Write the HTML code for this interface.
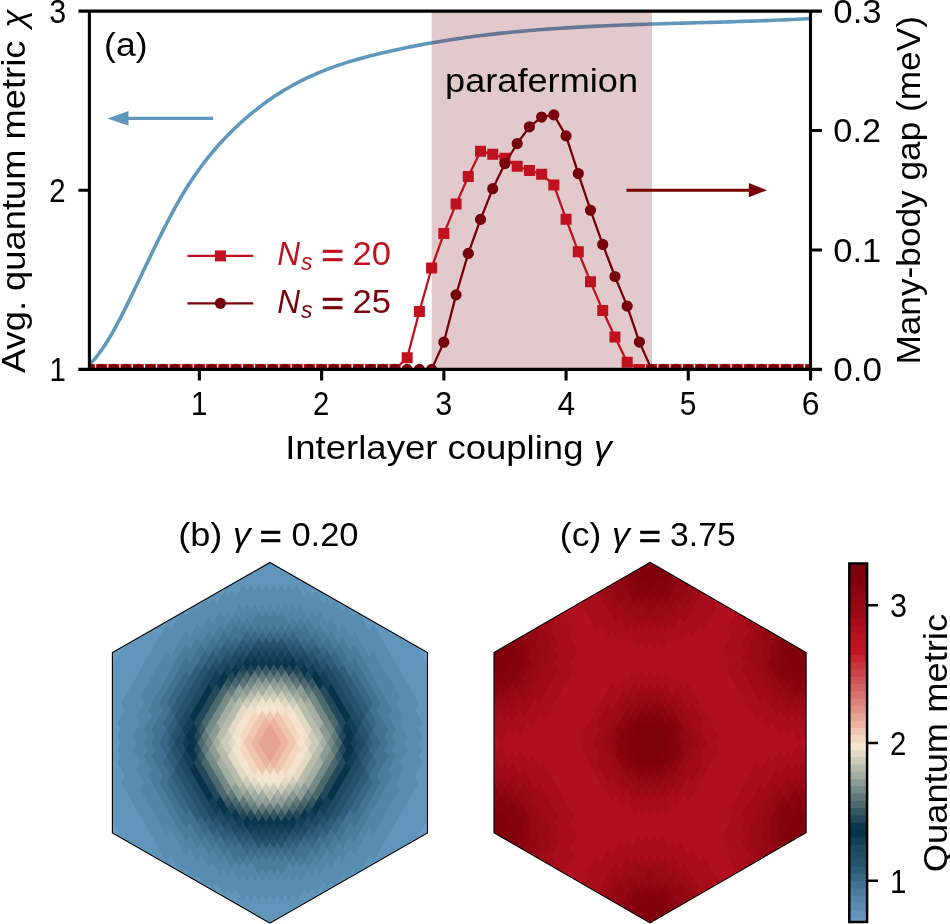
<!DOCTYPE html><html><head><meta charset="utf-8"><style>html,body{margin:0;padding:0;background:#fff;overflow:hidden}svg{display:block}text{font-family:"Liberation Sans",sans-serif}</style></head><body><svg width="950" height="924" viewBox="0 0 950 924"><defs><clipPath id="ax"><rect x="89.4" y="11.1" width="721.1" height="358.3"/></clipPath><clipPath id="hx0"><polygon points="269.95,562.4 427.5,652.6 427.5,833 269.95,923.2 112.4,833 112.4,652.6"/></clipPath><clipPath id="hx1"><polygon points="650.05,562.3 806.1,652.45 806.1,832.75 650.05,922.9 494,832.75 494,652.45"/></clipPath></defs><g clip-path="url(#ax)"><path d="M89.4 364.49L93.94 359.84L98.47 354.3L103.01 347.98L107.54 340.96L112.08 333.33L116.61 325.17L121.15 316.57L125.68 307.62L130.22 298.4L134.75 289L139.29 279.51L143.82 269.99L148.36 260.5L152.89 251.09L157.43 241.79L161.96 232.65L166.5 223.73L171.03 215.06L175.57 206.69L180.1 198.68L184.64 191.06L189.17 183.83L193.71 176.97L198.25 170.46L202.78 164.29L207.32 158.42L211.85 152.84L216.39 147.53L220.92 142.47L225.46 137.63L229.99 133L234.53 128.56L239.06 124.28L243.6 120.18L248.13 116.24L252.67 112.46L257.2 108.83L261.74 105.36L266.27 102.03L270.81 98.84L275.34 95.79L279.88 92.88L284.41 90.09L288.95 87.43L293.48 84.89L298.02 82.46L302.56 80.15L307.09 77.94L311.63 75.83L316.16 73.82L320.7 71.91L325.23 70.08L329.77 68.34L334.3 66.68L338.84 65.1L343.37 63.59L347.91 62.14L352.44 60.76L356.98 59.43L361.51 58.16L366.05 56.94L370.58 55.77L375.12 54.63L379.65 53.54L384.19 52.47L388.72 51.43L393.26 50.42L397.79 49.44L402.33 48.48L406.87 47.54L411.4 46.64L415.94 45.75L420.47 44.89L425.01 44.06L429.54 43.25L434.08 42.46L438.61 41.69L443.15 40.95L447.68 40.23L452.22 39.53L456.75 38.85L461.29 38.19L465.82 37.56L470.36 36.94L474.89 36.34L479.43 35.76L483.96 35.2L488.5 34.66L493.03 34.14L497.57 33.63L502.11 33.14L506.64 32.67L511.18 32.22L515.71 31.78L520.25 31.36L524.78 30.95L529.32 30.55L533.85 30.17L538.39 29.81L542.92 29.46L547.46 29.12L551.99 28.79L556.53 28.48L561.06 28.18L565.6 27.89L570.13 27.61L574.67 27.34L579.2 27.09L583.74 26.84L588.27 26.6L592.81 26.37L597.34 26.15L601.88 25.94L606.42 25.74L610.95 25.55L615.49 25.36L620.02 25.18L624.56 25L629.09 24.83L633.63 24.67L638.16 24.51L642.7 24.36L647.23 24.21L651.77 24.07L656.3 23.93L660.84 23.79L665.37 23.65L669.91 23.52L674.44 23.39L678.98 23.26L683.51 23.14L688.05 23.01L692.58 22.88L697.12 22.76L701.65 22.63L706.19 22.5L710.73 22.38L715.26 22.25L719.8 22.12L724.33 21.98L728.87 21.85L733.4 21.71L737.94 21.56L742.47 21.42L747.01 21.27L751.54 21.11L756.08 20.95L760.61 20.78L765.15 20.61L769.68 20.43L774.22 20.25L778.75 20.05L783.29 19.85L787.82 19.64L792.36 19.43L796.89 19.2L801.43 18.97L805.96 18.73L810.5 18.47" fill="none" stroke="#6098bc" stroke-width="3.6" stroke-linejoin="round"/></g><path d="M128 118.4H213" stroke="#6098bc" stroke-width="3.2"/><path d="M107.5 118.4L128.5 111.1L128.5 125.7Z" fill="#6098bc"/><rect x="431.7" y="11.1" width="220.3" height="358.3" fill="#780010" fill-opacity="0.21"/><g clip-path="url(#ax)"><path d="M89.4 369.4L101.62 369.4L113.84 369.4L126.07 369.4L138.29 369.4L150.51 369.4L162.73 369.4L174.95 369.4L187.18 369.4L199.4 369.4L211.62 369.4L223.84 369.4L236.06 369.4L248.29 369.4L260.51 369.4L272.73 369.4L284.95 369.4L297.17 369.4L309.4 369.4L321.62 369.4L333.84 369.4L346.06 369.4L358.28 369.4L370.51 369.4L382.73 369.4L394.95 369.4L407.17 357.81L419.39 311.47L431.62 268L443.84 233.6L456.06 204.1L468.28 176.52L480.51 151.31L492.73 154.18L504.95 158.36L517.17 166.24L529.39 170.54L541.62 174.25L553.84 184.88L566.06 219.15L578.28 251.64L590.5 281.86L602.73 310.4L614.95 336.91L627.17 362.23L639.39 369.4L651.61 369.4L663.84 369.4L676.06 369.4L688.28 369.4L700.5 369.4L712.72 369.4L724.95 369.4L737.17 369.4L749.39 369.4L761.61 369.4L773.83 369.4L786.06 369.4L798.28 369.4L810.5 369.4" fill="none" stroke="#c0111f" stroke-width="2.3" stroke-linejoin="round"/><path d="M83.9 363.9h11v11h-11ZM96.12 363.9h11v11h-11ZM108.34 363.9h11v11h-11ZM120.57 363.9h11v11h-11ZM132.79 363.9h11v11h-11ZM145.01 363.9h11v11h-11ZM157.23 363.9h11v11h-11ZM169.45 363.9h11v11h-11ZM181.68 363.9h11v11h-11ZM193.9 363.9h11v11h-11ZM206.12 363.9h11v11h-11ZM218.34 363.9h11v11h-11ZM230.56 363.9h11v11h-11ZM242.79 363.9h11v11h-11ZM255.01 363.9h11v11h-11ZM267.23 363.9h11v11h-11ZM279.45 363.9h11v11h-11ZM291.67 363.9h11v11h-11ZM303.9 363.9h11v11h-11ZM316.12 363.9h11v11h-11ZM328.34 363.9h11v11h-11ZM340.56 363.9h11v11h-11ZM352.78 363.9h11v11h-11ZM365.01 363.9h11v11h-11ZM377.23 363.9h11v11h-11ZM389.45 363.9h11v11h-11ZM401.67 352.31h11v11h-11ZM413.89 305.97h11v11h-11ZM426.12 262.5h11v11h-11ZM438.34 228.1h11v11h-11ZM450.56 198.6h11v11h-11ZM462.78 171.02h11v11h-11ZM475.01 145.81h11v11h-11ZM487.23 148.68h11v11h-11ZM499.45 152.86h11v11h-11ZM511.67 160.74h11v11h-11ZM523.89 165.04h11v11h-11ZM536.12 168.75h11v11h-11ZM548.34 179.38h11v11h-11ZM560.56 213.65h11v11h-11ZM572.78 246.14h11v11h-11ZM585 276.36h11v11h-11ZM597.23 304.9h11v11h-11ZM609.45 331.41h11v11h-11ZM621.67 356.73h11v11h-11ZM633.89 363.9h11v11h-11ZM646.11 363.9h11v11h-11ZM658.34 363.9h11v11h-11ZM670.56 363.9h11v11h-11ZM682.78 363.9h11v11h-11ZM695 363.9h11v11h-11ZM707.22 363.9h11v11h-11ZM719.45 363.9h11v11h-11ZM731.67 363.9h11v11h-11ZM743.89 363.9h11v11h-11ZM756.11 363.9h11v11h-11ZM768.33 363.9h11v11h-11ZM780.56 363.9h11v11h-11ZM792.78 363.9h11v11h-11ZM805 363.9h11v11h-11Z" fill="#c0111f"/><path d="M89.4 369.4L101.62 369.4L113.84 369.4L126.07 369.4L138.29 369.4L150.51 369.4L162.73 369.4L174.95 369.4L187.18 369.4L199.4 369.4L211.62 369.4L223.84 369.4L236.06 369.4L248.29 369.4L260.51 369.4L272.73 369.4L284.95 369.4L297.17 369.4L309.4 369.4L321.62 369.4L333.84 369.4L346.06 369.4L358.28 369.4L370.51 369.4L382.73 369.4L394.95 369.4L407.17 369.4L419.39 369.4L431.62 369.4L443.84 342.17L456.06 294.87L468.28 253.43L480.51 219.39L492.73 188.7L504.95 163.62L517.17 143.55L529.39 126.83L541.62 117.04L553.84 114.89L566.06 135.91L578.28 173.53L590.5 210.2L602.73 244.47L614.95 276.48L627.17 306.1L639.39 342.05L651.61 369.4L663.84 369.4L676.06 369.4L688.28 369.4L700.5 369.4L712.72 369.4L724.95 369.4L737.17 369.4L749.39 369.4L761.61 369.4L773.83 369.4L786.06 369.4L798.28 369.4L810.5 369.4" fill="none" stroke="#78000a" stroke-width="2.3" stroke-linejoin="round"/><path d="M83.8 369.4a5.6 5.6 0 1 0 11.2 0a5.6 5.6 0 1 0 -11.2 0ZM96.02 369.4a5.6 5.6 0 1 0 11.2 0a5.6 5.6 0 1 0 -11.2 0ZM108.24 369.4a5.6 5.6 0 1 0 11.2 0a5.6 5.6 0 1 0 -11.2 0ZM120.47 369.4a5.6 5.6 0 1 0 11.2 0a5.6 5.6 0 1 0 -11.2 0ZM132.69 369.4a5.6 5.6 0 1 0 11.2 0a5.6 5.6 0 1 0 -11.2 0ZM144.91 369.4a5.6 5.6 0 1 0 11.2 0a5.6 5.6 0 1 0 -11.2 0ZM157.13 369.4a5.6 5.6 0 1 0 11.2 0a5.6 5.6 0 1 0 -11.2 0ZM169.35 369.4a5.6 5.6 0 1 0 11.2 0a5.6 5.6 0 1 0 -11.2 0ZM181.58 369.4a5.6 5.6 0 1 0 11.2 0a5.6 5.6 0 1 0 -11.2 0ZM193.8 369.4a5.6 5.6 0 1 0 11.2 0a5.6 5.6 0 1 0 -11.2 0ZM206.02 369.4a5.6 5.6 0 1 0 11.2 0a5.6 5.6 0 1 0 -11.2 0ZM218.24 369.4a5.6 5.6 0 1 0 11.2 0a5.6 5.6 0 1 0 -11.2 0ZM230.46 369.4a5.6 5.6 0 1 0 11.2 0a5.6 5.6 0 1 0 -11.2 0ZM242.69 369.4a5.6 5.6 0 1 0 11.2 0a5.6 5.6 0 1 0 -11.2 0ZM254.91 369.4a5.6 5.6 0 1 0 11.2 0a5.6 5.6 0 1 0 -11.2 0ZM267.13 369.4a5.6 5.6 0 1 0 11.2 0a5.6 5.6 0 1 0 -11.2 0ZM279.35 369.4a5.6 5.6 0 1 0 11.2 0a5.6 5.6 0 1 0 -11.2 0ZM291.57 369.4a5.6 5.6 0 1 0 11.2 0a5.6 5.6 0 1 0 -11.2 0ZM303.8 369.4a5.6 5.6 0 1 0 11.2 0a5.6 5.6 0 1 0 -11.2 0ZM316.02 369.4a5.6 5.6 0 1 0 11.2 0a5.6 5.6 0 1 0 -11.2 0ZM328.24 369.4a5.6 5.6 0 1 0 11.2 0a5.6 5.6 0 1 0 -11.2 0ZM340.46 369.4a5.6 5.6 0 1 0 11.2 0a5.6 5.6 0 1 0 -11.2 0ZM352.68 369.4a5.6 5.6 0 1 0 11.2 0a5.6 5.6 0 1 0 -11.2 0ZM364.91 369.4a5.6 5.6 0 1 0 11.2 0a5.6 5.6 0 1 0 -11.2 0ZM377.13 369.4a5.6 5.6 0 1 0 11.2 0a5.6 5.6 0 1 0 -11.2 0ZM389.35 369.4a5.6 5.6 0 1 0 11.2 0a5.6 5.6 0 1 0 -11.2 0ZM401.57 369.4a5.6 5.6 0 1 0 11.2 0a5.6 5.6 0 1 0 -11.2 0ZM413.79 369.4a5.6 5.6 0 1 0 11.2 0a5.6 5.6 0 1 0 -11.2 0ZM426.02 369.4a5.6 5.6 0 1 0 11.2 0a5.6 5.6 0 1 0 -11.2 0ZM438.24 342.17a5.6 5.6 0 1 0 11.2 0a5.6 5.6 0 1 0 -11.2 0ZM450.46 294.87a5.6 5.6 0 1 0 11.2 0a5.6 5.6 0 1 0 -11.2 0ZM462.68 253.43a5.6 5.6 0 1 0 11.2 0a5.6 5.6 0 1 0 -11.2 0ZM474.91 219.39a5.6 5.6 0 1 0 11.2 0a5.6 5.6 0 1 0 -11.2 0ZM487.13 188.7a5.6 5.6 0 1 0 11.2 0a5.6 5.6 0 1 0 -11.2 0ZM499.35 163.62a5.6 5.6 0 1 0 11.2 0a5.6 5.6 0 1 0 -11.2 0ZM511.57 143.55a5.6 5.6 0 1 0 11.2 0a5.6 5.6 0 1 0 -11.2 0ZM523.79 126.83a5.6 5.6 0 1 0 11.2 0a5.6 5.6 0 1 0 -11.2 0ZM536.02 117.04a5.6 5.6 0 1 0 11.2 0a5.6 5.6 0 1 0 -11.2 0ZM548.24 114.89a5.6 5.6 0 1 0 11.2 0a5.6 5.6 0 1 0 -11.2 0ZM560.46 135.91a5.6 5.6 0 1 0 11.2 0a5.6 5.6 0 1 0 -11.2 0ZM572.68 173.53a5.6 5.6 0 1 0 11.2 0a5.6 5.6 0 1 0 -11.2 0ZM584.9 210.2a5.6 5.6 0 1 0 11.2 0a5.6 5.6 0 1 0 -11.2 0ZM597.13 244.47a5.6 5.6 0 1 0 11.2 0a5.6 5.6 0 1 0 -11.2 0ZM609.35 276.48a5.6 5.6 0 1 0 11.2 0a5.6 5.6 0 1 0 -11.2 0ZM621.57 306.1a5.6 5.6 0 1 0 11.2 0a5.6 5.6 0 1 0 -11.2 0ZM633.79 342.05a5.6 5.6 0 1 0 11.2 0a5.6 5.6 0 1 0 -11.2 0ZM646.01 369.4a5.6 5.6 0 1 0 11.2 0a5.6 5.6 0 1 0 -11.2 0ZM658.24 369.4a5.6 5.6 0 1 0 11.2 0a5.6 5.6 0 1 0 -11.2 0ZM670.46 369.4a5.6 5.6 0 1 0 11.2 0a5.6 5.6 0 1 0 -11.2 0ZM682.68 369.4a5.6 5.6 0 1 0 11.2 0a5.6 5.6 0 1 0 -11.2 0ZM694.9 369.4a5.6 5.6 0 1 0 11.2 0a5.6 5.6 0 1 0 -11.2 0ZM707.12 369.4a5.6 5.6 0 1 0 11.2 0a5.6 5.6 0 1 0 -11.2 0ZM719.35 369.4a5.6 5.6 0 1 0 11.2 0a5.6 5.6 0 1 0 -11.2 0ZM731.57 369.4a5.6 5.6 0 1 0 11.2 0a5.6 5.6 0 1 0 -11.2 0ZM743.79 369.4a5.6 5.6 0 1 0 11.2 0a5.6 5.6 0 1 0 -11.2 0ZM756.01 369.4a5.6 5.6 0 1 0 11.2 0a5.6 5.6 0 1 0 -11.2 0ZM768.23 369.4a5.6 5.6 0 1 0 11.2 0a5.6 5.6 0 1 0 -11.2 0ZM780.46 369.4a5.6 5.6 0 1 0 11.2 0a5.6 5.6 0 1 0 -11.2 0ZM792.68 369.4a5.6 5.6 0 1 0 11.2 0a5.6 5.6 0 1 0 -11.2 0ZM804.9 369.4a5.6 5.6 0 1 0 11.2 0a5.6 5.6 0 1 0 -11.2 0Z" fill="#78000a"/></g><path d="M626.5 190.2H750" stroke="#780000" stroke-width="3.1"/><path d="M767 190.2L748.8 183.1L748.8 197.3Z" fill="#780000"/><path d="M187.4 255.9H253.2" stroke="#c0111f" stroke-width="2.3"/><rect x="214.9" y="250.4" width="11" height="11" fill="#c0111f"/><path d="M187.4 303.3H253.2" stroke="#78000a" stroke-width="2.3"/><circle cx="220.4" cy="303.3" r="5.6" fill="#78000a"/><path d="M89.4 11.1H810.5V369.4H89.4ZM199.4 369.4v11M321.62 369.4v11M443.84 369.4v11M566.06 369.4v11M688.28 369.4v11M810.5 369.4v11M89.4 369.4h-11M89.4 190.25h-11M89.4 11.1h-11M810.5 369.4h11.5M810.5 249.97h11.5M810.5 130.53h11.5M810.5 11.1h11.5" fill="none" stroke="#000" stroke-width="3.1" stroke-linecap="butt"/><g clip-path="url(#hx0)"><path fill="#699cc3" d="M269.95 551.51l7.6 12.65-7.6 12.65-7.6-12.65zm-148.98 86.01l7.6 12.65-7.6 12.65-7.6-12.65zm297.96 0l7.6 12.65-7.6 12.65-7.6-12.65zm-301.78 6.62l7.6 12.65-7.6 12.65-7.6-12.65zm305.6 0l7.6 12.65-7.6 12.65-7.6-12.65zm-309.42 6.62l7.6 12.65-7.6 12.65-7.6-12.65zm313.24 0l7.6 12.65-7.6 12.65-7.6-12.65zm-313.24 158.79l7.6 12.65-7.6 12.65-7.6-12.65zm313.24 0l7.6 12.65-7.6 12.65-7.6-12.65zm-309.42 6.62l7.6 12.65-7.6 12.65-7.6-12.65zm305.6 0l7.6 12.65-7.6 12.65-7.6-12.65zm-301.78 6.62l7.6 12.65-7.6 12.65-7.6-12.65zm297.96 0l7.6 12.65-7.6 12.65-7.6-12.65zm-148.98 86.01l7.6 12.65-7.6 12.65-7.6-12.65z"/><path fill="#6195ba" d="M258.49 558.12l7.6 12.65-7.6 12.65-7.6-12.65zm7.64 0l7.6 12.65-7.6 12.65-7.6-12.65zm7.64 0l7.6 12.65-7.6 12.65-7.6-12.65zm7.64 0l7.6 12.65-7.6 12.65-7.6-12.65zm-34.38 6.62l7.6 12.65-7.6 12.65-7.6-12.65zm7.64 0l7.6 12.65-7.6 12.65-7.6-12.65zm7.64 0l7.6 12.65-7.6 12.65-7.6-12.65zm7.64 0l7.6 12.65-7.6 12.65-7.6-12.65zm7.64 0l7.6 12.65-7.6 12.65-7.6-12.65zm7.64 0l7.6 12.65-7.6 12.65-7.6-12.65zm7.64 0l7.6 12.65-7.6 12.65-7.6-12.65zm-57.3 6.62l7.6 12.65-7.6 12.65-7.6-12.65zm7.64 0l7.6 12.65-7.6 12.65-7.6-12.65zm7.64 0l7.6 12.65-7.6 12.65-7.6-12.65zm7.64 0l7.6 12.65-7.6 12.65-7.6-12.65zm7.64 0l7.6 12.65-7.6 12.65-7.6-12.65zm7.64 0l7.6 12.65-7.6 12.65-7.6-12.65zm7.64 0l7.6 12.65-7.6 12.65-7.6-12.65zm7.64 0l7.6 12.65-7.6 12.65-7.6-12.65zm7.64 0l7.6 12.65-7.6 12.65-7.6-12.65zm7.64 0l7.6 12.65-7.6 12.65-7.6-12.65zm-80.22 6.62l7.6 12.65-7.6 12.65-7.6-12.65zm7.64 0l7.6 12.65-7.6 12.65-7.6-12.65zm7.64 0l7.6 12.65-7.6 12.65-7.6-12.65zm7.64 0l7.6 12.65-7.6 12.65-7.6-12.65zm7.64 0l7.6 12.65-7.6 12.65-7.6-12.65zm7.64 0l7.6 12.65-7.6 12.65-7.6-12.65zm7.64 0l7.6 12.65-7.6 12.65-7.6-12.65zm7.64 0l7.6 12.65-7.6 12.65-7.6-12.65zm7.64 0l7.6 12.65-7.6 12.65-7.6-12.65zm7.64 0l7.6 12.65-7.6 12.65-7.6-12.65zm7.64 0l7.6 12.65-7.6 12.65-7.6-12.65zm7.64 0l7.6 12.65-7.6 12.65-7.6-12.65zm7.64 0l7.6 12.65-7.6 12.65-7.6-12.65zm-103.14 6.62l7.6 12.65-7.6 12.65-7.6-12.65zm7.64 0l7.6 12.65-7.6 12.65-7.6-12.65zm7.64 0l7.6 12.65-7.6 12.65-7.6-12.65zm7.64 0l7.6 12.65-7.6 12.65-7.6-12.65zm68.76 0l7.6 12.65-7.6 12.65-7.6-12.65zm7.64 0l7.6 12.65-7.6 12.65-7.6-12.65zm7.64 0l7.6 12.65-7.6 12.65-7.6-12.65zm7.64 0l7.6 12.65-7.6 12.65-7.6-12.65zm-126.06 6.62l7.6 12.65-7.6 12.65-7.6-12.65zm7.64 0l7.6 12.65-7.6 12.65-7.6-12.65zm7.64 0l7.6 12.65-7.6 12.65-7.6-12.65zm106.96 0l7.6 12.65-7.6 12.65-7.6-12.65zm7.64 0l7.6 12.65-7.6 12.65-7.6-12.65zm7.64 0l7.6 12.65-7.6 12.65-7.6-12.65zm-148.98 6.62l7.6 12.65-7.6 12.65-7.6-12.65zm7.64 0l7.6 12.65-7.6 12.65-7.6-12.65zm145.16 0l7.6 12.65-7.6 12.65-7.6-12.65zm7.64 0l7.6 12.65-7.6 12.65-7.6-12.65zm-171.9 6.62l7.6 12.65-7.6 12.65-7.6-12.65zm7.64 0l7.6 12.65-7.6 12.65-7.6-12.65zm168.08 0l7.6 12.65-7.6 12.65-7.6-12.65zm7.64 0l7.6 12.65-7.6 12.65-7.6-12.65zm-194.82 6.62l7.6 12.65-7.6 12.65-7.6-12.65zm7.64 0l7.6 12.65-7.6 12.65-7.6-12.65zm191 0l7.6 12.65-7.6 12.65-7.6-12.65zm7.64 0l7.6 12.65-7.6 12.65-7.6-12.65zm-217.74 6.62l7.6 12.65-7.6 12.65-7.6-12.65zm7.64 0l7.6 12.65-7.6 12.65-7.6-12.65zm7.64 0l7.6 12.65-7.6 12.65-7.6-12.65zm198.64 0l7.6 12.65-7.6 12.65-7.6-12.65zm7.64 0l7.6 12.65-7.6 12.65-7.6-12.65zm7.64 0l7.6 12.65-7.6 12.65-7.6-12.65zm-240.66 6.62l7.6 12.65-7.6 12.65-7.6-12.65zm7.64 0l7.6 12.65-7.6 12.65-7.6-12.65zm7.64 0l7.6 12.65-7.6 12.65-7.6-12.65zm221.56 0l7.6 12.65-7.6 12.65-7.6-12.65zm7.64 0l7.6 12.65-7.6 12.65-7.6-12.65zm7.64 0l7.6 12.65-7.6 12.65-7.6-12.65zm-263.58 6.62l7.6 12.65-7.6 12.65-7.6-12.65zm7.64 0l7.6 12.65-7.6 12.65-7.6-12.65zm7.64 0l7.6 12.65-7.6 12.65-7.6-12.65zm7.64 0l7.6 12.65-7.6 12.65-7.6-12.65zm229.2 0l7.6 12.65-7.6 12.65-7.6-12.65zm7.64 0l7.6 12.65-7.6 12.65-7.6-12.65zm7.64 0l7.6 12.65-7.6 12.65-7.6-12.65zm7.64 0l7.6 12.65-7.6 12.65-7.6-12.65zm-278.86 6.62l7.6 12.65-7.6 12.65-7.6-12.65zm7.64 0l7.6 12.65-7.6 12.65-7.6-12.65zm7.64 0l7.6 12.65-7.6 12.65-7.6-12.65zm7.64 0l7.6 12.65-7.6 12.65-7.6-12.65zm236.84 0l7.6 12.65-7.6 12.65-7.6-12.65zm7.64 0l7.6 12.65-7.6 12.65-7.6-12.65zm7.64 0l7.6 12.65-7.6 12.65-7.6-12.65zm7.64 0l7.6 12.65-7.6 12.65-7.6-12.65zm-286.5 6.62l7.6 12.65-7.6 12.65-7.6-12.65zm7.64 0l7.6 12.65-7.6 12.65-7.6-12.65zm7.64 0l7.6 12.65-7.6 12.65-7.6-12.65zm7.64 0l7.6 12.65-7.6 12.65-7.6-12.65zm244.48 0l7.6 12.65-7.6 12.65-7.6-12.65zm7.64 0l7.6 12.65-7.6 12.65-7.6-12.65zm7.64 0l7.6 12.65-7.6 12.65-7.6-12.65zm7.64 0l7.6 12.65-7.6 12.65-7.6-12.65zm-294.14 6.62l7.6 12.65-7.6 12.65-7.6-12.65zm7.64 0l7.6 12.65-7.6 12.65-7.6-12.65zm7.64 0l7.6 12.65-7.6 12.65-7.6-12.65zm7.64 0l7.6 12.65-7.6 12.65-7.6-12.65zm252.12 0l7.6 12.65-7.6 12.65-7.6-12.65zm7.64 0l7.6 12.65-7.6 12.65-7.6-12.65zm7.64 0l7.6 12.65-7.6 12.65-7.6-12.65zm7.64 0l7.6 12.65-7.6 12.65-7.6-12.65zm-301.78 6.62l7.6 12.65-7.6 12.65-7.6-12.65zm7.64 0l7.6 12.65-7.6 12.65-7.6-12.65zm7.64 0l7.6 12.65-7.6 12.65-7.6-12.65zm7.64 0l7.6 12.65-7.6 12.65-7.6-12.65zm259.76 0l7.6 12.65-7.6 12.65-7.6-12.65zm7.64 0l7.6 12.65-7.6 12.65-7.6-12.65zm7.64 0l7.6 12.65-7.6 12.65-7.6-12.65zm7.64 0l7.6 12.65-7.6 12.65-7.6-12.65zm-309.42 6.62l7.6 12.65-7.6 12.65-7.6-12.65zm7.64 0l7.6 12.65-7.6 12.65-7.6-12.65zm7.64 0l7.6 12.65-7.6 12.65-7.6-12.65zm7.64 0l7.6 12.65-7.6 12.65-7.6-12.65zm267.4 0l7.6 12.65-7.6 12.65-7.6-12.65zm7.64 0l7.6 12.65-7.6 12.65-7.6-12.65zm7.64 0l7.6 12.65-7.6 12.65-7.6-12.65zm7.64 0l7.6 12.65-7.6 12.65-7.6-12.65zm-309.42 6.62l7.6 12.65-7.6 12.65-7.6-12.65zm7.64 0l7.6 12.65-7.6 12.65-7.6-12.65zm7.64 0l7.6 12.65-7.6 12.65-7.6-12.65zm275.04 0l7.6 12.65-7.6 12.65-7.6-12.65zm7.64 0l7.6 12.65-7.6 12.65-7.6-12.65zm7.64 0l7.6 12.65-7.6 12.65-7.6-12.65zm-309.42 6.62l7.6 12.65-7.6 12.65-7.6-12.65zm7.64 0l7.6 12.65-7.6 12.65-7.6-12.65zm7.64 0l7.6 12.65-7.6 12.65-7.6-12.65zm282.68 0l7.6 12.65-7.6 12.65-7.6-12.65zm7.64 0l7.6 12.65-7.6 12.65-7.6-12.65zm7.64 0l7.6 12.65-7.6 12.65-7.6-12.65zm-309.42 6.62l7.6 12.65-7.6 12.65-7.6-12.65zm7.64 0l7.6 12.65-7.6 12.65-7.6-12.65zm290.32 0l7.6 12.65-7.6 12.65-7.6-12.65zm7.64 0l7.6 12.65-7.6 12.65-7.6-12.65zm-309.42 6.62l7.6 12.65-7.6 12.65-7.6-12.65zm7.64 0l7.6 12.65-7.6 12.65-7.6-12.65zm297.96 0l7.6 12.65-7.6 12.65-7.6-12.65zm7.64 0l7.6 12.65-7.6 12.65-7.6-12.65zm-309.42 6.62l7.6 12.65-7.6 12.65-7.6-12.65zm7.64 0l7.6 12.65-7.6 12.65-7.6-12.65zm290.32 0l7.6 12.65-7.6 12.65-7.6-12.65zm7.64 0l7.6 12.65-7.6 12.65-7.6-12.65zm-309.42 6.62l7.6 12.65-7.6 12.65-7.6-12.65zm7.64 0l7.6 12.65-7.6 12.65-7.6-12.65zm297.96 0l7.6 12.65-7.6 12.65-7.6-12.65zm7.64 0l7.6 12.65-7.6 12.65-7.6-12.65zm-309.42 6.62l7.6 12.65-7.6 12.65-7.6-12.65zm305.6 0l7.6 12.65-7.6 12.65-7.6-12.65zm-309.42 6.62l7.6 12.65-7.6 12.65-7.6-12.65zm7.64 0l7.6 12.65-7.6 12.65-7.6-12.65zm297.96 0l7.6 12.65-7.6 12.65-7.6-12.65zm7.64 0l7.6 12.65-7.6 12.65-7.6-12.65zm-309.42 6.62l7.6 12.65-7.6 12.65-7.6-12.65zm305.6 0l7.6 12.65-7.6 12.65-7.6-12.65zm-309.42 6.62l7.6 12.65-7.6 12.65-7.6-12.65zm7.64 0l7.6 12.65-7.6 12.65-7.6-12.65zm297.96 0l7.6 12.65-7.6 12.65-7.6-12.65zm7.64 0l7.6 12.65-7.6 12.65-7.6-12.65zm-309.42 6.62l7.6 12.65-7.6 12.65-7.6-12.65zm305.6 0l7.6 12.65-7.6 12.65-7.6-12.65zm-309.42 6.62l7.6 12.65-7.6 12.65-7.6-12.65zm7.64 0l7.6 12.65-7.6 12.65-7.6-12.65zm297.96 0l7.6 12.65-7.6 12.65-7.6-12.65zm7.64 0l7.6 12.65-7.6 12.65-7.6-12.65zm-309.42 6.62l7.6 12.65-7.6 12.65-7.6-12.65zm305.6 0l7.6 12.65-7.6 12.65-7.6-12.65zm-309.42 6.62l7.6 12.65-7.6 12.65-7.6-12.65zm7.64 0l7.6 12.65-7.6 12.65-7.6-12.65zm297.96 0l7.6 12.65-7.6 12.65-7.6-12.65zm7.64 0l7.6 12.65-7.6 12.65-7.6-12.65zm-309.42 6.62l7.6 12.65-7.6 12.65-7.6-12.65zm7.64 0l7.6 12.65-7.6 12.65-7.6-12.65zm290.32 0l7.6 12.65-7.6 12.65-7.6-12.65zm7.64 0l7.6 12.65-7.6 12.65-7.6-12.65zm-309.42 6.62l7.6 12.65-7.6 12.65-7.6-12.65zm7.64 0l7.6 12.65-7.6 12.65-7.6-12.65zm297.96 0l7.6 12.65-7.6 12.65-7.6-12.65zm7.64 0l7.6 12.65-7.6 12.65-7.6-12.65zm-309.42 6.62l7.6 12.65-7.6 12.65-7.6-12.65zm7.64 0l7.6 12.65-7.6 12.65-7.6-12.65zm290.32 0l7.6 12.65-7.6 12.65-7.6-12.65zm7.64 0l7.6 12.65-7.6 12.65-7.6-12.65zm-309.42 6.62l7.6 12.65-7.6 12.65-7.6-12.65zm7.64 0l7.6 12.65-7.6 12.65-7.6-12.65zm7.64 0l7.6 12.65-7.6 12.65-7.6-12.65zm282.68 0l7.6 12.65-7.6 12.65-7.6-12.65zm7.64 0l7.6 12.65-7.6 12.65-7.6-12.65zm7.64 0l7.6 12.65-7.6 12.65-7.6-12.65zm-309.42 6.62l7.6 12.65-7.6 12.65-7.6-12.65zm7.64 0l7.6 12.65-7.6 12.65-7.6-12.65zm7.64 0l7.6 12.65-7.6 12.65-7.6-12.65zm275.04 0l7.6 12.65-7.6 12.65-7.6-12.65zm7.64 0l7.6 12.65-7.6 12.65-7.6-12.65zm7.64 0l7.6 12.65-7.6 12.65-7.6-12.65zm-309.42 6.62l7.6 12.65-7.6 12.65-7.6-12.65zm7.64 0l7.6 12.65-7.6 12.65-7.6-12.65zm7.64 0l7.6 12.65-7.6 12.65-7.6-12.65zm7.64 0l7.6 12.65-7.6 12.65-7.6-12.65zm267.4 0l7.6 12.65-7.6 12.65-7.6-12.65zm7.64 0l7.6 12.65-7.6 12.65-7.6-12.65zm7.64 0l7.6 12.65-7.6 12.65-7.6-12.65zm7.64 0l7.6 12.65-7.6 12.65-7.6-12.65zm-309.42 6.62l7.6 12.65-7.6 12.65-7.6-12.65zm7.64 0l7.6 12.65-7.6 12.65-7.6-12.65zm7.64 0l7.6 12.65-7.6 12.65-7.6-12.65zm7.64 0l7.6 12.65-7.6 12.65-7.6-12.65zm259.76 0l7.6 12.65-7.6 12.65-7.6-12.65zm7.64 0l7.6 12.65-7.6 12.65-7.6-12.65zm7.64 0l7.6 12.65-7.6 12.65-7.6-12.65zm7.64 0l7.6 12.65-7.6 12.65-7.6-12.65zm-301.78 6.62l7.6 12.65-7.6 12.65-7.6-12.65zm7.64 0l7.6 12.65-7.6 12.65-7.6-12.65zm7.64 0l7.6 12.65-7.6 12.65-7.6-12.65zm7.64 0l7.6 12.65-7.6 12.65-7.6-12.65zm252.12 0l7.6 12.65-7.6 12.65-7.6-12.65zm7.64 0l7.6 12.65-7.6 12.65-7.6-12.65zm7.64 0l7.6 12.65-7.6 12.65-7.6-12.65zm7.64 0l7.6 12.65-7.6 12.65-7.6-12.65zm-294.14 6.62l7.6 12.65-7.6 12.65-7.6-12.65zm7.64 0l7.6 12.65-7.6 12.65-7.6-12.65zm7.64 0l7.6 12.65-7.6 12.65-7.6-12.65zm7.64 0l7.6 12.65-7.6 12.65-7.6-12.65zm244.48 0l7.6 12.65-7.6 12.65-7.6-12.65zm7.64 0l7.6 12.65-7.6 12.65-7.6-12.65zm7.64 0l7.6 12.65-7.6 12.65-7.6-12.65zm7.64 0l7.6 12.65-7.6 12.65-7.6-12.65zm-286.5 6.62l7.6 12.65-7.6 12.65-7.6-12.65zm7.64 0l7.6 12.65-7.6 12.65-7.6-12.65zm7.64 0l7.6 12.65-7.6 12.65-7.6-12.65zm7.64 0l7.6 12.65-7.6 12.65-7.6-12.65zm236.84 0l7.6 12.65-7.6 12.65-7.6-12.65zm7.64 0l7.6 12.65-7.6 12.65-7.6-12.65zm7.64 0l7.6 12.65-7.6 12.65-7.6-12.65zm7.64 0l7.6 12.65-7.6 12.65-7.6-12.65zm-278.86 6.62l7.6 12.65-7.6 12.65-7.6-12.65zm7.64 0l7.6 12.65-7.6 12.65-7.6-12.65zm7.64 0l7.6 12.65-7.6 12.65-7.6-12.65zm7.64 0l7.6 12.65-7.6 12.65-7.6-12.65zm229.2 0l7.6 12.65-7.6 12.65-7.6-12.65zm7.64 0l7.6 12.65-7.6 12.65-7.6-12.65zm7.64 0l7.6 12.65-7.6 12.65-7.6-12.65zm7.64 0l7.6 12.65-7.6 12.65-7.6-12.65zm-263.58 6.62l7.6 12.65-7.6 12.65-7.6-12.65zm7.64 0l7.6 12.65-7.6 12.65-7.6-12.65zm7.64 0l7.6 12.65-7.6 12.65-7.6-12.65zm221.56 0l7.6 12.65-7.6 12.65-7.6-12.65zm7.64 0l7.6 12.65-7.6 12.65-7.6-12.65zm7.64 0l7.6 12.65-7.6 12.65-7.6-12.65zm-240.66 6.62l7.6 12.65-7.6 12.65-7.6-12.65zm7.64 0l7.6 12.65-7.6 12.65-7.6-12.65zm7.64 0l7.6 12.65-7.6 12.65-7.6-12.65zm198.64 0l7.6 12.65-7.6 12.65-7.6-12.65zm7.64 0l7.6 12.65-7.6 12.65-7.6-12.65zm7.64 0l7.6 12.65-7.6 12.65-7.6-12.65zm-217.74 6.62l7.6 12.65-7.6 12.65-7.6-12.65zm7.64 0l7.6 12.65-7.6 12.65-7.6-12.65zm191 0l7.6 12.65-7.6 12.65-7.6-12.65zm7.64 0l7.6 12.65-7.6 12.65-7.6-12.65zm-194.82 6.62l7.6 12.65-7.6 12.65-7.6-12.65zm7.64 0l7.6 12.65-7.6 12.65-7.6-12.65zm168.08 0l7.6 12.65-7.6 12.65-7.6-12.65zm7.64 0l7.6 12.65-7.6 12.65-7.6-12.65zm-171.9 6.62l7.6 12.65-7.6 12.65-7.6-12.65zm7.64 0l7.6 12.65-7.6 12.65-7.6-12.65zm145.16 0l7.6 12.65-7.6 12.65-7.6-12.65zm7.64 0l7.6 12.65-7.6 12.65-7.6-12.65zm-148.98 6.62l7.6 12.65-7.6 12.65-7.6-12.65zm7.64 0l7.6 12.65-7.6 12.65-7.6-12.65zm7.64 0l7.6 12.65-7.6 12.65-7.6-12.65zm106.96 0l7.6 12.65-7.6 12.65-7.6-12.65zm7.64 0l7.6 12.65-7.6 12.65-7.6-12.65zm7.64 0l7.6 12.65-7.6 12.65-7.6-12.65zm-126.06 6.62l7.6 12.65-7.6 12.65-7.6-12.65zm7.64 0l7.6 12.65-7.6 12.65-7.6-12.65zm7.64 0l7.6 12.65-7.6 12.65-7.6-12.65zm7.64 0l7.6 12.65-7.6 12.65-7.6-12.65zm68.76 0l7.6 12.65-7.6 12.65-7.6-12.65zm7.64 0l7.6 12.65-7.6 12.65-7.6-12.65zm7.64 0l7.6 12.65-7.6 12.65-7.6-12.65zm7.64 0l7.6 12.65-7.6 12.65-7.6-12.65zm-103.14 6.62l7.6 12.65-7.6 12.65-7.6-12.65zm7.64 0l7.6 12.65-7.6 12.65-7.6-12.65zm7.64 0l7.6 12.65-7.6 12.65-7.6-12.65zm7.64 0l7.6 12.65-7.6 12.65-7.6-12.65zm7.64 0l7.6 12.65-7.6 12.65-7.6-12.65zm7.64 0l7.6 12.65-7.6 12.65-7.6-12.65zm7.64 0l7.6 12.65-7.6 12.65-7.6-12.65zm7.64 0l7.6 12.65-7.6 12.65-7.6-12.65zm7.64 0l7.6 12.65-7.6 12.65-7.6-12.65zm7.64 0l7.6 12.65-7.6 12.65-7.6-12.65zm7.64 0l7.6 12.65-7.6 12.65-7.6-12.65zm7.64 0l7.6 12.65-7.6 12.65-7.6-12.65zm7.64 0l7.6 12.65-7.6 12.65-7.6-12.65zm-80.22 6.62l7.6 12.65-7.6 12.65-7.6-12.65zm7.64 0l7.6 12.65-7.6 12.65-7.6-12.65zm7.64 0l7.6 12.65-7.6 12.65-7.6-12.65zm7.64 0l7.6 12.65-7.6 12.65-7.6-12.65zm7.64 0l7.6 12.65-7.6 12.65-7.6-12.65zm7.64 0l7.6 12.65-7.6 12.65-7.6-12.65zm7.64 0l7.6 12.65-7.6 12.65-7.6-12.65zm7.64 0l7.6 12.65-7.6 12.65-7.6-12.65zm7.64 0l7.6 12.65-7.6 12.65-7.6-12.65zm7.64 0l7.6 12.65-7.6 12.65-7.6-12.65zm-57.3 6.62l7.6 12.65-7.6 12.65-7.6-12.65zm7.64 0l7.6 12.65-7.6 12.65-7.6-12.65zm7.64 0l7.6 12.65-7.6 12.65-7.6-12.65zm7.64 0l7.6 12.65-7.6 12.65-7.6-12.65zm7.64 0l7.6 12.65-7.6 12.65-7.6-12.65zm7.64 0l7.6 12.65-7.6 12.65-7.6-12.65zm7.64 0l7.6 12.65-7.6 12.65-7.6-12.65zm-34.38 6.62l7.6 12.65-7.6 12.65-7.6-12.65zm7.64 0l7.6 12.65-7.6 12.65-7.6-12.65zm7.64 0l7.6 12.65-7.6 12.65-7.6-12.65zm7.64 0l7.6 12.65-7.6 12.65-7.6-12.65z"/><path fill="#598db0" d="M243.21 584.59l7.6 12.65-7.6 12.65-7.6-12.65zm7.64 0l7.6 12.65-7.6 12.65-7.6-12.65zm7.64 0l7.6 12.65-7.6 12.65-7.6-12.65zm7.64 0l7.6 12.65-7.6 12.65-7.6-12.65zm7.64 0l7.6 12.65-7.6 12.65-7.6-12.65zm7.64 0l7.6 12.65-7.6 12.65-7.6-12.65zm7.64 0l7.6 12.65-7.6 12.65-7.6-12.65zm7.64 0l7.6 12.65-7.6 12.65-7.6-12.65zm-72.58 6.62l7.6 12.65-7.6 12.65-7.6-12.65zm7.64 0l7.6 12.65-7.6 12.65-7.6-12.65zm7.64 0l7.6 12.65-7.6 12.65-7.6-12.65zm7.64 0l7.6 12.65-7.6 12.65-7.6-12.65zm7.64 0l7.6 12.65-7.6 12.65-7.6-12.65zm7.64 0l7.6 12.65-7.6 12.65-7.6-12.65zm7.64 0l7.6 12.65-7.6 12.65-7.6-12.65zm7.64 0l7.6 12.65-7.6 12.65-7.6-12.65zm7.64 0l7.6 12.65-7.6 12.65-7.6-12.65zm7.64 0l7.6 12.65-7.6 12.65-7.6-12.65zm7.64 0l7.6 12.65-7.6 12.65-7.6-12.65zm7.64 0l7.6 12.65-7.6 12.65-7.6-12.65zm7.64 0l7.6 12.65-7.6 12.65-7.6-12.65zm-110.78 6.62l7.6 12.65-7.6 12.65-7.6-12.65zm7.64 0l7.6 12.65-7.6 12.65-7.6-12.65zm7.64 0l7.6 12.65-7.6 12.65-7.6-12.65zm7.64 0l7.6 12.65-7.6 12.65-7.6-12.65zm7.64 0l7.6 12.65-7.6 12.65-7.6-12.65zm7.64 0l7.6 12.65-7.6 12.65-7.6-12.65zm7.64 0l7.6 12.65-7.6 12.65-7.6-12.65zm7.64 0l7.6 12.65-7.6 12.65-7.6-12.65zm7.64 0l7.6 12.65-7.6 12.65-7.6-12.65zm7.64 0l7.6 12.65-7.6 12.65-7.6-12.65zm7.64 0l7.6 12.65-7.6 12.65-7.6-12.65zm7.64 0l7.6 12.65-7.6 12.65-7.6-12.65zm7.64 0l7.6 12.65-7.6 12.65-7.6-12.65zm7.64 0l7.6 12.65-7.6 12.65-7.6-12.65zm7.64 0l7.6 12.65-7.6 12.65-7.6-12.65zm7.64 0l7.6 12.65-7.6 12.65-7.6-12.65zm7.64 0l7.6 12.65-7.6 12.65-7.6-12.65zm7.64 0l7.6 12.65-7.6 12.65-7.6-12.65zm-141.34 6.62l7.6 12.65-7.6 12.65-7.6-12.65zm7.64 0l7.6 12.65-7.6 12.65-7.6-12.65zm7.64 0l7.6 12.65-7.6 12.65-7.6-12.65zm7.64 0l7.6 12.65-7.6 12.65-7.6-12.65zm7.64 0l7.6 12.65-7.6 12.65-7.6-12.65zm7.64 0l7.6 12.65-7.6 12.65-7.6-12.65zm76.4 0l7.6 12.65-7.6 12.65-7.6-12.65zm7.64 0l7.6 12.65-7.6 12.65-7.6-12.65zm7.64 0l7.6 12.65-7.6 12.65-7.6-12.65zm7.64 0l7.6 12.65-7.6 12.65-7.6-12.65zm7.64 0l7.6 12.65-7.6 12.65-7.6-12.65zm7.64 0l7.6 12.65-7.6 12.65-7.6-12.65zm-164.26 6.62l7.6 12.65-7.6 12.65-7.6-12.65zm7.64 0l7.6 12.65-7.6 12.65-7.6-12.65zm7.64 0l7.6 12.65-7.6 12.65-7.6-12.65zm7.64 0l7.6 12.65-7.6 12.65-7.6-12.65zm7.64 0l7.6 12.65-7.6 12.65-7.6-12.65zm114.6 0l7.6 12.65-7.6 12.65-7.6-12.65zm7.64 0l7.6 12.65-7.6 12.65-7.6-12.65zm7.64 0l7.6 12.65-7.6 12.65-7.6-12.65zm7.64 0l7.6 12.65-7.6 12.65-7.6-12.65zm7.64 0l7.6 12.65-7.6 12.65-7.6-12.65zm-179.54 6.62l7.6 12.65-7.6 12.65-7.6-12.65zm7.64 0l7.6 12.65-7.6 12.65-7.6-12.65zm7.64 0l7.6 12.65-7.6 12.65-7.6-12.65zm7.64 0l7.6 12.65-7.6 12.65-7.6-12.65zm137.52 0l7.6 12.65-7.6 12.65-7.6-12.65zm7.64 0l7.6 12.65-7.6 12.65-7.6-12.65zm7.64 0l7.6 12.65-7.6 12.65-7.6-12.65zm7.64 0l7.6 12.65-7.6 12.65-7.6-12.65zm-194.82 6.62l7.6 12.65-7.6 12.65-7.6-12.65zm7.64 0l7.6 12.65-7.6 12.65-7.6-12.65zm7.64 0l7.6 12.65-7.6 12.65-7.6-12.65zm7.64 0l7.6 12.65-7.6 12.65-7.6-12.65zm160.44 0l7.6 12.65-7.6 12.65-7.6-12.65zm7.64 0l7.6 12.65-7.6 12.65-7.6-12.65zm7.64 0l7.6 12.65-7.6 12.65-7.6-12.65zm7.64 0l7.6 12.65-7.6 12.65-7.6-12.65zm-210.1 6.62l7.6 12.65-7.6 12.65-7.6-12.65zm7.64 0l7.6 12.65-7.6 12.65-7.6-12.65zm7.64 0l7.6 12.65-7.6 12.65-7.6-12.65zm183.36 0l7.6 12.65-7.6 12.65-7.6-12.65zm7.64 0l7.6 12.65-7.6 12.65-7.6-12.65zm7.64 0l7.6 12.65-7.6 12.65-7.6-12.65zm-217.74 6.62l7.6 12.65-7.6 12.65-7.6-12.65zm7.64 0l7.6 12.65-7.6 12.65-7.6-12.65zm7.64 0l7.6 12.65-7.6 12.65-7.6-12.65zm191 0l7.6 12.65-7.6 12.65-7.6-12.65zm7.64 0l7.6 12.65-7.6 12.65-7.6-12.65zm7.64 0l7.6 12.65-7.6 12.65-7.6-12.65zm-225.38 6.62l7.6 12.65-7.6 12.65-7.6-12.65zm7.64 0l7.6 12.65-7.6 12.65-7.6-12.65zm7.64 0l7.6 12.65-7.6 12.65-7.6-12.65zm198.64 0l7.6 12.65-7.6 12.65-7.6-12.65zm7.64 0l7.6 12.65-7.6 12.65-7.6-12.65zm7.64 0l7.6 12.65-7.6 12.65-7.6-12.65zm-233.02 6.62l7.6 12.65-7.6 12.65-7.6-12.65zm7.64 0l7.6 12.65-7.6 12.65-7.6-12.65zm221.56 0l7.6 12.65-7.6 12.65-7.6-12.65zm7.64 0l7.6 12.65-7.6 12.65-7.6-12.65zm-240.66 6.62l7.6 12.65-7.6 12.65-7.6-12.65zm7.64 0l7.6 12.65-7.6 12.65-7.6-12.65zm229.2 0l7.6 12.65-7.6 12.65-7.6-12.65zm7.64 0l7.6 12.65-7.6 12.65-7.6-12.65zm-248.3 6.62l7.6 12.65-7.6 12.65-7.6-12.65zm7.64 0l7.6 12.65-7.6 12.65-7.6-12.65zm236.84 0l7.6 12.65-7.6 12.65-7.6-12.65zm7.64 0l7.6 12.65-7.6 12.65-7.6-12.65zm-255.94 6.62l7.6 12.65-7.6 12.65-7.6-12.65zm7.64 0l7.6 12.65-7.6 12.65-7.6-12.65zm244.48 0l7.6 12.65-7.6 12.65-7.6-12.65zm7.64 0l7.6 12.65-7.6 12.65-7.6-12.65zm-263.58 6.62l7.6 12.65-7.6 12.65-7.6-12.65zm7.64 0l7.6 12.65-7.6 12.65-7.6-12.65zm252.12 0l7.6 12.65-7.6 12.65-7.6-12.65zm7.64 0l7.6 12.65-7.6 12.65-7.6-12.65zm-271.22 6.62l7.6 12.65-7.6 12.65-7.6-12.65zm7.64 0l7.6 12.65-7.6 12.65-7.6-12.65zm259.76 0l7.6 12.65-7.6 12.65-7.6-12.65zm7.64 0l7.6 12.65-7.6 12.65-7.6-12.65zm-278.86 6.62l7.6 12.65-7.6 12.65-7.6-12.65zm7.64 0l7.6 12.65-7.6 12.65-7.6-12.65zm7.64 0l7.6 12.65-7.6 12.65-7.6-12.65zm252.12 0l7.6 12.65-7.6 12.65-7.6-12.65zm7.64 0l7.6 12.65-7.6 12.65-7.6-12.65zm7.64 0l7.6 12.65-7.6 12.65-7.6-12.65zm-278.86 6.62l7.6 12.65-7.6 12.65-7.6-12.65zm7.64 0l7.6 12.65-7.6 12.65-7.6-12.65zm259.76 0l7.6 12.65-7.6 12.65-7.6-12.65zm7.64 0l7.6 12.65-7.6 12.65-7.6-12.65zm-278.86 6.62l7.6 12.65-7.6 12.65-7.6-12.65zm7.64 0l7.6 12.65-7.6 12.65-7.6-12.65zm267.4 0l7.6 12.65-7.6 12.65-7.6-12.65zm7.64 0l7.6 12.65-7.6 12.65-7.6-12.65zm-286.5 6.62l7.6 12.65-7.6 12.65-7.6-12.65zm7.64 0l7.6 12.65-7.6 12.65-7.6-12.65zm7.64 0l7.6 12.65-7.6 12.65-7.6-12.65zm259.76 0l7.6 12.65-7.6 12.65-7.6-12.65zm7.64 0l7.6 12.65-7.6 12.65-7.6-12.65zm7.64 0l7.6 12.65-7.6 12.65-7.6-12.65zm-286.5 6.62l7.6 12.65-7.6 12.65-7.6-12.65zm7.64 0l7.6 12.65-7.6 12.65-7.6-12.65zm267.4 0l7.6 12.65-7.6 12.65-7.6-12.65zm7.64 0l7.6 12.65-7.6 12.65-7.6-12.65zm-286.5 6.62l7.6 12.65-7.6 12.65-7.6-12.65zm7.64 0l7.6 12.65-7.6 12.65-7.6-12.65zm275.04 0l7.6 12.65-7.6 12.65-7.6-12.65zm7.64 0l7.6 12.65-7.6 12.65-7.6-12.65zm-286.5 6.62l7.6 12.65-7.6 12.65-7.6-12.65zm7.64 0l7.6 12.65-7.6 12.65-7.6-12.65zm267.4 0l7.6 12.65-7.6 12.65-7.6-12.65zm7.64 0l7.6 12.65-7.6 12.65-7.6-12.65zm-286.5 6.62l7.6 12.65-7.6 12.65-7.6-12.65zm7.64 0l7.6 12.65-7.6 12.65-7.6-12.65zm275.04 0l7.6 12.65-7.6 12.65-7.6-12.65zm7.64 0l7.6 12.65-7.6 12.65-7.6-12.65zm-286.5 6.62l7.6 12.65-7.6 12.65-7.6-12.65zm7.64 0l7.6 12.65-7.6 12.65-7.6-12.65zm267.4 0l7.6 12.65-7.6 12.65-7.6-12.65zm7.64 0l7.6 12.65-7.6 12.65-7.6-12.65zm-286.5 6.62l7.6 12.65-7.6 12.65-7.6-12.65zm7.64 0l7.6 12.65-7.6 12.65-7.6-12.65zm7.64 0l7.6 12.65-7.6 12.65-7.6-12.65zm259.76 0l7.6 12.65-7.6 12.65-7.6-12.65zm7.64 0l7.6 12.65-7.6 12.65-7.6-12.65zm7.64 0l7.6 12.65-7.6 12.65-7.6-12.65zm-286.5 6.62l7.6 12.65-7.6 12.65-7.6-12.65zm7.64 0l7.6 12.65-7.6 12.65-7.6-12.65zm267.4 0l7.6 12.65-7.6 12.65-7.6-12.65zm7.64 0l7.6 12.65-7.6 12.65-7.6-12.65zm-278.86 6.62l7.6 12.65-7.6 12.65-7.6-12.65zm7.64 0l7.6 12.65-7.6 12.65-7.6-12.65zm259.76 0l7.6 12.65-7.6 12.65-7.6-12.65zm7.64 0l7.6 12.65-7.6 12.65-7.6-12.65zm-278.86 6.62l7.6 12.65-7.6 12.65-7.6-12.65zm7.64 0l7.6 12.65-7.6 12.65-7.6-12.65zm7.64 0l7.6 12.65-7.6 12.65-7.6-12.65zm252.12 0l7.6 12.65-7.6 12.65-7.6-12.65zm7.64 0l7.6 12.65-7.6 12.65-7.6-12.65zm7.64 0l7.6 12.65-7.6 12.65-7.6-12.65zm-278.86 6.62l7.6 12.65-7.6 12.65-7.6-12.65zm7.64 0l7.6 12.65-7.6 12.65-7.6-12.65zm259.76 0l7.6 12.65-7.6 12.65-7.6-12.65zm7.64 0l7.6 12.65-7.6 12.65-7.6-12.65zm-271.22 6.62l7.6 12.65-7.6 12.65-7.6-12.65zm7.64 0l7.6 12.65-7.6 12.65-7.6-12.65zm252.12 0l7.6 12.65-7.6 12.65-7.6-12.65zm7.64 0l7.6 12.65-7.6 12.65-7.6-12.65zm-263.58 6.62l7.6 12.65-7.6 12.65-7.6-12.65zm7.64 0l7.6 12.65-7.6 12.65-7.6-12.65zm244.48 0l7.6 12.65-7.6 12.65-7.6-12.65zm7.64 0l7.6 12.65-7.6 12.65-7.6-12.65zm-255.94 6.62l7.6 12.65-7.6 12.65-7.6-12.65zm7.64 0l7.6 12.65-7.6 12.65-7.6-12.65zm236.84 0l7.6 12.65-7.6 12.65-7.6-12.65zm7.64 0l7.6 12.65-7.6 12.65-7.6-12.65zm-248.3 6.62l7.6 12.65-7.6 12.65-7.6-12.65zm7.64 0l7.6 12.65-7.6 12.65-7.6-12.65zm229.2 0l7.6 12.65-7.6 12.65-7.6-12.65zm7.64 0l7.6 12.65-7.6 12.65-7.6-12.65zm-240.66 6.62l7.6 12.65-7.6 12.65-7.6-12.65zm7.64 0l7.6 12.65-7.6 12.65-7.6-12.65zm221.56 0l7.6 12.65-7.6 12.65-7.6-12.65zm7.64 0l7.6 12.65-7.6 12.65-7.6-12.65zm-233.02 6.62l7.6 12.65-7.6 12.65-7.6-12.65zm7.64 0l7.6 12.65-7.6 12.65-7.6-12.65zm7.64 0l7.6 12.65-7.6 12.65-7.6-12.65zm198.64 0l7.6 12.65-7.6 12.65-7.6-12.65zm7.64 0l7.6 12.65-7.6 12.65-7.6-12.65zm7.64 0l7.6 12.65-7.6 12.65-7.6-12.65zm-225.38 6.62l7.6 12.65-7.6 12.65-7.6-12.65zm7.64 0l7.6 12.65-7.6 12.65-7.6-12.65zm7.64 0l7.6 12.65-7.6 12.65-7.6-12.65zm191 0l7.6 12.65-7.6 12.65-7.6-12.65zm7.64 0l7.6 12.65-7.6 12.65-7.6-12.65zm7.64 0l7.6 12.65-7.6 12.65-7.6-12.65zm-217.74 6.62l7.6 12.65-7.6 12.65-7.6-12.65zm7.64 0l7.6 12.65-7.6 12.65-7.6-12.65zm7.64 0l7.6 12.65-7.6 12.65-7.6-12.65zm183.36 0l7.6 12.65-7.6 12.65-7.6-12.65zm7.64 0l7.6 12.65-7.6 12.65-7.6-12.65zm7.64 0l7.6 12.65-7.6 12.65-7.6-12.65zm-210.1 6.62l7.6 12.65-7.6 12.65-7.6-12.65zm7.64 0l7.6 12.65-7.6 12.65-7.6-12.65zm7.64 0l7.6 12.65-7.6 12.65-7.6-12.65zm7.64 0l7.6 12.65-7.6 12.65-7.6-12.65zm160.44 0l7.6 12.65-7.6 12.65-7.6-12.65zm7.64 0l7.6 12.65-7.6 12.65-7.6-12.65zm7.64 0l7.6 12.65-7.6 12.65-7.6-12.65zm7.64 0l7.6 12.65-7.6 12.65-7.6-12.65zm-194.82 6.62l7.6 12.65-7.6 12.65-7.6-12.65zm7.64 0l7.6 12.65-7.6 12.65-7.6-12.65zm7.64 0l7.6 12.65-7.6 12.65-7.6-12.65zm7.64 0l7.6 12.65-7.6 12.65-7.6-12.65zm137.52 0l7.6 12.65-7.6 12.65-7.6-12.65zm7.64 0l7.6 12.65-7.6 12.65-7.6-12.65zm7.64 0l7.6 12.65-7.6 12.65-7.6-12.65zm7.64 0l7.6 12.65-7.6 12.65-7.6-12.65zm-179.54 6.62l7.6 12.65-7.6 12.65-7.6-12.65zm7.64 0l7.6 12.65-7.6 12.65-7.6-12.65zm7.64 0l7.6 12.65-7.6 12.65-7.6-12.65zm7.64 0l7.6 12.65-7.6 12.65-7.6-12.65zm7.64 0l7.6 12.65-7.6 12.65-7.6-12.65zm114.6 0l7.6 12.65-7.6 12.65-7.6-12.65zm7.64 0l7.6 12.65-7.6 12.65-7.6-12.65zm7.64 0l7.6 12.65-7.6 12.65-7.6-12.65zm7.64 0l7.6 12.65-7.6 12.65-7.6-12.65zm7.64 0l7.6 12.65-7.6 12.65-7.6-12.65zm-164.26 6.62l7.6 12.65-7.6 12.65-7.6-12.65zm7.64 0l7.6 12.65-7.6 12.65-7.6-12.65zm7.64 0l7.6 12.65-7.6 12.65-7.6-12.65zm7.64 0l7.6 12.65-7.6 12.65-7.6-12.65zm7.64 0l7.6 12.65-7.6 12.65-7.6-12.65zm7.64 0l7.6 12.65-7.6 12.65-7.6-12.65zm76.4 0l7.6 12.65-7.6 12.65-7.6-12.65zm7.64 0l7.6 12.65-7.6 12.65-7.6-12.65zm7.64 0l7.6 12.65-7.6 12.65-7.6-12.65zm7.64 0l7.6 12.65-7.6 12.65-7.6-12.65zm7.64 0l7.6 12.65-7.6 12.65-7.6-12.65zm7.64 0l7.6 12.65-7.6 12.65-7.6-12.65zm-141.34 6.62l7.6 12.65-7.6 12.65-7.6-12.65zm7.64 0l7.6 12.65-7.6 12.65-7.6-12.65zm7.64 0l7.6 12.65-7.6 12.65-7.6-12.65zm7.64 0l7.6 12.65-7.6 12.65-7.6-12.65zm7.64 0l7.6 12.65-7.6 12.65-7.6-12.65zm7.64 0l7.6 12.65-7.6 12.65-7.6-12.65zm7.64 0l7.6 12.65-7.6 12.65-7.6-12.65zm7.64 0l7.6 12.65-7.6 12.65-7.6-12.65zm7.64 0l7.6 12.65-7.6 12.65-7.6-12.65zm7.64 0l7.6 12.65-7.6 12.65-7.6-12.65zm7.64 0l7.6 12.65-7.6 12.65-7.6-12.65zm7.64 0l7.6 12.65-7.6 12.65-7.6-12.65zm7.64 0l7.6 12.65-7.6 12.65-7.6-12.65zm7.64 0l7.6 12.65-7.6 12.65-7.6-12.65zm7.64 0l7.6 12.65-7.6 12.65-7.6-12.65zm7.64 0l7.6 12.65-7.6 12.65-7.6-12.65zm7.64 0l7.6 12.65-7.6 12.65-7.6-12.65zm7.64 0l7.6 12.65-7.6 12.65-7.6-12.65zm-110.78 6.62l7.6 12.65-7.6 12.65-7.6-12.65zm7.64 0l7.6 12.65-7.6 12.65-7.6-12.65zm7.64 0l7.6 12.65-7.6 12.65-7.6-12.65zm7.64 0l7.6 12.65-7.6 12.65-7.6-12.65zm7.64 0l7.6 12.65-7.6 12.65-7.6-12.65zm7.64 0l7.6 12.65-7.6 12.65-7.6-12.65zm7.64 0l7.6 12.65-7.6 12.65-7.6-12.65zm7.64 0l7.6 12.65-7.6 12.65-7.6-12.65zm7.64 0l7.6 12.65-7.6 12.65-7.6-12.65zm7.64 0l7.6 12.65-7.6 12.65-7.6-12.65zm7.64 0l7.6 12.65-7.6 12.65-7.6-12.65zm7.64 0l7.6 12.65-7.6 12.65-7.6-12.65zm7.64 0l7.6 12.65-7.6 12.65-7.6-12.65zm-72.58 6.62l7.6 12.65-7.6 12.65-7.6-12.65zm7.64 0l7.6 12.65-7.6 12.65-7.6-12.65zm7.64 0l7.6 12.65-7.6 12.65-7.6-12.65zm7.64 0l7.6 12.65-7.6 12.65-7.6-12.65zm7.64 0l7.6 12.65-7.6 12.65-7.6-12.65zm7.64 0l7.6 12.65-7.6 12.65-7.6-12.65zm7.64 0l7.6 12.65-7.6 12.65-7.6-12.65zm7.64 0l7.6 12.65-7.6 12.65-7.6-12.65z"/><path fill="#5285a7" d="M239.39 604.44l7.6 12.65-7.6 12.65-7.6-12.65zm7.64 0l7.6 12.65-7.6 12.65-7.6-12.65zm7.64 0l7.6 12.65-7.6 12.65-7.6-12.65zm7.64 0l7.6 12.65-7.6 12.65-7.6-12.65zm7.64 0l7.6 12.65-7.6 12.65-7.6-12.65zm7.64 0l7.6 12.65-7.6 12.65-7.6-12.65zm7.64 0l7.6 12.65-7.6 12.65-7.6-12.65zm7.64 0l7.6 12.65-7.6 12.65-7.6-12.65zm7.64 0l7.6 12.65-7.6 12.65-7.6-12.65zm-80.22 6.62l7.6 12.65-7.6 12.65-7.6-12.65zm7.64 0l7.6 12.65-7.6 12.65-7.6-12.65zm7.64 0l7.6 12.65-7.6 12.65-7.6-12.65zm7.64 0l7.6 12.65-7.6 12.65-7.6-12.65zm7.64 0l7.6 12.65-7.6 12.65-7.6-12.65zm38.2 0l7.6 12.65-7.6 12.65-7.6-12.65zm7.64 0l7.6 12.65-7.6 12.65-7.6-12.65zm7.64 0l7.6 12.65-7.6 12.65-7.6-12.65zm7.64 0l7.6 12.65-7.6 12.65-7.6-12.65zm7.64 0l7.6 12.65-7.6 12.65-7.6-12.65zm-110.78 6.62l7.6 12.65-7.6 12.65-7.6-12.65zm7.64 0l7.6 12.65-7.6 12.65-7.6-12.65zm7.64 0l7.6 12.65-7.6 12.65-7.6-12.65zm91.68 0l7.6 12.65-7.6 12.65-7.6-12.65zm7.64 0l7.6 12.65-7.6 12.65-7.6-12.65zm7.64 0l7.6 12.65-7.6 12.65-7.6-12.65zm-133.7 6.62l7.6 12.65-7.6 12.65-7.6-12.65zm7.64 0l7.6 12.65-7.6 12.65-7.6-12.65zm7.64 0l7.6 12.65-7.6 12.65-7.6-12.65zm114.6 0l7.6 12.65-7.6 12.65-7.6-12.65zm7.64 0l7.6 12.65-7.6 12.65-7.6-12.65zm7.64 0l7.6 12.65-7.6 12.65-7.6-12.65zm-156.62 6.62l7.6 12.65-7.6 12.65-7.6-12.65zm7.64 0l7.6 12.65-7.6 12.65-7.6-12.65zm7.64 0l7.6 12.65-7.6 12.65-7.6-12.65zm137.52 0l7.6 12.65-7.6 12.65-7.6-12.65zm7.64 0l7.6 12.65-7.6 12.65-7.6-12.65zm7.64 0l7.6 12.65-7.6 12.65-7.6-12.65zm-171.9 6.62l7.6 12.65-7.6 12.65-7.6-12.65zm7.64 0l7.6 12.65-7.6 12.65-7.6-12.65zm160.44 0l7.6 12.65-7.6 12.65-7.6-12.65zm7.64 0l7.6 12.65-7.6 12.65-7.6-12.65zm-179.54 6.62l7.6 12.65-7.6 12.65-7.6-12.65zm183.36 0l7.6 12.65-7.6 12.65-7.6-12.65zm-194.82 6.62l7.6 12.65-7.6 12.65-7.6-12.65zm7.64 0l7.6 12.65-7.6 12.65-7.6-12.65zm191 0l7.6 12.65-7.6 12.65-7.6-12.65zm7.64 0l7.6 12.65-7.6 12.65-7.6-12.65zm-210.1 6.62l7.6 12.65-7.6 12.65-7.6-12.65zm7.64 0l7.6 12.65-7.6 12.65-7.6-12.65zm198.64 0l7.6 12.65-7.6 12.65-7.6-12.65zm7.64 0l7.6 12.65-7.6 12.65-7.6-12.65zm-217.74 6.62l7.6 12.65-7.6 12.65-7.6-12.65zm7.64 0l7.6 12.65-7.6 12.65-7.6-12.65zm206.28 0l7.6 12.65-7.6 12.65-7.6-12.65zm7.64 0l7.6 12.65-7.6 12.65-7.6-12.65zm-225.38 6.62l7.6 12.65-7.6 12.65-7.6-12.65zm7.64 0l7.6 12.65-7.6 12.65-7.6-12.65zm213.92 0l7.6 12.65-7.6 12.65-7.6-12.65zm7.64 0l7.6 12.65-7.6 12.65-7.6-12.65zm-233.02 6.62l7.6 12.65-7.6 12.65-7.6-12.65zm7.64 0l7.6 12.65-7.6 12.65-7.6-12.65zm221.56 0l7.6 12.65-7.6 12.65-7.6-12.65zm7.64 0l7.6 12.65-7.6 12.65-7.6-12.65zm-240.66 6.62l7.6 12.65-7.6 12.65-7.6-12.65zm7.64 0l7.6 12.65-7.6 12.65-7.6-12.65zm229.2 0l7.6 12.65-7.6 12.65-7.6-12.65zm7.64 0l7.6 12.65-7.6 12.65-7.6-12.65zm-240.66 6.62l7.6 12.65-7.6 12.65-7.6-12.65zm236.84 0l7.6 12.65-7.6 12.65-7.6-12.65zm-240.66 6.62l7.6 12.65-7.6 12.65-7.6-12.65zm244.48 0l7.6 12.65-7.6 12.65-7.6-12.65zm-248.3 6.62l7.6 12.65-7.6 12.65-7.6-12.65zm7.64 0l7.6 12.65-7.6 12.65-7.6-12.65zm236.84 0l7.6 12.65-7.6 12.65-7.6-12.65zm7.64 0l7.6 12.65-7.6 12.65-7.6-12.65zm-248.3 6.62l7.6 12.65-7.6 12.65-7.6-12.65zm244.48 0l7.6 12.65-7.6 12.65-7.6-12.65zm-248.3 6.62l7.6 12.65-7.6 12.65-7.6-12.65zm252.12 0l7.6 12.65-7.6 12.65-7.6-12.65zm-255.94 6.62l7.6 12.65-7.6 12.65-7.6-12.65zm7.64 0l7.6 12.65-7.6 12.65-7.6-12.65zm244.48 0l7.6 12.65-7.6 12.65-7.6-12.65zm7.64 0l7.6 12.65-7.6 12.65-7.6-12.65zm-255.94 6.62l7.6 12.65-7.6 12.65-7.6-12.65zm252.12 0l7.6 12.65-7.6 12.65-7.6-12.65zm-255.94 6.62l7.6 12.65-7.6 12.65-7.6-12.65zm7.64 0l7.6 12.65-7.6 12.65-7.6-12.65zm244.48 0l7.6 12.65-7.6 12.65-7.6-12.65zm7.64 0l7.6 12.65-7.6 12.65-7.6-12.65zm-255.94 6.62l7.6 12.65-7.6 12.65-7.6-12.65zm252.12 0l7.6 12.65-7.6 12.65-7.6-12.65zm-248.3 6.62l7.6 12.65-7.6 12.65-7.6-12.65zm244.48 0l7.6 12.65-7.6 12.65-7.6-12.65zm-248.3 6.62l7.6 12.65-7.6 12.65-7.6-12.65zm7.64 0l7.6 12.65-7.6 12.65-7.6-12.65zm236.84 0l7.6 12.65-7.6 12.65-7.6-12.65zm7.64 0l7.6 12.65-7.6 12.65-7.6-12.65zm-248.3 6.62l7.6 12.65-7.6 12.65-7.6-12.65zm244.48 0l7.6 12.65-7.6 12.65-7.6-12.65zm-240.66 6.62l7.6 12.65-7.6 12.65-7.6-12.65zm236.84 0l7.6 12.65-7.6 12.65-7.6-12.65zm-240.66 6.62l7.6 12.65-7.6 12.65-7.6-12.65zm7.64 0l7.6 12.65-7.6 12.65-7.6-12.65zm229.2 0l7.6 12.65-7.6 12.65-7.6-12.65zm7.64 0l7.6 12.65-7.6 12.65-7.6-12.65zm-240.66 6.62l7.6 12.65-7.6 12.65-7.6-12.65zm7.64 0l7.6 12.65-7.6 12.65-7.6-12.65zm221.56 0l7.6 12.65-7.6 12.65-7.6-12.65zm7.64 0l7.6 12.65-7.6 12.65-7.6-12.65zm-233.02 6.62l7.6 12.65-7.6 12.65-7.6-12.65zm7.64 0l7.6 12.65-7.6 12.65-7.6-12.65zm213.92 0l7.6 12.65-7.6 12.65-7.6-12.65zm7.64 0l7.6 12.65-7.6 12.65-7.6-12.65zm-225.38 6.62l7.6 12.65-7.6 12.65-7.6-12.65zm7.64 0l7.6 12.65-7.6 12.65-7.6-12.65zm206.28 0l7.6 12.65-7.6 12.65-7.6-12.65zm7.64 0l7.6 12.65-7.6 12.65-7.6-12.65zm-217.74 6.62l7.6 12.65-7.6 12.65-7.6-12.65zm7.64 0l7.6 12.65-7.6 12.65-7.6-12.65zm198.64 0l7.6 12.65-7.6 12.65-7.6-12.65zm7.64 0l7.6 12.65-7.6 12.65-7.6-12.65zm-210.1 6.62l7.6 12.65-7.6 12.65-7.6-12.65zm7.64 0l7.6 12.65-7.6 12.65-7.6-12.65zm191 0l7.6 12.65-7.6 12.65-7.6-12.65zm7.64 0l7.6 12.65-7.6 12.65-7.6-12.65zm-194.82 6.62l7.6 12.65-7.6 12.65-7.6-12.65zm183.36 0l7.6 12.65-7.6 12.65-7.6-12.65zm-179.54 6.62l7.6 12.65-7.6 12.65-7.6-12.65zm7.64 0l7.6 12.65-7.6 12.65-7.6-12.65zm160.44 0l7.6 12.65-7.6 12.65-7.6-12.65zm7.64 0l7.6 12.65-7.6 12.65-7.6-12.65zm-171.9 6.62l7.6 12.65-7.6 12.65-7.6-12.65zm7.64 0l7.6 12.65-7.6 12.65-7.6-12.65zm7.64 0l7.6 12.65-7.6 12.65-7.6-12.65zm137.52 0l7.6 12.65-7.6 12.65-7.6-12.65zm7.64 0l7.6 12.65-7.6 12.65-7.6-12.65zm7.64 0l7.6 12.65-7.6 12.65-7.6-12.65zm-156.62 6.62l7.6 12.65-7.6 12.65-7.6-12.65zm7.64 0l7.6 12.65-7.6 12.65-7.6-12.65zm7.64 0l7.6 12.65-7.6 12.65-7.6-12.65zm114.6 0l7.6 12.65-7.6 12.65-7.6-12.65zm7.64 0l7.6 12.65-7.6 12.65-7.6-12.65zm7.64 0l7.6 12.65-7.6 12.65-7.6-12.65zm-133.7 6.62l7.6 12.65-7.6 12.65-7.6-12.65zm7.64 0l7.6 12.65-7.6 12.65-7.6-12.65zm7.64 0l7.6 12.65-7.6 12.65-7.6-12.65zm91.68 0l7.6 12.65-7.6 12.65-7.6-12.65zm7.64 0l7.6 12.65-7.6 12.65-7.6-12.65zm7.64 0l7.6 12.65-7.6 12.65-7.6-12.65zm-110.78 6.62l7.6 12.65-7.6 12.65-7.6-12.65zm7.64 0l7.6 12.65-7.6 12.65-7.6-12.65zm7.64 0l7.6 12.65-7.6 12.65-7.6-12.65zm7.64 0l7.6 12.65-7.6 12.65-7.6-12.65zm7.64 0l7.6 12.65-7.6 12.65-7.6-12.65zm38.2 0l7.6 12.65-7.6 12.65-7.6-12.65zm7.64 0l7.6 12.65-7.6 12.65-7.6-12.65zm7.64 0l7.6 12.65-7.6 12.65-7.6-12.65zm7.64 0l7.6 12.65-7.6 12.65-7.6-12.65zm7.64 0l7.6 12.65-7.6 12.65-7.6-12.65zm-80.22 6.62l7.6 12.65-7.6 12.65-7.6-12.65zm7.64 0l7.6 12.65-7.6 12.65-7.6-12.65zm7.64 0l7.6 12.65-7.6 12.65-7.6-12.65zm7.64 0l7.6 12.65-7.6 12.65-7.6-12.65zm7.64 0l7.6 12.65-7.6 12.65-7.6-12.65zm7.64 0l7.6 12.65-7.6 12.65-7.6-12.65zm7.64 0l7.6 12.65-7.6 12.65-7.6-12.65zm7.64 0l7.6 12.65-7.6 12.65-7.6-12.65zm7.64 0l7.6 12.65-7.6 12.65-7.6-12.65z"/><path fill="#4a7c9c" d="M258.49 611.05l7.6 12.65-7.6 12.65-7.6-12.65zm7.64 0l7.6 12.65-7.6 12.65-7.6-12.65zm7.64 0l7.6 12.65-7.6 12.65-7.6-12.65zm7.64 0l7.6 12.65-7.6 12.65-7.6-12.65zm-49.66 6.62l7.6 12.65-7.6 12.65-7.6-12.65zm7.64 0l7.6 12.65-7.6 12.65-7.6-12.65zm7.64 0l7.6 12.65-7.6 12.65-7.6-12.65zm7.64 0l7.6 12.65-7.6 12.65-7.6-12.65zm7.64 0l7.6 12.65-7.6 12.65-7.6-12.65zm7.64 0l7.6 12.65-7.6 12.65-7.6-12.65zm7.64 0l7.6 12.65-7.6 12.65-7.6-12.65zm7.64 0l7.6 12.65-7.6 12.65-7.6-12.65zm7.64 0l7.6 12.65-7.6 12.65-7.6-12.65zm7.64 0l7.6 12.65-7.6 12.65-7.6-12.65zm7.64 0l7.6 12.65-7.6 12.65-7.6-12.65zm-87.86 6.62l7.6 12.65-7.6 12.65-7.6-12.65zm7.64 0l7.6 12.65-7.6 12.65-7.6-12.65zm84.04 0l7.6 12.65-7.6 12.65-7.6-12.65zm7.64 0l7.6 12.65-7.6 12.65-7.6-12.65zm-110.78 6.62l7.6 12.65-7.6 12.65-7.6-12.65zm7.64 0l7.6 12.65-7.6 12.65-7.6-12.65zm106.96 0l7.6 12.65-7.6 12.65-7.6-12.65zm7.64 0l7.6 12.65-7.6 12.65-7.6-12.65zm-133.7 6.62l7.6 12.65-7.6 12.65-7.6-12.65zm7.64 0l7.6 12.65-7.6 12.65-7.6-12.65zm129.88 0l7.6 12.65-7.6 12.65-7.6-12.65zm7.64 0l7.6 12.65-7.6 12.65-7.6-12.65zm-156.62 6.62l7.6 12.65-7.6 12.65-7.6-12.65zm7.64 0l7.6 12.65-7.6 12.65-7.6-12.65zm152.8 0l7.6 12.65-7.6 12.65-7.6-12.65zm7.64 0l7.6 12.65-7.6 12.65-7.6-12.65zm-171.9 6.62l7.6 12.65-7.6 12.65-7.6-12.65zm7.64 0l7.6 12.65-7.6 12.65-7.6-12.65zm160.44 0l7.6 12.65-7.6 12.65-7.6-12.65zm7.64 0l7.6 12.65-7.6 12.65-7.6-12.65zm-179.54 6.62l7.6 12.65-7.6 12.65-7.6-12.65zm183.36 0l7.6 12.65-7.6 12.65-7.6-12.65zm-187.18 6.62l7.6 12.65-7.6 12.65-7.6-12.65zm191 0l7.6 12.65-7.6 12.65-7.6-12.65zm-194.82 6.62l7.6 12.65-7.6 12.65-7.6-12.65zm198.64 0l7.6 12.65-7.6 12.65-7.6-12.65zm-202.46 6.62l7.6 12.65-7.6 12.65-7.6-12.65zm206.28 0l7.6 12.65-7.6 12.65-7.6-12.65zm-210.1 6.62l7.6 12.65-7.6 12.65-7.6-12.65zm213.92 0l7.6 12.65-7.6 12.65-7.6-12.65zm-217.74 6.62l7.6 12.65-7.6 12.65-7.6-12.65zm221.56 0l7.6 12.65-7.6 12.65-7.6-12.65zm-225.38 6.62l7.6 12.65-7.6 12.65-7.6-12.65zm7.64 0l7.6 12.65-7.6 12.65-7.6-12.65zm213.92 0l7.6 12.65-7.6 12.65-7.6-12.65zm7.64 0l7.6 12.65-7.6 12.65-7.6-12.65zm-225.38 6.62l7.6 12.65-7.6 12.65-7.6-12.65zm221.56 0l7.6 12.65-7.6 12.65-7.6-12.65zm-225.38 6.62l7.6 12.65-7.6 12.65-7.6-12.65zm229.2 0l7.6 12.65-7.6 12.65-7.6-12.65zm-233.02 6.62l7.6 12.65-7.6 12.65-7.6-12.65zm236.84 0l7.6 12.65-7.6 12.65-7.6-12.65zm-233.02 6.62l7.6 12.65-7.6 12.65-7.6-12.65zm229.2 0l7.6 12.65-7.6 12.65-7.6-12.65zm-233.02 6.62l7.6 12.65-7.6 12.65-7.6-12.65zm236.84 0l7.6 12.65-7.6 12.65-7.6-12.65zm-233.02 6.62l7.6 12.65-7.6 12.65-7.6-12.65zm229.2 0l7.6 12.65-7.6 12.65-7.6-12.65zm-233.02 6.62l7.6 12.65-7.6 12.65-7.6-12.65zm236.84 0l7.6 12.65-7.6 12.65-7.6-12.65zm-233.02 6.62l7.6 12.65-7.6 12.65-7.6-12.65zm229.2 0l7.6 12.65-7.6 12.65-7.6-12.65zm-225.38 6.62l7.6 12.65-7.6 12.65-7.6-12.65zm221.56 0l7.6 12.65-7.6 12.65-7.6-12.65zm-225.38 6.62l7.6 12.65-7.6 12.65-7.6-12.65zm7.64 0l7.6 12.65-7.6 12.65-7.6-12.65zm213.92 0l7.6 12.65-7.6 12.65-7.6-12.65zm7.64 0l7.6 12.65-7.6 12.65-7.6-12.65zm-225.38 6.62l7.6 12.65-7.6 12.65-7.6-12.65zm221.56 0l7.6 12.65-7.6 12.65-7.6-12.65zm-217.74 6.62l7.6 12.65-7.6 12.65-7.6-12.65zm213.92 0l7.6 12.65-7.6 12.65-7.6-12.65zm-210.1 6.62l7.6 12.65-7.6 12.65-7.6-12.65zm206.28 0l7.6 12.65-7.6 12.65-7.6-12.65zm-202.46 6.62l7.6 12.65-7.6 12.65-7.6-12.65zm198.64 0l7.6 12.65-7.6 12.65-7.6-12.65zm-194.82 6.62l7.6 12.65-7.6 12.65-7.6-12.65zm191 0l7.6 12.65-7.6 12.65-7.6-12.65zm-187.18 6.62l7.6 12.65-7.6 12.65-7.6-12.65zm183.36 0l7.6 12.65-7.6 12.65-7.6-12.65zm-179.54 6.62l7.6 12.65-7.6 12.65-7.6-12.65zm7.64 0l7.6 12.65-7.6 12.65-7.6-12.65zm160.44 0l7.6 12.65-7.6 12.65-7.6-12.65zm7.64 0l7.6 12.65-7.6 12.65-7.6-12.65zm-171.9 6.62l7.6 12.65-7.6 12.65-7.6-12.65zm7.64 0l7.6 12.65-7.6 12.65-7.6-12.65zm152.8 0l7.6 12.65-7.6 12.65-7.6-12.65zm7.64 0l7.6 12.65-7.6 12.65-7.6-12.65zm-156.62 6.62l7.6 12.65-7.6 12.65-7.6-12.65zm7.64 0l7.6 12.65-7.6 12.65-7.6-12.65zm129.88 0l7.6 12.65-7.6 12.65-7.6-12.65zm7.64 0l7.6 12.65-7.6 12.65-7.6-12.65zm-133.7 6.62l7.6 12.65-7.6 12.65-7.6-12.65zm7.64 0l7.6 12.65-7.6 12.65-7.6-12.65zm106.96 0l7.6 12.65-7.6 12.65-7.6-12.65zm7.64 0l7.6 12.65-7.6 12.65-7.6-12.65zm-110.78 6.62l7.6 12.65-7.6 12.65-7.6-12.65zm7.64 0l7.6 12.65-7.6 12.65-7.6-12.65zm84.04 0l7.6 12.65-7.6 12.65-7.6-12.65zm7.64 0l7.6 12.65-7.6 12.65-7.6-12.65zm-87.86 6.62l7.6 12.65-7.6 12.65-7.6-12.65zm7.64 0l7.6 12.65-7.6 12.65-7.6-12.65zm7.64 0l7.6 12.65-7.6 12.65-7.6-12.65zm7.64 0l7.6 12.65-7.6 12.65-7.6-12.65zm7.64 0l7.6 12.65-7.6 12.65-7.6-12.65zm7.64 0l7.6 12.65-7.6 12.65-7.6-12.65zm7.64 0l7.6 12.65-7.6 12.65-7.6-12.65zm7.64 0l7.6 12.65-7.6 12.65-7.6-12.65zm7.64 0l7.6 12.65-7.6 12.65-7.6-12.65zm7.64 0l7.6 12.65-7.6 12.65-7.6-12.65zm7.64 0l7.6 12.65-7.6 12.65-7.6-12.65zm-49.66 6.62l7.6 12.65-7.6 12.65-7.6-12.65zm7.64 0l7.6 12.65-7.6 12.65-7.6-12.65zm7.64 0l7.6 12.65-7.6 12.65-7.6-12.65zm7.64 0l7.6 12.65-7.6 12.65-7.6-12.65z"/><path fill="#417291" d="M235.57 624.29l7.6 12.65-7.6 12.65-7.6-12.65zm7.64 0l7.6 12.65-7.6 12.65-7.6-12.65zm7.64 0l7.6 12.65-7.6 12.65-7.6-12.65zm7.64 0l7.6 12.65-7.6 12.65-7.6-12.65zm7.64 0l7.6 12.65-7.6 12.65-7.6-12.65zm7.64 0l7.6 12.65-7.6 12.65-7.6-12.65zm7.64 0l7.6 12.65-7.6 12.65-7.6-12.65zm7.64 0l7.6 12.65-7.6 12.65-7.6-12.65zm7.64 0l7.6 12.65-7.6 12.65-7.6-12.65zm7.64 0l7.6 12.65-7.6 12.65-7.6-12.65zm-80.22 6.62l7.6 12.65-7.6 12.65-7.6-12.65zm7.64 0l7.6 12.65-7.6 12.65-7.6-12.65zm7.64 0l7.6 12.65-7.6 12.65-7.6-12.65zm61.12 0l7.6 12.65-7.6 12.65-7.6-12.65zm7.64 0l7.6 12.65-7.6 12.65-7.6-12.65zm7.64 0l7.6 12.65-7.6 12.65-7.6-12.65zm-103.14 6.62l7.6 12.65-7.6 12.65-7.6-12.65zm7.64 0l7.6 12.65-7.6 12.65-7.6-12.65zm99.32 0l7.6 12.65-7.6 12.65-7.6-12.65zm7.64 0l7.6 12.65-7.6 12.65-7.6-12.65zm-126.06 6.62l7.6 12.65-7.6 12.65-7.6-12.65zm7.64 0l7.6 12.65-7.6 12.65-7.6-12.65zm122.24 0l7.6 12.65-7.6 12.65-7.6-12.65zm7.64 0l7.6 12.65-7.6 12.65-7.6-12.65zm-141.34 6.62l7.6 12.65-7.6 12.65-7.6-12.65zm145.16 0l7.6 12.65-7.6 12.65-7.6-12.65zm-156.62 6.62l7.6 12.65-7.6 12.65-7.6-12.65zm7.64 0l7.6 12.65-7.6 12.65-7.6-12.65zm152.8 0l7.6 12.65-7.6 12.65-7.6-12.65zm7.64 0l7.6 12.65-7.6 12.65-7.6-12.65zm-171.9 6.62l7.6 12.65-7.6 12.65-7.6-12.65zm7.64 0l7.6 12.65-7.6 12.65-7.6-12.65zm160.44 0l7.6 12.65-7.6 12.65-7.6-12.65zm7.64 0l7.6 12.65-7.6 12.65-7.6-12.65zm-179.54 6.62l7.6 12.65-7.6 12.65-7.6-12.65zm183.36 0l7.6 12.65-7.6 12.65-7.6-12.65zm-187.18 6.62l7.6 12.65-7.6 12.65-7.6-12.65zm191 0l7.6 12.65-7.6 12.65-7.6-12.65zm-194.82 6.62l7.6 12.65-7.6 12.65-7.6-12.65zm198.64 0l7.6 12.65-7.6 12.65-7.6-12.65zm-202.46 6.62l7.6 12.65-7.6 12.65-7.6-12.65zm206.28 0l7.6 12.65-7.6 12.65-7.6-12.65zm-202.46 6.62l7.6 12.65-7.6 12.65-7.6-12.65zm198.64 0l7.6 12.65-7.6 12.65-7.6-12.65zm-202.46 6.62l7.6 12.65-7.6 12.65-7.6-12.65zm206.28 0l7.6 12.65-7.6 12.65-7.6-12.65zm-210.1 6.62l7.6 12.65-7.6 12.65-7.6-12.65zm213.92 0l7.6 12.65-7.6 12.65-7.6-12.65zm-217.74 6.62l7.6 12.65-7.6 12.65-7.6-12.65zm7.64 0l7.6 12.65-7.6 12.65-7.6-12.65zm206.28 0l7.6 12.65-7.6 12.65-7.6-12.65zm7.64 0l7.6 12.65-7.6 12.65-7.6-12.65zm-217.74 6.62l7.6 12.65-7.6 12.65-7.6-12.65zm213.92 0l7.6 12.65-7.6 12.65-7.6-12.65zm-217.74 6.62l7.6 12.65-7.6 12.65-7.6-12.65zm221.56 0l7.6 12.65-7.6 12.65-7.6-12.65zm-217.74 6.62l7.6 12.65-7.6 12.65-7.6-12.65zm213.92 0l7.6 12.65-7.6 12.65-7.6-12.65zm-217.74 6.62l7.6 12.65-7.6 12.65-7.6-12.65zm7.64 0l7.6 12.65-7.6 12.65-7.6-12.65zm206.28 0l7.6 12.65-7.6 12.65-7.6-12.65zm7.64 0l7.6 12.65-7.6 12.65-7.6-12.65zm-217.74 6.62l7.6 12.65-7.6 12.65-7.6-12.65zm213.92 0l7.6 12.65-7.6 12.65-7.6-12.65zm-210.1 6.62l7.6 12.65-7.6 12.65-7.6-12.65zm206.28 0l7.6 12.65-7.6 12.65-7.6-12.65zm-202.46 6.62l7.6 12.65-7.6 12.65-7.6-12.65zm198.64 0l7.6 12.65-7.6 12.65-7.6-12.65zm-202.46 6.62l7.6 12.65-7.6 12.65-7.6-12.65zm206.28 0l7.6 12.65-7.6 12.65-7.6-12.65zm-202.46 6.62l7.6 12.65-7.6 12.65-7.6-12.65zm198.64 0l7.6 12.65-7.6 12.65-7.6-12.65zm-194.82 6.62l7.6 12.65-7.6 12.65-7.6-12.65zm191 0l7.6 12.65-7.6 12.65-7.6-12.65zm-187.18 6.62l7.6 12.65-7.6 12.65-7.6-12.65zm183.36 0l7.6 12.65-7.6 12.65-7.6-12.65zm-179.54 6.62l7.6 12.65-7.6 12.65-7.6-12.65zm7.64 0l7.6 12.65-7.6 12.65-7.6-12.65zm160.44 0l7.6 12.65-7.6 12.65-7.6-12.65zm7.64 0l7.6 12.65-7.6 12.65-7.6-12.65zm-171.9 6.62l7.6 12.65-7.6 12.65-7.6-12.65zm7.64 0l7.6 12.65-7.6 12.65-7.6-12.65zm152.8 0l7.6 12.65-7.6 12.65-7.6-12.65zm7.64 0l7.6 12.65-7.6 12.65-7.6-12.65zm-156.62 6.62l7.6 12.65-7.6 12.65-7.6-12.65zm145.16 0l7.6 12.65-7.6 12.65-7.6-12.65zm-141.34 6.62l7.6 12.65-7.6 12.65-7.6-12.65zm7.64 0l7.6 12.65-7.6 12.65-7.6-12.65zm122.24 0l7.6 12.65-7.6 12.65-7.6-12.65zm7.64 0l7.6 12.65-7.6 12.65-7.6-12.65zm-126.06 6.62l7.6 12.65-7.6 12.65-7.6-12.65zm7.64 0l7.6 12.65-7.6 12.65-7.6-12.65zm99.32 0l7.6 12.65-7.6 12.65-7.6-12.65zm7.64 0l7.6 12.65-7.6 12.65-7.6-12.65zm-103.14 6.62l7.6 12.65-7.6 12.65-7.6-12.65zm7.64 0l7.6 12.65-7.6 12.65-7.6-12.65zm7.64 0l7.6 12.65-7.6 12.65-7.6-12.65zm61.12 0l7.6 12.65-7.6 12.65-7.6-12.65zm7.64 0l7.6 12.65-7.6 12.65-7.6-12.65zm7.64 0l7.6 12.65-7.6 12.65-7.6-12.65zm-80.22 6.62l7.6 12.65-7.6 12.65-7.6-12.65zm7.64 0l7.6 12.65-7.6 12.65-7.6-12.65zm7.64 0l7.6 12.65-7.6 12.65-7.6-12.65zm7.64 0l7.6 12.65-7.6 12.65-7.6-12.65zm7.64 0l7.6 12.65-7.6 12.65-7.6-12.65zm7.64 0l7.6 12.65-7.6 12.65-7.6-12.65zm7.64 0l7.6 12.65-7.6 12.65-7.6-12.65zm7.64 0l7.6 12.65-7.6 12.65-7.6-12.65zm7.64 0l7.6 12.65-7.6 12.65-7.6-12.65zm7.64 0l7.6 12.65-7.6 12.65-7.6-12.65z"/><path fill="#386785" d="M247.03 630.9l7.6 12.65-7.6 12.65-7.6-12.65zm7.64 0l7.6 12.65-7.6 12.65-7.6-12.65zm7.64 0l7.6 12.65-7.6 12.65-7.6-12.65zm7.64 0l7.6 12.65-7.6 12.65-7.6-12.65zm7.64 0l7.6 12.65-7.6 12.65-7.6-12.65zm7.64 0l7.6 12.65-7.6 12.65-7.6-12.65zm7.64 0l7.6 12.65-7.6 12.65-7.6-12.65zm-64.94 6.62l7.6 12.65-7.6 12.65-7.6-12.65zm7.64 0l7.6 12.65-7.6 12.65-7.6-12.65zm68.76 0l7.6 12.65-7.6 12.65-7.6-12.65zm7.64 0l7.6 12.65-7.6 12.65-7.6-12.65zm-95.5 6.62l7.6 12.65-7.6 12.65-7.6-12.65zm106.96 0l7.6 12.65-7.6 12.65-7.6-12.65zm-118.42 6.62l7.6 12.65-7.6 12.65-7.6-12.65zm129.88 0l7.6 12.65-7.6 12.65-7.6-12.65zm-133.7 6.62l7.6 12.65-7.6 12.65-7.6-12.65zm137.52 0l7.6 12.65-7.6 12.65-7.6-12.65zm-152.8 13.23l7.6 12.65-7.6 12.65-7.6-12.65zm168.08 0l7.6 12.65-7.6 12.65-7.6-12.65zm-171.9 6.62l7.6 12.65-7.6 12.65-7.6-12.65zm175.72 0l7.6 12.65-7.6 12.65-7.6-12.65zm-179.54 6.62l7.6 12.65-7.6 12.65-7.6-12.65zm183.36 0l7.6 12.65-7.6 12.65-7.6-12.65zm-187.18 6.62l7.6 12.65-7.6 12.65-7.6-12.65zm191 0l7.6 12.65-7.6 12.65-7.6-12.65zm-191 13.23l7.6 12.65-7.6 12.65-7.6-12.65zm191 0l7.6 12.65-7.6 12.65-7.6-12.65zm-194.82 6.62l7.6 12.65-7.6 12.65-7.6-12.65zm198.64 0l7.6 12.65-7.6 12.65-7.6-12.65zm-198.64 13.23l7.6 12.65-7.6 12.65-7.6-12.65zm198.64 0l7.6 12.65-7.6 12.65-7.6-12.65zm-202.46 6.62l7.6 12.65-7.6 12.65-7.6-12.65zm206.28 0l7.6 12.65-7.6 12.65-7.6-12.65zm-202.46 6.62l7.6 12.65-7.6 12.65-7.6-12.65zm198.64 0l7.6 12.65-7.6 12.65-7.6-12.65zm-198.64 13.23l7.6 12.65-7.6 12.65-7.6-12.65zm198.64 0l7.6 12.65-7.6 12.65-7.6-12.65zm-194.82 6.62l7.6 12.65-7.6 12.65-7.6-12.65zm191 0l7.6 12.65-7.6 12.65-7.6-12.65zm-191 13.23l7.6 12.65-7.6 12.65-7.6-12.65zm191 0l7.6 12.65-7.6 12.65-7.6-12.65zm-187.18 6.62l7.6 12.65-7.6 12.65-7.6-12.65zm183.36 0l7.6 12.65-7.6 12.65-7.6-12.65zm-179.54 6.62l7.6 12.65-7.6 12.65-7.6-12.65zm175.72 0l7.6 12.65-7.6 12.65-7.6-12.65zm-171.9 6.62l7.6 12.65-7.6 12.65-7.6-12.65zm168.08 0l7.6 12.65-7.6 12.65-7.6-12.65zm-152.8 13.23l7.6 12.65-7.6 12.65-7.6-12.65zm137.52 0l7.6 12.65-7.6 12.65-7.6-12.65zm-133.7 6.62l7.6 12.65-7.6 12.65-7.6-12.65zm129.88 0l7.6 12.65-7.6 12.65-7.6-12.65zm-118.42 6.62l7.6 12.65-7.6 12.65-7.6-12.65zm106.96 0l7.6 12.65-7.6 12.65-7.6-12.65zm-95.5 6.62l7.6 12.65-7.6 12.65-7.6-12.65zm7.64 0l7.6 12.65-7.6 12.65-7.6-12.65zm68.76 0l7.6 12.65-7.6 12.65-7.6-12.65zm7.64 0l7.6 12.65-7.6 12.65-7.6-12.65zm-64.94 6.62l7.6 12.65-7.6 12.65-7.6-12.65zm7.64 0l7.6 12.65-7.6 12.65-7.6-12.65zm7.64 0l7.6 12.65-7.6 12.65-7.6-12.65zm7.64 0l7.6 12.65-7.6 12.65-7.6-12.65zm7.64 0l7.6 12.65-7.6 12.65-7.6-12.65zm7.64 0l7.6 12.65-7.6 12.65-7.6-12.65zm7.64 0l7.6 12.65-7.6 12.65-7.6-12.65z"/><path fill="#2e5d79" d="M243.21 637.52l7.6 12.65-7.6 12.65-7.6-12.65zm7.64 0l7.6 12.65-7.6 12.65-7.6-12.65zm38.2 0l7.6 12.65-7.6 12.65-7.6-12.65zm7.64 0l7.6 12.65-7.6 12.65-7.6-12.65zm-72.58 6.62l7.6 12.65-7.6 12.65-7.6-12.65zm7.64 0l7.6 12.65-7.6 12.65-7.6-12.65zm76.4 0l7.6 12.65-7.6 12.65-7.6-12.65zm7.64 0l7.6 12.65-7.6 12.65-7.6-12.65zm-103.14 6.62l7.6 12.65-7.6 12.65-7.6-12.65zm7.64 0l7.6 12.65-7.6 12.65-7.6-12.65zm99.32 0l7.6 12.65-7.6 12.65-7.6-12.65zm7.64 0l7.6 12.65-7.6 12.65-7.6-12.65zm-118.42 6.62l7.6 12.65-7.6 12.65-7.6-12.65zm122.24 0l7.6 12.65-7.6 12.65-7.6-12.65zm-133.7 6.62l7.6 12.65-7.6 12.65-7.6-12.65zm145.16 0l7.6 12.65-7.6 12.65-7.6-12.65zm-148.98 6.62l7.6 12.65-7.6 12.65-7.6-12.65zm152.8 0l7.6 12.65-7.6 12.65-7.6-12.65zm-156.62 6.62l7.6 12.65-7.6 12.65-7.6-12.65zm160.44 0l7.6 12.65-7.6 12.65-7.6-12.65zm-164.26 6.62l7.6 12.65-7.6 12.65-7.6-12.65zm168.08 0l7.6 12.65-7.6 12.65-7.6-12.65zm-171.9 6.62l7.6 12.65-7.6 12.65-7.6-12.65zm175.72 0l7.6 12.65-7.6 12.65-7.6-12.65zm-179.54 6.62l7.6 12.65-7.6 12.65-7.6-12.65zm183.36 0l7.6 12.65-7.6 12.65-7.6-12.65zm-183.36 13.23l7.6 12.65-7.6 12.65-7.6-12.65zm183.36 0l7.6 12.65-7.6 12.65-7.6-12.65zm-187.18 6.62l7.6 12.65-7.6 12.65-7.6-12.65zm191 0l7.6 12.65-7.6 12.65-7.6-12.65zm-191 13.23l7.6 12.65-7.6 12.65-7.6-12.65zm191 0l7.6 12.65-7.6 12.65-7.6-12.65zm-191 13.23l7.6 12.65-7.6 12.65-7.6-12.65zm191 0l7.6 12.65-7.6 12.65-7.6-12.65zm-187.18 6.62l7.6 12.65-7.6 12.65-7.6-12.65zm183.36 0l7.6 12.65-7.6 12.65-7.6-12.65zm-183.36 13.23l7.6 12.65-7.6 12.65-7.6-12.65zm183.36 0l7.6 12.65-7.6 12.65-7.6-12.65zm-179.54 6.62l7.6 12.65-7.6 12.65-7.6-12.65zm175.72 0l7.6 12.65-7.6 12.65-7.6-12.65zm-171.9 6.62l7.6 12.65-7.6 12.65-7.6-12.65zm168.08 0l7.6 12.65-7.6 12.65-7.6-12.65zm-164.26 6.62l7.6 12.65-7.6 12.65-7.6-12.65zm160.44 0l7.6 12.65-7.6 12.65-7.6-12.65zm-156.62 6.62l7.6 12.65-7.6 12.65-7.6-12.65zm152.8 0l7.6 12.65-7.6 12.65-7.6-12.65zm-148.98 6.62l7.6 12.65-7.6 12.65-7.6-12.65zm145.16 0l7.6 12.65-7.6 12.65-7.6-12.65zm-133.7 6.62l7.6 12.65-7.6 12.65-7.6-12.65zm122.24 0l7.6 12.65-7.6 12.65-7.6-12.65zm-118.42 6.62l7.6 12.65-7.6 12.65-7.6-12.65zm7.64 0l7.6 12.65-7.6 12.65-7.6-12.65zm99.32 0l7.6 12.65-7.6 12.65-7.6-12.65zm7.64 0l7.6 12.65-7.6 12.65-7.6-12.65zm-103.14 6.62l7.6 12.65-7.6 12.65-7.6-12.65zm7.64 0l7.6 12.65-7.6 12.65-7.6-12.65zm76.4 0l7.6 12.65-7.6 12.65-7.6-12.65zm7.64 0l7.6 12.65-7.6 12.65-7.6-12.65zm-72.58 6.62l7.6 12.65-7.6 12.65-7.6-12.65zm7.64 0l7.6 12.65-7.6 12.65-7.6-12.65zm38.2 0l7.6 12.65-7.6 12.65-7.6-12.65zm7.64 0l7.6 12.65-7.6 12.65-7.6-12.65z"/><path fill="#25536e" d="M258.49 637.52l7.6 12.65-7.6 12.65-7.6-12.65zm7.64 0l7.6 12.65-7.6 12.65-7.6-12.65zm7.64 0l7.6 12.65-7.6 12.65-7.6-12.65zm7.64 0l7.6 12.65-7.6 12.65-7.6-12.65zm-42.02 6.62l7.6 12.65-7.6 12.65-7.6-12.65zm7.64 0l7.6 12.65-7.6 12.65-7.6-12.65zm45.84 0l7.6 12.65-7.6 12.65-7.6-12.65zm7.64 0l7.6 12.65-7.6 12.65-7.6-12.65zm-72.58 6.62l7.6 12.65-7.6 12.65-7.6-12.65zm84.04 0l7.6 12.65-7.6 12.65-7.6-12.65zm-95.5 6.62l7.6 12.65-7.6 12.65-7.6-12.65zm106.96 0l7.6 12.65-7.6 12.65-7.6-12.65zm-118.42 6.62l7.6 12.65-7.6 12.65-7.6-12.65zm129.88 0l7.6 12.65-7.6 12.65-7.6-12.65zm-133.7 6.62l7.6 12.65-7.6 12.65-7.6-12.65zm137.52 0l7.6 12.65-7.6 12.65-7.6-12.65zm-141.34 6.62l7.6 12.65-7.6 12.65-7.6-12.65zm145.16 0l7.6 12.65-7.6 12.65-7.6-12.65zm-148.98 6.62l7.6 12.65-7.6 12.65-7.6-12.65zm152.8 0l7.6 12.65-7.6 12.65-7.6-12.65zm-156.62 6.62l7.6 12.65-7.6 12.65-7.6-12.65zm160.44 0l7.6 12.65-7.6 12.65-7.6-12.65zm-164.26 6.62l7.6 12.65-7.6 12.65-7.6-12.65zm168.08 0l7.6 12.65-7.6 12.65-7.6-12.65zm-171.9 6.62l7.6 12.65-7.6 12.65-7.6-12.65zm175.72 0l7.6 12.65-7.6 12.65-7.6-12.65zm-175.72 13.23l7.6 12.65-7.6 12.65-7.6-12.65zm175.72 0l7.6 12.65-7.6 12.65-7.6-12.65zm-179.54 6.62l7.6 12.65-7.6 12.65-7.6-12.65zm183.36 0l7.6 12.65-7.6 12.65-7.6-12.65zm-183.36 13.23l7.6 12.65-7.6 12.65-7.6-12.65zm183.36 0l7.6 12.65-7.6 12.65-7.6-12.65zm-179.54 6.62l7.6 12.65-7.6 12.65-7.6-12.65zm175.72 0l7.6 12.65-7.6 12.65-7.6-12.65zm-175.72 13.23l7.6 12.65-7.6 12.65-7.6-12.65zm175.72 0l7.6 12.65-7.6 12.65-7.6-12.65zm-171.9 6.62l7.6 12.65-7.6 12.65-7.6-12.65zm168.08 0l7.6 12.65-7.6 12.65-7.6-12.65zm-164.26 6.62l7.6 12.65-7.6 12.65-7.6-12.65zm160.44 0l7.6 12.65-7.6 12.65-7.6-12.65zm-156.62 6.62l7.6 12.65-7.6 12.65-7.6-12.65zm152.8 0l7.6 12.65-7.6 12.65-7.6-12.65zm-148.98 6.62l7.6 12.65-7.6 12.65-7.6-12.65zm145.16 0l7.6 12.65-7.6 12.65-7.6-12.65zm-141.34 6.62l7.6 12.65-7.6 12.65-7.6-12.65zm137.52 0l7.6 12.65-7.6 12.65-7.6-12.65zm-133.7 6.62l7.6 12.65-7.6 12.65-7.6-12.65zm129.88 0l7.6 12.65-7.6 12.65-7.6-12.65zm-118.42 6.62l7.6 12.65-7.6 12.65-7.6-12.65zm106.96 0l7.6 12.65-7.6 12.65-7.6-12.65zm-95.5 6.62l7.6 12.65-7.6 12.65-7.6-12.65zm84.04 0l7.6 12.65-7.6 12.65-7.6-12.65zm-72.58 6.62l7.6 12.65-7.6 12.65-7.6-12.65zm7.64 0l7.6 12.65-7.6 12.65-7.6-12.65zm45.84 0l7.6 12.65-7.6 12.65-7.6-12.65zm7.64 0l7.6 12.65-7.6 12.65-7.6-12.65zm-42.02 6.62l7.6 12.65-7.6 12.65-7.6-12.65zm7.64 0l7.6 12.65-7.6 12.65-7.6-12.65zm7.64 0l7.6 12.65-7.6 12.65-7.6-12.65zm7.64 0l7.6 12.65-7.6 12.65-7.6-12.65z"/><path fill="#1d4964" d="M254.67 644.14l7.6 12.65-7.6 12.65-7.6-12.65zm7.64 0l7.6 12.65-7.6 12.65-7.6-12.65zm7.64 0l7.6 12.65-7.6 12.65-7.6-12.65zm7.64 0l7.6 12.65-7.6 12.65-7.6-12.65zm7.64 0l7.6 12.65-7.6 12.65-7.6-12.65zm-49.66 6.62l7.6 12.65-7.6 12.65-7.6-12.65zm7.64 0l7.6 12.65-7.6 12.65-7.6-12.65zm53.48 0l7.6 12.65-7.6 12.65-7.6-12.65zm7.64 0l7.6 12.65-7.6 12.65-7.6-12.65zm-80.22 6.62l7.6 12.65-7.6 12.65-7.6-12.65zm7.64 0l7.6 12.65-7.6 12.65-7.6-12.65zm76.4 0l7.6 12.65-7.6 12.65-7.6-12.65zm7.64 0l7.6 12.65-7.6 12.65-7.6-12.65zm-103.14 6.62l7.6 12.65-7.6 12.65-7.6-12.65zm7.64 0l7.6 12.65-7.6 12.65-7.6-12.65zm99.32 0l7.6 12.65-7.6 12.65-7.6-12.65zm7.64 0l7.6 12.65-7.6 12.65-7.6-12.65zm-118.42 6.62l7.6 12.65-7.6 12.65-7.6-12.65zm122.24 0l7.6 12.65-7.6 12.65-7.6-12.65zm-126.06 6.62l7.6 12.65-7.6 12.65-7.6-12.65zm129.88 0l7.6 12.65-7.6 12.65-7.6-12.65zm-133.7 6.62l7.6 12.65-7.6 12.65-7.6-12.65zm137.52 0l7.6 12.65-7.6 12.65-7.6-12.65zm-141.34 6.62l7.6 12.65-7.6 12.65-7.6-12.65zm145.16 0l7.6 12.65-7.6 12.65-7.6-12.65zm-148.98 6.62l7.6 12.65-7.6 12.65-7.6-12.65zm152.8 0l7.6 12.65-7.6 12.65-7.6-12.65zm-156.62 6.62l7.6 12.65-7.6 12.65-7.6-12.65zm160.44 0l7.6 12.65-7.6 12.65-7.6-12.65zm-164.26 6.62l7.6 12.65-7.6 12.65-7.6-12.65zm168.08 0l7.6 12.65-7.6 12.65-7.6-12.65zm-168.08 13.23l7.6 12.65-7.6 12.65-7.6-12.65zm168.08 0l7.6 12.65-7.6 12.65-7.6-12.65zm-171.9 6.62l7.6 12.65-7.6 12.65-7.6-12.65zm175.72 0l7.6 12.65-7.6 12.65-7.6-12.65zm-171.9 6.62l7.6 12.65-7.6 12.65-7.6-12.65zm168.08 0l7.6 12.65-7.6 12.65-7.6-12.65zm-168.08 13.23l7.6 12.65-7.6 12.65-7.6-12.65zm168.08 0l7.6 12.65-7.6 12.65-7.6-12.65zm-164.26 6.62l7.6 12.65-7.6 12.65-7.6-12.65zm160.44 0l7.6 12.65-7.6 12.65-7.6-12.65zm-156.62 6.62l7.6 12.65-7.6 12.65-7.6-12.65zm152.8 0l7.6 12.65-7.6 12.65-7.6-12.65zm-148.98 6.62l7.6 12.65-7.6 12.65-7.6-12.65zm145.16 0l7.6 12.65-7.6 12.65-7.6-12.65zm-141.34 6.62l7.6 12.65-7.6 12.65-7.6-12.65zm137.52 0l7.6 12.65-7.6 12.65-7.6-12.65zm-133.7 6.62l7.6 12.65-7.6 12.65-7.6-12.65zm129.88 0l7.6 12.65-7.6 12.65-7.6-12.65zm-126.06 6.62l7.6 12.65-7.6 12.65-7.6-12.65zm122.24 0l7.6 12.65-7.6 12.65-7.6-12.65zm-118.42 6.62l7.6 12.65-7.6 12.65-7.6-12.65zm7.64 0l7.6 12.65-7.6 12.65-7.6-12.65zm99.32 0l7.6 12.65-7.6 12.65-7.6-12.65zm7.64 0l7.6 12.65-7.6 12.65-7.6-12.65zm-103.14 6.62l7.6 12.65-7.6 12.65-7.6-12.65zm7.64 0l7.6 12.65-7.6 12.65-7.6-12.65zm76.4 0l7.6 12.65-7.6 12.65-7.6-12.65zm7.64 0l7.6 12.65-7.6 12.65-7.6-12.65zm-80.22 6.62l7.6 12.65-7.6 12.65-7.6-12.65zm7.64 0l7.6 12.65-7.6 12.65-7.6-12.65zm53.48 0l7.6 12.65-7.6 12.65-7.6-12.65zm7.64 0l7.6 12.65-7.6 12.65-7.6-12.65zm-49.66 6.62l7.6 12.65-7.6 12.65-7.6-12.65zm7.64 0l7.6 12.65-7.6 12.65-7.6-12.65zm7.64 0l7.6 12.65-7.6 12.65-7.6-12.65zm7.64 0l7.6 12.65-7.6 12.65-7.6-12.65zm7.64 0l7.6 12.65-7.6 12.65-7.6-12.65z"/><path fill="#123e58" d="M250.85 650.75l7.6 12.65-7.6 12.65-7.6-12.65zm7.64 0l7.6 12.65-7.6 12.65-7.6-12.65zm7.64 0l7.6 12.65-7.6 12.65-7.6-12.65zm7.64 0l7.6 12.65-7.6 12.65-7.6-12.65zm7.64 0l7.6 12.65-7.6 12.65-7.6-12.65zm7.64 0l7.6 12.65-7.6 12.65-7.6-12.65zm-49.66 6.62l7.6 12.65-7.6 12.65-7.6-12.65zm61.12 0l7.6 12.65-7.6 12.65-7.6-12.65zm-72.58 6.62l7.6 12.65-7.6 12.65-7.6-12.65zm84.04 0l7.6 12.65-7.6 12.65-7.6-12.65zm-95.5 6.62l7.6 12.65-7.6 12.65-7.6-12.65zm106.96 0l7.6 12.65-7.6 12.65-7.6-12.65zm-110.78 6.62l7.6 12.65-7.6 12.65-7.6-12.65zm114.6 0l7.6 12.65-7.6 12.65-7.6-12.65zm-133.7 33.08l7.6 12.65-7.6 12.65-7.6-12.65zm152.8 0l7.6 12.65-7.6 12.65-7.6-12.65zm-156.62 6.62l7.6 12.65-7.6 12.65-7.6-12.65zm160.44 0l7.6 12.65-7.6 12.65-7.6-12.65zm-160.44 13.23l7.6 12.65-7.6 12.65-7.6-12.65zm160.44 0l7.6 12.65-7.6 12.65-7.6-12.65zm-160.44 13.23l7.6 12.65-7.6 12.65-7.6-12.65zm160.44 0l7.6 12.65-7.6 12.65-7.6-12.65zm-156.62 6.62l7.6 12.65-7.6 12.65-7.6-12.65zm152.8 0l7.6 12.65-7.6 12.65-7.6-12.65zm-133.7 33.08l7.6 12.65-7.6 12.65-7.6-12.65zm114.6 0l7.6 12.65-7.6 12.65-7.6-12.65zm-110.78 6.62l7.6 12.65-7.6 12.65-7.6-12.65zm106.96 0l7.6 12.65-7.6 12.65-7.6-12.65zm-95.5 6.62l7.6 12.65-7.6 12.65-7.6-12.65zm84.04 0l7.6 12.65-7.6 12.65-7.6-12.65zm-72.58 6.62l7.6 12.65-7.6 12.65-7.6-12.65zm61.12 0l7.6 12.65-7.6 12.65-7.6-12.65zm-49.66 6.62l7.6 12.65-7.6 12.65-7.6-12.65zm7.64 0l7.6 12.65-7.6 12.65-7.6-12.65zm7.64 0l7.6 12.65-7.6 12.65-7.6-12.65zm7.64 0l7.6 12.65-7.6 12.65-7.6-12.65zm7.64 0l7.6 12.65-7.6 12.65-7.6-12.65zm7.64 0l7.6 12.65-7.6 12.65-7.6-12.65z"/><path fill="#06324b" d="M247.03 657.37l7.6 12.65-7.6 12.65-7.6-12.65zm45.84 0l7.6 12.65-7.6 12.65-7.6-12.65zm-68.76 13.23l7.6 12.65-7.6 12.65-7.6-12.65zm91.68 0l7.6 12.65-7.6 12.65-7.6-12.65zm-106.96 13.23l7.6 12.65-7.6 12.65-7.6-12.65zm122.24 0l7.6 12.65-7.6 12.65-7.6-12.65zm-126.06 6.62l7.6 12.65-7.6 12.65-7.6-12.65zm129.88 0l7.6 12.65-7.6 12.65-7.6-12.65zm-133.7 6.62l7.6 12.65-7.6 12.65-7.6-12.65zm137.52 0l7.6 12.65-7.6 12.65-7.6-12.65zm-141.34 6.62l7.6 12.65-7.6 12.65-7.6-12.65zm145.16 0l7.6 12.65-7.6 12.65-7.6-12.65zm-148.98 19.85l7.6 12.65-7.6 12.65-7.6-12.65zm152.8 0l7.6 12.65-7.6 12.65-7.6-12.65zm-152.8 13.23l7.6 12.65-7.6 12.65-7.6-12.65zm152.8 0l7.6 12.65-7.6 12.65-7.6-12.65zm-148.98 19.85l7.6 12.65-7.6 12.65-7.6-12.65zm145.16 0l7.6 12.65-7.6 12.65-7.6-12.65zm-141.34 6.62l7.6 12.65-7.6 12.65-7.6-12.65zm137.52 0l7.6 12.65-7.6 12.65-7.6-12.65zm-133.7 6.62l7.6 12.65-7.6 12.65-7.6-12.65zm129.88 0l7.6 12.65-7.6 12.65-7.6-12.65zm-126.06 6.62l7.6 12.65-7.6 12.65-7.6-12.65zm122.24 0l7.6 12.65-7.6 12.65-7.6-12.65zm-106.96 13.23l7.6 12.65-7.6 12.65-7.6-12.65zm91.68 0l7.6 12.65-7.6 12.65-7.6-12.65zm-68.76 13.23l7.6 12.65-7.6 12.65-7.6-12.65zm45.84 0l7.6 12.65-7.6 12.65-7.6-12.65z"/><path fill="#09354d" d="M254.67 657.37l7.6 12.65-7.6 12.65-7.6-12.65zm7.64 0l7.6 12.65-7.6 12.65-7.6-12.65zm7.64 0l7.6 12.65-7.6 12.65-7.6-12.65zm7.64 0l7.6 12.65-7.6 12.65-7.6-12.65zm7.64 0l7.6 12.65-7.6 12.65-7.6-12.65zm-49.66 6.62l7.6 12.65-7.6 12.65-7.6-12.65zm68.76 0l7.6 12.65-7.6 12.65-7.6-12.65zm-84.04 13.23l7.6 12.65-7.6 12.65-7.6-12.65zm99.32 0l7.6 12.65-7.6 12.65-7.6-12.65zm-122.24 39.7l7.6 12.65-7.6 12.65-7.6-12.65zm145.16 0l7.6 12.65-7.6 12.65-7.6-12.65zm-145.16 13.23l7.6 12.65-7.6 12.65-7.6-12.65zm145.16 0l7.6 12.65-7.6 12.65-7.6-12.65zm-145.16 13.23l7.6 12.65-7.6 12.65-7.6-12.65zm145.16 0l7.6 12.65-7.6 12.65-7.6-12.65zm-122.24 39.7l7.6 12.65-7.6 12.65-7.6-12.65zm99.32 0l7.6 12.65-7.6 12.65-7.6-12.65zm-84.04 13.23l7.6 12.65-7.6 12.65-7.6-12.65zm68.76 0l7.6 12.65-7.6 12.65-7.6-12.65zm-49.66 6.62l7.6 12.65-7.6 12.65-7.6-12.65zm7.64 0l7.6 12.65-7.6 12.65-7.6-12.65zm7.64 0l7.6 12.65-7.6 12.65-7.6-12.65zm7.64 0l7.6 12.65-7.6 12.65-7.6-12.65zm7.64 0l7.6 12.65-7.6 12.65-7.6-12.65z"/><path fill="#22485a" d="M243.21 663.99l7.6 12.65-7.6 12.65-7.6-12.65zm7.64 0l7.6 12.65-7.6 12.65-7.6-12.65zm38.2 0l7.6 12.65-7.6 12.65-7.6-12.65zm7.64 0l7.6 12.65-7.6 12.65-7.6-12.65zm-64.94 6.62l7.6 12.65-7.6 12.65-7.6-12.65zm76.4 0l7.6 12.65-7.6 12.65-7.6-12.65zm-91.68 13.23l7.6 12.65-7.6 12.65-7.6-12.65zm106.96 0l7.6 12.65-7.6 12.65-7.6-12.65zm-110.78 6.62l7.6 12.65-7.6 12.65-7.6-12.65zm114.6 0l7.6 12.65-7.6 12.65-7.6-12.65zm-118.42 6.62l7.6 12.65-7.6 12.65-7.6-12.65zm122.24 0l7.6 12.65-7.6 12.65-7.6-12.65zm-126.06 6.62l7.6 12.65-7.6 12.65-7.6-12.65zm129.88 0l7.6 12.65-7.6 12.65-7.6-12.65zm-133.7 6.62l7.6 12.65-7.6 12.65-7.6-12.65zm137.52 0l7.6 12.65-7.6 12.65-7.6-12.65zm-137.52 13.23l7.6 12.65-7.6 12.65-7.6-12.65zm137.52 0l7.6 12.65-7.6 12.65-7.6-12.65zm-137.52 13.23l7.6 12.65-7.6 12.65-7.6-12.65zm137.52 0l7.6 12.65-7.6 12.65-7.6-12.65zm-137.52 13.23l7.6 12.65-7.6 12.65-7.6-12.65zm137.52 0l7.6 12.65-7.6 12.65-7.6-12.65zm-133.7 6.62l7.6 12.65-7.6 12.65-7.6-12.65zm129.88 0l7.6 12.65-7.6 12.65-7.6-12.65zm-126.06 6.62l7.6 12.65-7.6 12.65-7.6-12.65zm122.24 0l7.6 12.65-7.6 12.65-7.6-12.65zm-118.42 6.62l7.6 12.65-7.6 12.65-7.6-12.65zm114.6 0l7.6 12.65-7.6 12.65-7.6-12.65zm-110.78 6.62l7.6 12.65-7.6 12.65-7.6-12.65zm106.96 0l7.6 12.65-7.6 12.65-7.6-12.65zm-91.68 13.23l7.6 12.65-7.6 12.65-7.6-12.65zm76.4 0l7.6 12.65-7.6 12.65-7.6-12.65zm-64.94 6.62l7.6 12.65-7.6 12.65-7.6-12.65zm7.64 0l7.6 12.65-7.6 12.65-7.6-12.65zm38.2 0l7.6 12.65-7.6 12.65-7.6-12.65zm7.64 0l7.6 12.65-7.6 12.65-7.6-12.65z"/><path fill="#365763" d="M258.49 663.99l7.6 12.65-7.6 12.65-7.6-12.65zm7.64 0l7.6 12.65-7.6 12.65-7.6-12.65zm7.64 0l7.6 12.65-7.6 12.65-7.6-12.65zm7.64 0l7.6 12.65-7.6 12.65-7.6-12.65zm-42.02 6.62l7.6 12.65-7.6 12.65-7.6-12.65zm61.12 0l7.6 12.65-7.6 12.65-7.6-12.65zm-72.58 6.62l7.6 12.65-7.6 12.65-7.6-12.65zm84.04 0l7.6 12.65-7.6 12.65-7.6-12.65zm-106.96 39.7l7.6 12.65-7.6 12.65-7.6-12.65zm129.88 0l7.6 12.65-7.6 12.65-7.6-12.65zm-129.88 26.47l7.6 12.65-7.6 12.65-7.6-12.65zm129.88 0l7.6 12.65-7.6 12.65-7.6-12.65zm-106.96 39.7l7.6 12.65-7.6 12.65-7.6-12.65zm84.04 0l7.6 12.65-7.6 12.65-7.6-12.65zm-72.58 6.62l7.6 12.65-7.6 12.65-7.6-12.65zm61.12 0l7.6 12.65-7.6 12.65-7.6-12.65zm-42.02 6.62l7.6 12.65-7.6 12.65-7.6-12.65zm7.64 0l7.6 12.65-7.6 12.65-7.6-12.65zm7.64 0l7.6 12.65-7.6 12.65-7.6-12.65zm7.64 0l7.6 12.65-7.6 12.65-7.6-12.65z"/><path fill="#4b686c" d="M247.03 670.6l7.6 12.65-7.6 12.65-7.6-12.65zm45.84 0l7.6 12.65-7.6 12.65-7.6-12.65zm-57.3 6.62l7.6 12.65-7.6 12.65-7.6-12.65zm68.76 0l7.6 12.65-7.6 12.65-7.6-12.65zm-80.22 6.62l7.6 12.65-7.6 12.65-7.6-12.65zm91.68 0l7.6 12.65-7.6 12.65-7.6-12.65zm-95.5 6.62l7.6 12.65-7.6 12.65-7.6-12.65zm99.32 0l7.6 12.65-7.6 12.65-7.6-12.65zm-103.14 6.62l7.6 12.65-7.6 12.65-7.6-12.65zm106.96 0l7.6 12.65-7.6 12.65-7.6-12.65zm-110.78 6.62l7.6 12.65-7.6 12.65-7.6-12.65zm114.6 0l7.6 12.65-7.6 12.65-7.6-12.65zm-118.42 6.62l7.6 12.65-7.6 12.65-7.6-12.65zm122.24 0l7.6 12.65-7.6 12.65-7.6-12.65zm-126.06 19.85l7.6 12.65-7.6 12.65-7.6-12.65zm129.88 0l7.6 12.65-7.6 12.65-7.6-12.65zm-126.06 19.85l7.6 12.65-7.6 12.65-7.6-12.65zm122.24 0l7.6 12.65-7.6 12.65-7.6-12.65zm-118.42 6.62l7.6 12.65-7.6 12.65-7.6-12.65zm114.6 0l7.6 12.65-7.6 12.65-7.6-12.65zm-110.78 6.62l7.6 12.65-7.6 12.65-7.6-12.65zm106.96 0l7.6 12.65-7.6 12.65-7.6-12.65zm-103.14 6.62l7.6 12.65-7.6 12.65-7.6-12.65zm99.32 0l7.6 12.65-7.6 12.65-7.6-12.65zm-95.5 6.62l7.6 12.65-7.6 12.65-7.6-12.65zm91.68 0l7.6 12.65-7.6 12.65-7.6-12.65zm-80.22 6.62l7.6 12.65-7.6 12.65-7.6-12.65zm68.76 0l7.6 12.65-7.6 12.65-7.6-12.65zm-57.3 6.62l7.6 12.65-7.6 12.65-7.6-12.65zm45.84 0l7.6 12.65-7.6 12.65-7.6-12.65z"/><path fill="#5f7879" d="M254.67 670.6l7.6 12.65-7.6 12.65-7.6-12.65zm7.64 0l7.6 12.65-7.6 12.65-7.6-12.65zm7.64 0l7.6 12.65-7.6 12.65-7.6-12.65zm7.64 0l7.6 12.65-7.6 12.65-7.6-12.65zm7.64 0l7.6 12.65-7.6 12.65-7.6-12.65zm-42.02 6.62l7.6 12.65-7.6 12.65-7.6-12.65zm53.48 0l7.6 12.65-7.6 12.65-7.6-12.65zm-64.94 6.62l7.6 12.65-7.6 12.65-7.6-12.65zm76.4 0l7.6 12.65-7.6 12.65-7.6-12.65zm-99.32 39.7l7.6 12.65-7.6 12.65-7.6-12.65zm122.24 0l7.6 12.65-7.6 12.65-7.6-12.65zm-122.24 13.23l7.6 12.65-7.6 12.65-7.6-12.65zm122.24 0l7.6 12.65-7.6 12.65-7.6-12.65zm-99.32 39.7l7.6 12.65-7.6 12.65-7.6-12.65zm76.4 0l7.6 12.65-7.6 12.65-7.6-12.65zm-64.94 6.62l7.6 12.65-7.6 12.65-7.6-12.65zm53.48 0l7.6 12.65-7.6 12.65-7.6-12.65zm-42.02 6.62l7.6 12.65-7.6 12.65-7.6-12.65zm7.64 0l7.6 12.65-7.6 12.65-7.6-12.65zm7.64 0l7.6 12.65-7.6 12.65-7.6-12.65zm7.64 0l7.6 12.65-7.6 12.65-7.6-12.65zm7.64 0l7.6 12.65-7.6 12.65-7.6-12.65z"/><path fill="#758a87" d="M250.85 677.22l7.6 12.65-7.6 12.65-7.6-12.65zm38.2 0l7.6 12.65-7.6 12.65-7.6-12.65zm-61.12 13.23l7.6 12.65-7.6 12.65-7.6-12.65zm84.04 0l7.6 12.65-7.6 12.65-7.6-12.65zm-87.86 6.62l7.6 12.65-7.6 12.65-7.6-12.65zm91.68 0l7.6 12.65-7.6 12.65-7.6-12.65zm-95.5 6.62l7.6 12.65-7.6 12.65-7.6-12.65zm99.32 0l7.6 12.65-7.6 12.65-7.6-12.65zm-103.14 6.62l7.6 12.65-7.6 12.65-7.6-12.65zm106.96 0l7.6 12.65-7.6 12.65-7.6-12.65zm-110.78 6.62l7.6 12.65-7.6 12.65-7.6-12.65zm114.6 0l7.6 12.65-7.6 12.65-7.6-12.65zm-114.6 13.23l7.6 12.65-7.6 12.65-7.6-12.65zm114.6 0l7.6 12.65-7.6 12.65-7.6-12.65zm-114.6 13.23l7.6 12.65-7.6 12.65-7.6-12.65zm114.6 0l7.6 12.65-7.6 12.65-7.6-12.65zm-110.78 6.62l7.6 12.65-7.6 12.65-7.6-12.65zm106.96 0l7.6 12.65-7.6 12.65-7.6-12.65zm-103.14 6.62l7.6 12.65-7.6 12.65-7.6-12.65zm99.32 0l7.6 12.65-7.6 12.65-7.6-12.65zm-95.5 6.62l7.6 12.65-7.6 12.65-7.6-12.65zm91.68 0l7.6 12.65-7.6 12.65-7.6-12.65zm-87.86 6.62l7.6 12.65-7.6 12.65-7.6-12.65zm84.04 0l7.6 12.65-7.6 12.65-7.6-12.65zm-61.12 13.23l7.6 12.65-7.6 12.65-7.6-12.65zm38.2 0l7.6 12.65-7.6 12.65-7.6-12.65z"/><path fill="#8c9b95" d="M258.49 677.22l7.6 12.65-7.6 12.65-7.6-12.65zm7.64 0l7.6 12.65-7.6 12.65-7.6-12.65zm7.64 0l7.6 12.65-7.6 12.65-7.6-12.65zm7.64 0l7.6 12.65-7.6 12.65-7.6-12.65zm-42.02 6.62l7.6 12.65-7.6 12.65-7.6-12.65zm7.64 0l7.6 12.65-7.6 12.65-7.6-12.65zm45.84 0l7.6 12.65-7.6 12.65-7.6-12.65zm7.64 0l7.6 12.65-7.6 12.65-7.6-12.65zm-64.94 6.62l7.6 12.65-7.6 12.65-7.6-12.65zm68.76 0l7.6 12.65-7.6 12.65-7.6-12.65zm-84.04 26.47l7.6 12.65-7.6 12.65-7.6-12.65zm99.32 0l7.6 12.65-7.6 12.65-7.6-12.65zm-103.14 6.62l7.6 12.65-7.6 12.65-7.6-12.65zm106.96 0l7.6 12.65-7.6 12.65-7.6-12.65zm-106.96 13.23l7.6 12.65-7.6 12.65-7.6-12.65zm106.96 0l7.6 12.65-7.6 12.65-7.6-12.65zm-103.14 6.62l7.6 12.65-7.6 12.65-7.6-12.65zm99.32 0l7.6 12.65-7.6 12.65-7.6-12.65zm-84.04 26.47l7.6 12.65-7.6 12.65-7.6-12.65zm68.76 0l7.6 12.65-7.6 12.65-7.6-12.65zm-64.94 6.62l7.6 12.65-7.6 12.65-7.6-12.65zm7.64 0l7.6 12.65-7.6 12.65-7.6-12.65zm45.84 0l7.6 12.65-7.6 12.65-7.6-12.65zm7.64 0l7.6 12.65-7.6 12.65-7.6-12.65zm-42.02 6.62l7.6 12.65-7.6 12.65-7.6-12.65zm7.64 0l7.6 12.65-7.6 12.65-7.6-12.65zm7.64 0l7.6 12.65-7.6 12.65-7.6-12.65zm7.64 0l7.6 12.65-7.6 12.65-7.6-12.65z"/><path fill="#a3ada2" d="M254.67 683.83l7.6 12.65-7.6 12.65-7.6-12.65zm7.64 0l7.6 12.65-7.6 12.65-7.6-12.65zm15.28 0l7.6 12.65-7.6 12.65-7.6-12.65zm7.64 0l7.6 12.65-7.6 12.65-7.6-12.65zm-42.02 6.62l7.6 12.65-7.6 12.65-7.6-12.65zm53.48 0l7.6 12.65-7.6 12.65-7.6-12.65zm-64.94 6.62l7.6 12.65-7.6 12.65-7.6-12.65zm76.4 0l7.6 12.65-7.6 12.65-7.6-12.65zm-80.22 6.62l7.6 12.65-7.6 12.65-7.6-12.65zm84.04 0l7.6 12.65-7.6 12.65-7.6-12.65zm-87.86 6.62l7.6 12.65-7.6 12.65-7.6-12.65zm91.68 0l7.6 12.65-7.6 12.65-7.6-12.65zm-95.5 19.85l7.6 12.65-7.6 12.65-7.6-12.65zm99.32 0l7.6 12.65-7.6 12.65-7.6-12.65zm-95.5 19.85l7.6 12.65-7.6 12.65-7.6-12.65zm91.68 0l7.6 12.65-7.6 12.65-7.6-12.65zm-87.86 6.62l7.6 12.65-7.6 12.65-7.6-12.65zm84.04 0l7.6 12.65-7.6 12.65-7.6-12.65zm-80.22 6.62l7.6 12.65-7.6 12.65-7.6-12.65zm76.4 0l7.6 12.65-7.6 12.65-7.6-12.65zm-64.94 6.62l7.6 12.65-7.6 12.65-7.6-12.65zm53.48 0l7.6 12.65-7.6 12.65-7.6-12.65zm-42.02 6.62l7.6 12.65-7.6 12.65-7.6-12.65zm7.64 0l7.6 12.65-7.6 12.65-7.6-12.65zm15.28 0l7.6 12.65-7.6 12.65-7.6-12.65zm7.64 0l7.6 12.65-7.6 12.65-7.6-12.65z"/><path fill="#b8bcad" d="M269.95 683.83l7.6 12.65-7.6 12.65-7.6-12.65zm-19.1 6.62l7.6 12.65-7.6 12.65-7.6-12.65zm38.2 0l7.6 12.65-7.6 12.65-7.6-12.65zm-49.66 6.62l7.6 12.65-7.6 12.65-7.6-12.65zm61.12 0l7.6 12.65-7.6 12.65-7.6-12.65zm-64.94 6.62l7.6 12.65-7.6 12.65-7.6-12.65zm68.76 0l7.6 12.65-7.6 12.65-7.6-12.65zm-72.58 6.62l7.6 12.65-7.6 12.65-7.6-12.65zm76.4 0l7.6 12.65-7.6 12.65-7.6-12.65zm-80.22 6.62l7.6 12.65-7.6 12.65-7.6-12.65zm84.04 0l7.6 12.65-7.6 12.65-7.6-12.65zm-87.86 6.62l7.6 12.65-7.6 12.65-7.6-12.65zm91.68 0l7.6 12.65-7.6 12.65-7.6-12.65zm-91.68 13.23l7.6 12.65-7.6 12.65-7.6-12.65zm91.68 0l7.6 12.65-7.6 12.65-7.6-12.65zm-87.86 6.62l7.6 12.65-7.6 12.65-7.6-12.65zm84.04 0l7.6 12.65-7.6 12.65-7.6-12.65zm-80.22 6.62l7.6 12.65-7.6 12.65-7.6-12.65zm76.4 0l7.6 12.65-7.6 12.65-7.6-12.65zm-72.58 6.62l7.6 12.65-7.6 12.65-7.6-12.65zm68.76 0l7.6 12.65-7.6 12.65-7.6-12.65zm-64.94 6.62l7.6 12.65-7.6 12.65-7.6-12.65zm61.12 0l7.6 12.65-7.6 12.65-7.6-12.65zm-49.66 6.62l7.6 12.65-7.6 12.65-7.6-12.65zm38.2 0l7.6 12.65-7.6 12.65-7.6-12.65zm-19.1 6.62l7.6 12.65-7.6 12.65-7.6-12.65z"/><path fill="#cdccb9" d="M258.49 690.45l7.6 12.65-7.6 12.65-7.6-12.65zm7.64 0l7.6 12.65-7.6 12.65-7.6-12.65zm7.64 0l7.6 12.65-7.6 12.65-7.6-12.65zm7.64 0l7.6 12.65-7.6 12.65-7.6-12.65zm-34.38 6.62l7.6 12.65-7.6 12.65-7.6-12.65zm45.84 0l7.6 12.65-7.6 12.65-7.6-12.65zm-61.12 26.47l7.6 12.65-7.6 12.65-7.6-12.65zm76.4 0l7.6 12.65-7.6 12.65-7.6-12.65zm-80.22 6.62l7.6 12.65-7.6 12.65-7.6-12.65zm84.04 0l7.6 12.65-7.6 12.65-7.6-12.65zm-80.22 6.62l7.6 12.65-7.6 12.65-7.6-12.65zm76.4 0l7.6 12.65-7.6 12.65-7.6-12.65zm-61.12 26.47l7.6 12.65-7.6 12.65-7.6-12.65zm45.84 0l7.6 12.65-7.6 12.65-7.6-12.65zm-34.38 6.62l7.6 12.65-7.6 12.65-7.6-12.65zm7.64 0l7.6 12.65-7.6 12.65-7.6-12.65zm7.64 0l7.6 12.65-7.6 12.65-7.6-12.65zm7.64 0l7.6 12.65-7.6 12.65-7.6-12.65z"/><path fill="#e2dac5" d="M254.67 697.07l7.6 12.65-7.6 12.65-7.6-12.65zm30.56 0l7.6 12.65-7.6 12.65-7.6-12.65zm-42.02 6.62l7.6 12.65-7.6 12.65-7.6-12.65zm53.48 0l7.6 12.65-7.6 12.65-7.6-12.65zm-57.3 6.62l7.6 12.65-7.6 12.65-7.6-12.65zm61.12 0l7.6 12.65-7.6 12.65-7.6-12.65zm-64.94 6.62l7.6 12.65-7.6 12.65-7.6-12.65zm68.76 0l7.6 12.65-7.6 12.65-7.6-12.65zm-68.76 13.23l7.6 12.65-7.6 12.65-7.6-12.65zm68.76 0l7.6 12.65-7.6 12.65-7.6-12.65zm-68.76 13.23l7.6 12.65-7.6 12.65-7.6-12.65zm68.76 0l7.6 12.65-7.6 12.65-7.6-12.65zm-64.94 6.62l7.6 12.65-7.6 12.65-7.6-12.65zm61.12 0l7.6 12.65-7.6 12.65-7.6-12.65zm-57.3 6.62l7.6 12.65-7.6 12.65-7.6-12.65zm53.48 0l7.6 12.65-7.6 12.65-7.6-12.65zm-42.02 6.62l7.6 12.65-7.6 12.65-7.6-12.65zm30.56 0l7.6 12.65-7.6 12.65-7.6-12.65z"/><path fill="#f0e3cd" d="M262.31 697.07l7.6 12.65-7.6 12.65-7.6-12.65zm7.64 0l7.6 12.65-7.6 12.65-7.6-12.65zm7.64 0l7.6 12.65-7.6 12.65-7.6-12.65zm-26.74 6.62l7.6 12.65-7.6 12.65-7.6-12.65zm38.2 0l7.6 12.65-7.6 12.65-7.6-12.65zm-49.66 19.85l7.6 12.65-7.6 12.65-7.6-12.65zm61.12 0l7.6 12.65-7.6 12.65-7.6-12.65zm-61.12 13.23l7.6 12.65-7.6 12.65-7.6-12.65zm61.12 0l7.6 12.65-7.6 12.65-7.6-12.65zm-49.66 19.85l7.6 12.65-7.6 12.65-7.6-12.65zm38.2 0l7.6 12.65-7.6 12.65-7.6-12.65zm-26.74 6.62l7.6 12.65-7.6 12.65-7.6-12.65zm7.64 0l7.6 12.65-7.6 12.65-7.6-12.65zm7.64 0l7.6 12.65-7.6 12.65-7.6-12.65z"/><path fill="#f7e4ce" d="M258.49 703.68l7.6 12.65-7.6 12.65-7.6-12.65zm7.64 0l7.6 12.65-7.6 12.65-7.6-12.65zm7.64 0l7.6 12.65-7.6 12.65-7.6-12.65zm7.64 0l7.6 12.65-7.6 12.65-7.6-12.65zm-34.38 6.62l7.6 12.65-7.6 12.65-7.6-12.65zm45.84 0l7.6 12.65-7.6 12.65-7.6-12.65zm-49.66 6.62l7.6 12.65-7.6 12.65-7.6-12.65zm53.48 0l7.6 12.65-7.6 12.65-7.6-12.65zm-53.48 13.23l7.6 12.65-7.6 12.65-7.6-12.65zm53.48 0l7.6 12.65-7.6 12.65-7.6-12.65zm-53.48 13.23l7.6 12.65-7.6 12.65-7.6-12.65zm53.48 0l7.6 12.65-7.6 12.65-7.6-12.65zm-49.66 6.62l7.6 12.65-7.6 12.65-7.6-12.65zm45.84 0l7.6 12.65-7.6 12.65-7.6-12.65zm-34.38 6.62l7.6 12.65-7.6 12.65-7.6-12.65zm7.64 0l7.6 12.65-7.6 12.65-7.6-12.65zm7.64 0l7.6 12.65-7.6 12.65-7.6-12.65zm7.64 0l7.6 12.65-7.6 12.65-7.6-12.65z"/><path fill="#f4d7c1" d="M254.67 710.3l7.6 12.65-7.6 12.65-7.6-12.65zm30.56 0l7.6 12.65-7.6 12.65-7.6-12.65zm-34.38 6.62l7.6 12.65-7.6 12.65-7.6-12.65zm38.2 0l7.6 12.65-7.6 12.65-7.6-12.65zm-42.02 6.62l7.6 12.65-7.6 12.65-7.6-12.65zm45.84 0l7.6 12.65-7.6 12.65-7.6-12.65zm-45.84 13.23l7.6 12.65-7.6 12.65-7.6-12.65zm45.84 0l7.6 12.65-7.6 12.65-7.6-12.65zm-42.02 6.62l7.6 12.65-7.6 12.65-7.6-12.65zm38.2 0l7.6 12.65-7.6 12.65-7.6-12.65zm-34.38 6.62l7.6 12.65-7.6 12.65-7.6-12.65zm30.56 0l7.6 12.65-7.6 12.65-7.6-12.65z"/><path fill="#f0c6b2" d="M262.31 710.3l7.6 12.65-7.6 12.65-7.6-12.65zm7.64 0l7.6 12.65-7.6 12.65-7.6-12.65zm7.64 0l7.6 12.65-7.6 12.65-7.6-12.65zm-19.1 6.62l7.6 12.65-7.6 12.65-7.6-12.65zm22.92 0l7.6 12.65-7.6 12.65-7.6-12.65zm-26.74 6.62l7.6 12.65-7.6 12.65-7.6-12.65zm30.56 0l7.6 12.65-7.6 12.65-7.6-12.65zm-34.38 6.62l7.6 12.65-7.6 12.65-7.6-12.65zm38.2 0l7.6 12.65-7.6 12.65-7.6-12.65zm-34.38 6.62l7.6 12.65-7.6 12.65-7.6-12.65zm30.56 0l7.6 12.65-7.6 12.65-7.6-12.65zm-26.74 6.62l7.6 12.65-7.6 12.65-7.6-12.65zm22.92 0l7.6 12.65-7.6 12.65-7.6-12.65zm-19.1 6.62l7.6 12.65-7.6 12.65-7.6-12.65zm7.64 0l7.6 12.65-7.6 12.65-7.6-12.65zm7.64 0l7.6 12.65-7.6 12.65-7.6-12.65z"/><path fill="#ebb4a2" d="M266.13 716.92l7.6 12.65-7.6 12.65-7.6-12.65zm7.64 0l7.6 12.65-7.6 12.65-7.6-12.65zm-11.46 6.62l7.6 12.65-7.6 12.65-7.6-12.65zm15.28 0l7.6 12.65-7.6 12.65-7.6-12.65zm-19.1 6.62l7.6 12.65-7.6 12.65-7.6-12.65zm22.92 0l7.6 12.65-7.6 12.65-7.6-12.65zm-19.1 6.62l7.6 12.65-7.6 12.65-7.6-12.65zm15.28 0l7.6 12.65-7.6 12.65-7.6-12.65zm-11.46 6.62l7.6 12.65-7.6 12.65-7.6-12.65zm7.64 0l7.6 12.65-7.6 12.65-7.6-12.65z"/><path fill="#e6a293" d="M269.95 723.53l7.6 12.65-7.6 12.65-7.6-12.65zm-3.82 6.62l7.6 12.65-7.6 12.65-7.6-12.65zm7.64 0l7.6 12.65-7.6 12.65-7.6-12.65zm-3.82 6.62l7.6 12.65-7.6 12.65-7.6-12.65z"/></g><g clip-path="url(#hx1)"><path fill="#b10f1f" d="M581.29 591l7.6 12.65-7.6 12.65-7.6-12.65zm137.52 0l7.6 12.65-7.6 12.65-7.6-12.65zm-148.98 6.62l7.6 12.65-7.6 12.65-7.6-12.65zm7.64 0l7.6 12.65-7.6 12.65-7.6-12.65zm7.64 0l7.6 12.65-7.6 12.65-7.6-12.65zm129.88 0l7.6 12.65-7.6 12.65-7.6-12.65zm7.64 0l7.6 12.65-7.6 12.65-7.6-12.65zm7.64 0l7.6 12.65-7.6 12.65-7.6-12.65zm-164.26 6.62l7.6 12.65-7.6 12.65-7.6-12.65zm7.64 0l7.6 12.65-7.6 12.65-7.6-12.65zm7.64 0l7.6 12.65-7.6 12.65-7.6-12.65zm7.64 0l7.6 12.65-7.6 12.65-7.6-12.65zm122.24 0l7.6 12.65-7.6 12.65-7.6-12.65zm7.64 0l7.6 12.65-7.6 12.65-7.6-12.65zm7.64 0l7.6 12.65-7.6 12.65-7.6-12.65zm7.64 0l7.6 12.65-7.6 12.65-7.6-12.65zm-164.26 6.62l7.6 12.65-7.6 12.65-7.6-12.65zm7.64 0l7.6 12.65-7.6 12.65-7.6-12.65zm7.64 0l7.6 12.65-7.6 12.65-7.6-12.65zm7.64 0l7.6 12.65-7.6 12.65-7.6-12.65zm7.64 0l7.6 12.65-7.6 12.65-7.6-12.65zm99.32 0l7.6 12.65-7.6 12.65-7.6-12.65zm7.64 0l7.6 12.65-7.6 12.65-7.6-12.65zm7.64 0l7.6 12.65-7.6 12.65-7.6-12.65zm7.64 0l7.6 12.65-7.6 12.65-7.6-12.65zm7.64 0l7.6 12.65-7.6 12.65-7.6-12.65zm-156.62 6.62l7.6 12.65-7.6 12.65-7.6-12.65zm7.64 0l7.6 12.65-7.6 12.65-7.6-12.65zm7.64 0l7.6 12.65-7.6 12.65-7.6-12.65zm7.64 0l7.6 12.65-7.6 12.65-7.6-12.65zm7.64 0l7.6 12.65-7.6 12.65-7.6-12.65zm7.64 0l7.6 12.65-7.6 12.65-7.6-12.65zm76.4 0l7.6 12.65-7.6 12.65-7.6-12.65zm7.64 0l7.6 12.65-7.6 12.65-7.6-12.65zm7.64 0l7.6 12.65-7.6 12.65-7.6-12.65zm7.64 0l7.6 12.65-7.6 12.65-7.6-12.65zm7.64 0l7.6 12.65-7.6 12.65-7.6-12.65zm7.64 0l7.6 12.65-7.6 12.65-7.6-12.65zm-156.62 6.62l7.6 12.65-7.6 12.65-7.6-12.65zm7.64 0l7.6 12.65-7.6 12.65-7.6-12.65zm7.64 0l7.6 12.65-7.6 12.65-7.6-12.65zm7.64 0l7.6 12.65-7.6 12.65-7.6-12.65zm7.64 0l7.6 12.65-7.6 12.65-7.6-12.65zm7.64 0l7.6 12.65-7.6 12.65-7.6-12.65zm7.64 0l7.6 12.65-7.6 12.65-7.6-12.65zm7.64 0l7.6 12.65-7.6 12.65-7.6-12.65zm7.64 0l7.6 12.65-7.6 12.65-7.6-12.65zm38.2 0l7.6 12.65-7.6 12.65-7.6-12.65zm7.64 0l7.6 12.65-7.6 12.65-7.6-12.65zm7.64 0l7.6 12.65-7.6 12.65-7.6-12.65zm7.64 0l7.6 12.65-7.6 12.65-7.6-12.65zm7.64 0l7.6 12.65-7.6 12.65-7.6-12.65zm7.64 0l7.6 12.65-7.6 12.65-7.6-12.65zm7.64 0l7.6 12.65-7.6 12.65-7.6-12.65zm7.64 0l7.6 12.65-7.6 12.65-7.6-12.65zm7.64 0l7.6 12.65-7.6 12.65-7.6-12.65zm-156.62 6.62l7.6 12.65-7.6 12.65-7.6-12.65zm7.64 0l7.6 12.65-7.6 12.65-7.6-12.65zm7.64 0l7.6 12.65-7.6 12.65-7.6-12.65zm7.64 0l7.6 12.65-7.6 12.65-7.6-12.65zm7.64 0l7.6 12.65-7.6 12.65-7.6-12.65zm7.64 0l7.6 12.65-7.6 12.65-7.6-12.65zm7.64 0l7.6 12.65-7.6 12.65-7.6-12.65zm7.64 0l7.6 12.65-7.6 12.65-7.6-12.65zm7.64 0l7.6 12.65-7.6 12.65-7.6-12.65zm7.64 0l7.6 12.65-7.6 12.65-7.6-12.65zm7.64 0l7.6 12.65-7.6 12.65-7.6-12.65zm7.64 0l7.6 12.65-7.6 12.65-7.6-12.65zm7.64 0l7.6 12.65-7.6 12.65-7.6-12.65zm7.64 0l7.6 12.65-7.6 12.65-7.6-12.65zm7.64 0l7.6 12.65-7.6 12.65-7.6-12.65zm7.64 0l7.6 12.65-7.6 12.65-7.6-12.65zm7.64 0l7.6 12.65-7.6 12.65-7.6-12.65zm7.64 0l7.6 12.65-7.6 12.65-7.6-12.65zm7.64 0l7.6 12.65-7.6 12.65-7.6-12.65zm7.64 0l7.6 12.65-7.6 12.65-7.6-12.65zm7.64 0l7.6 12.65-7.6 12.65-7.6-12.65zm-148.98 6.62l7.6 12.65-7.6 12.65-7.6-12.65zm7.64 0l7.6 12.65-7.6 12.65-7.6-12.65zm7.64 0l7.6 12.65-7.6 12.65-7.6-12.65zm7.64 0l7.6 12.65-7.6 12.65-7.6-12.65zm7.64 0l7.6 12.65-7.6 12.65-7.6-12.65zm7.64 0l7.6 12.65-7.6 12.65-7.6-12.65zm7.64 0l7.6 12.65-7.6 12.65-7.6-12.65zm7.64 0l7.6 12.65-7.6 12.65-7.6-12.65zm7.64 0l7.6 12.65-7.6 12.65-7.6-12.65zm7.64 0l7.6 12.65-7.6 12.65-7.6-12.65zm7.64 0l7.6 12.65-7.6 12.65-7.6-12.65zm7.64 0l7.6 12.65-7.6 12.65-7.6-12.65zm7.64 0l7.6 12.65-7.6 12.65-7.6-12.65zm7.64 0l7.6 12.65-7.6 12.65-7.6-12.65zm7.64 0l7.6 12.65-7.6 12.65-7.6-12.65zm7.64 0l7.6 12.65-7.6 12.65-7.6-12.65zm7.64 0l7.6 12.65-7.6 12.65-7.6-12.65zm7.64 0l7.6 12.65-7.6 12.65-7.6-12.65zm7.64 0l7.6 12.65-7.6 12.65-7.6-12.65zm7.64 0l7.6 12.65-7.6 12.65-7.6-12.65zm-148.98 6.62l7.6 12.65-7.6 12.65-7.6-12.65zm7.64 0l7.6 12.65-7.6 12.65-7.6-12.65zm7.64 0l7.6 12.65-7.6 12.65-7.6-12.65zm7.64 0l7.6 12.65-7.6 12.65-7.6-12.65zm7.64 0l7.6 12.65-7.6 12.65-7.6-12.65zm7.64 0l7.6 12.65-7.6 12.65-7.6-12.65zm7.64 0l7.6 12.65-7.6 12.65-7.6-12.65zm7.64 0l7.6 12.65-7.6 12.65-7.6-12.65zm7.64 0l7.6 12.65-7.6 12.65-7.6-12.65zm7.64 0l7.6 12.65-7.6 12.65-7.6-12.65zm7.64 0l7.6 12.65-7.6 12.65-7.6-12.65zm7.64 0l7.6 12.65-7.6 12.65-7.6-12.65zm7.64 0l7.6 12.65-7.6 12.65-7.6-12.65zm7.64 0l7.6 12.65-7.6 12.65-7.6-12.65zm7.64 0l7.6 12.65-7.6 12.65-7.6-12.65zm7.64 0l7.6 12.65-7.6 12.65-7.6-12.65zm7.64 0l7.6 12.65-7.6 12.65-7.6-12.65zm7.64 0l7.6 12.65-7.6 12.65-7.6-12.65zm7.64 0l7.6 12.65-7.6 12.65-7.6-12.65zm7.64 0l7.6 12.65-7.6 12.65-7.6-12.65zm7.64 0l7.6 12.65-7.6 12.65-7.6-12.65zm-156.62 6.62l7.6 12.65-7.6 12.65-7.6-12.65zm7.64 0l7.6 12.65-7.6 12.65-7.6-12.65zm7.64 0l7.6 12.65-7.6 12.65-7.6-12.65zm7.64 0l7.6 12.65-7.6 12.65-7.6-12.65zm7.64 0l7.6 12.65-7.6 12.65-7.6-12.65zm7.64 0l7.6 12.65-7.6 12.65-7.6-12.65zm7.64 0l7.6 12.65-7.6 12.65-7.6-12.65zm7.64 0l7.6 12.65-7.6 12.65-7.6-12.65zm7.64 0l7.6 12.65-7.6 12.65-7.6-12.65zm7.64 0l7.6 12.65-7.6 12.65-7.6-12.65zm7.64 0l7.6 12.65-7.6 12.65-7.6-12.65zm7.64 0l7.6 12.65-7.6 12.65-7.6-12.65zm7.64 0l7.6 12.65-7.6 12.65-7.6-12.65zm7.64 0l7.6 12.65-7.6 12.65-7.6-12.65zm7.64 0l7.6 12.65-7.6 12.65-7.6-12.65zm7.64 0l7.6 12.65-7.6 12.65-7.6-12.65zm7.64 0l7.6 12.65-7.6 12.65-7.6-12.65zm7.64 0l7.6 12.65-7.6 12.65-7.6-12.65zm7.64 0l7.6 12.65-7.6 12.65-7.6-12.65zm7.64 0l7.6 12.65-7.6 12.65-7.6-12.65zm7.64 0l7.6 12.65-7.6 12.65-7.6-12.65zm7.64 0l7.6 12.65-7.6 12.65-7.6-12.65zm-156.62 6.62l7.6 12.65-7.6 12.65-7.6-12.65zm7.64 0l7.6 12.65-7.6 12.65-7.6-12.65zm7.64 0l7.6 12.65-7.6 12.65-7.6-12.65zm7.64 0l7.6 12.65-7.6 12.65-7.6-12.65zm7.64 0l7.6 12.65-7.6 12.65-7.6-12.65zm7.64 0l7.6 12.65-7.6 12.65-7.6-12.65zm7.64 0l7.6 12.65-7.6 12.65-7.6-12.65zm7.64 0l7.6 12.65-7.6 12.65-7.6-12.65zm7.64 0l7.6 12.65-7.6 12.65-7.6-12.65zm7.64 0l7.6 12.65-7.6 12.65-7.6-12.65zm7.64 0l7.6 12.65-7.6 12.65-7.6-12.65zm7.64 0l7.6 12.65-7.6 12.65-7.6-12.65zm7.64 0l7.6 12.65-7.6 12.65-7.6-12.65zm7.64 0l7.6 12.65-7.6 12.65-7.6-12.65zm7.64 0l7.6 12.65-7.6 12.65-7.6-12.65zm7.64 0l7.6 12.65-7.6 12.65-7.6-12.65zm7.64 0l7.6 12.65-7.6 12.65-7.6-12.65zm7.64 0l7.6 12.65-7.6 12.65-7.6-12.65zm7.64 0l7.6 12.65-7.6 12.65-7.6-12.65zm7.64 0l7.6 12.65-7.6 12.65-7.6-12.65zm7.64 0l7.6 12.65-7.6 12.65-7.6-12.65zm-156.62 6.62l7.6 12.65-7.6 12.65-7.6-12.65zm7.64 0l7.6 12.65-7.6 12.65-7.6-12.65zm7.64 0l7.6 12.65-7.6 12.65-7.6-12.65zm7.64 0l7.6 12.65-7.6 12.65-7.6-12.65zm7.64 0l7.6 12.65-7.6 12.65-7.6-12.65zm7.64 0l7.6 12.65-7.6 12.65-7.6-12.65zm7.64 0l7.6 12.65-7.6 12.65-7.6-12.65zm7.64 0l7.6 12.65-7.6 12.65-7.6-12.65zm7.64 0l7.6 12.65-7.6 12.65-7.6-12.65zm7.64 0l7.6 12.65-7.6 12.65-7.6-12.65zm7.64 0l7.6 12.65-7.6 12.65-7.6-12.65zm7.64 0l7.6 12.65-7.6 12.65-7.6-12.65zm7.64 0l7.6 12.65-7.6 12.65-7.6-12.65zm7.64 0l7.6 12.65-7.6 12.65-7.6-12.65zm7.64 0l7.6 12.65-7.6 12.65-7.6-12.65zm7.64 0l7.6 12.65-7.6 12.65-7.6-12.65zm7.64 0l7.6 12.65-7.6 12.65-7.6-12.65zm7.64 0l7.6 12.65-7.6 12.65-7.6-12.65zm7.64 0l7.6 12.65-7.6 12.65-7.6-12.65zm7.64 0l7.6 12.65-7.6 12.65-7.6-12.65zm7.64 0l7.6 12.65-7.6 12.65-7.6-12.65zm7.64 0l7.6 12.65-7.6 12.65-7.6-12.65zm-164.26 6.62l7.6 12.65-7.6 12.65-7.6-12.65zm7.64 0l7.6 12.65-7.6 12.65-7.6-12.65zm7.64 0l7.6 12.65-7.6 12.65-7.6-12.65zm7.64 0l7.6 12.65-7.6 12.65-7.6-12.65zm7.64 0l7.6 12.65-7.6 12.65-7.6-12.65zm7.64 0l7.6 12.65-7.6 12.65-7.6-12.65zm7.64 0l7.6 12.65-7.6 12.65-7.6-12.65zm7.64 0l7.6 12.65-7.6 12.65-7.6-12.65zm7.64 0l7.6 12.65-7.6 12.65-7.6-12.65zm45.84 0l7.6 12.65-7.6 12.65-7.6-12.65zm7.64 0l7.6 12.65-7.6 12.65-7.6-12.65zm7.64 0l7.6 12.65-7.6 12.65-7.6-12.65zm7.64 0l7.6 12.65-7.6 12.65-7.6-12.65zm7.64 0l7.6 12.65-7.6 12.65-7.6-12.65zm7.64 0l7.6 12.65-7.6 12.65-7.6-12.65zm7.64 0l7.6 12.65-7.6 12.65-7.6-12.65zm7.64 0l7.6 12.65-7.6 12.65-7.6-12.65zm7.64 0l7.6 12.65-7.6 12.65-7.6-12.65zm-171.9 6.62l7.6 12.65-7.6 12.65-7.6-12.65zm7.64 0l7.6 12.65-7.6 12.65-7.6-12.65zm7.64 0l7.6 12.65-7.6 12.65-7.6-12.65zm7.64 0l7.6 12.65-7.6 12.65-7.6-12.65zm7.64 0l7.6 12.65-7.6 12.65-7.6-12.65zm7.64 0l7.6 12.65-7.6 12.65-7.6-12.65zm7.64 0l7.6 12.65-7.6 12.65-7.6-12.65zm7.64 0l7.6 12.65-7.6 12.65-7.6-12.65zm68.76 0l7.6 12.65-7.6 12.65-7.6-12.65zm7.64 0l7.6 12.65-7.6 12.65-7.6-12.65zm7.64 0l7.6 12.65-7.6 12.65-7.6-12.65zm7.64 0l7.6 12.65-7.6 12.65-7.6-12.65zm7.64 0l7.6 12.65-7.6 12.65-7.6-12.65zm7.64 0l7.6 12.65-7.6 12.65-7.6-12.65zm7.64 0l7.6 12.65-7.6 12.65-7.6-12.65zm7.64 0l7.6 12.65-7.6 12.65-7.6-12.65zm-179.54 6.62l7.6 12.65-7.6 12.65-7.6-12.65zm7.64 0l7.6 12.65-7.6 12.65-7.6-12.65zm7.64 0l7.6 12.65-7.6 12.65-7.6-12.65zm7.64 0l7.6 12.65-7.6 12.65-7.6-12.65zm7.64 0l7.6 12.65-7.6 12.65-7.6-12.65zm7.64 0l7.6 12.65-7.6 12.65-7.6-12.65zm7.64 0l7.6 12.65-7.6 12.65-7.6-12.65zm91.68 0l7.6 12.65-7.6 12.65-7.6-12.65zm7.64 0l7.6 12.65-7.6 12.65-7.6-12.65zm7.64 0l7.6 12.65-7.6 12.65-7.6-12.65zm7.64 0l7.6 12.65-7.6 12.65-7.6-12.65zm7.64 0l7.6 12.65-7.6 12.65-7.6-12.65zm7.64 0l7.6 12.65-7.6 12.65-7.6-12.65zm7.64 0l7.6 12.65-7.6 12.65-7.6-12.65zm-187.18 6.62l7.6 12.65-7.6 12.65-7.6-12.65zm7.64 0l7.6 12.65-7.6 12.65-7.6-12.65zm7.64 0l7.6 12.65-7.6 12.65-7.6-12.65zm7.64 0l7.6 12.65-7.6 12.65-7.6-12.65zm7.64 0l7.6 12.65-7.6 12.65-7.6-12.65zm7.64 0l7.6 12.65-7.6 12.65-7.6-12.65zm7.64 0l7.6 12.65-7.6 12.65-7.6-12.65zm99.32 0l7.6 12.65-7.6 12.65-7.6-12.65zm7.64 0l7.6 12.65-7.6 12.65-7.6-12.65zm7.64 0l7.6 12.65-7.6 12.65-7.6-12.65zm7.64 0l7.6 12.65-7.6 12.65-7.6-12.65zm7.64 0l7.6 12.65-7.6 12.65-7.6-12.65zm7.64 0l7.6 12.65-7.6 12.65-7.6-12.65zm7.64 0l7.6 12.65-7.6 12.65-7.6-12.65zm-194.82 6.62l7.6 12.65-7.6 12.65-7.6-12.65zm7.64 0l7.6 12.65-7.6 12.65-7.6-12.65zm7.64 0l7.6 12.65-7.6 12.65-7.6-12.65zm7.64 0l7.6 12.65-7.6 12.65-7.6-12.65zm7.64 0l7.6 12.65-7.6 12.65-7.6-12.65zm7.64 0l7.6 12.65-7.6 12.65-7.6-12.65zm7.64 0l7.6 12.65-7.6 12.65-7.6-12.65zm106.96 0l7.6 12.65-7.6 12.65-7.6-12.65zm7.64 0l7.6 12.65-7.6 12.65-7.6-12.65zm7.64 0l7.6 12.65-7.6 12.65-7.6-12.65zm7.64 0l7.6 12.65-7.6 12.65-7.6-12.65zm7.64 0l7.6 12.65-7.6 12.65-7.6-12.65zm7.64 0l7.6 12.65-7.6 12.65-7.6-12.65zm7.64 0l7.6 12.65-7.6 12.65-7.6-12.65zm-210.1 6.62l7.6 12.65-7.6 12.65-7.6-12.65zm7.64 0l7.6 12.65-7.6 12.65-7.6-12.65zm7.64 0l7.6 12.65-7.6 12.65-7.6-12.65zm7.64 0l7.6 12.65-7.6 12.65-7.6-12.65zm7.64 0l7.6 12.65-7.6 12.65-7.6-12.65zm7.64 0l7.6 12.65-7.6 12.65-7.6-12.65zm7.64 0l7.6 12.65-7.6 12.65-7.6-12.65zm7.64 0l7.6 12.65-7.6 12.65-7.6-12.65zm114.6 0l7.6 12.65-7.6 12.65-7.6-12.65zm7.64 0l7.6 12.65-7.6 12.65-7.6-12.65zm7.64 0l7.6 12.65-7.6 12.65-7.6-12.65zm7.64 0l7.6 12.65-7.6 12.65-7.6-12.65zm7.64 0l7.6 12.65-7.6 12.65-7.6-12.65zm7.64 0l7.6 12.65-7.6 12.65-7.6-12.65zm7.64 0l7.6 12.65-7.6 12.65-7.6-12.65zm7.64 0l7.6 12.65-7.6 12.65-7.6-12.65zm-233.02 6.62l7.6 12.65-7.6 12.65-7.6-12.65zm7.64 0l7.6 12.65-7.6 12.65-7.6-12.65zm7.64 0l7.6 12.65-7.6 12.65-7.6-12.65zm7.64 0l7.6 12.65-7.6 12.65-7.6-12.65zm7.64 0l7.6 12.65-7.6 12.65-7.6-12.65zm7.64 0l7.6 12.65-7.6 12.65-7.6-12.65zm7.64 0l7.6 12.65-7.6 12.65-7.6-12.65zm7.64 0l7.6 12.65-7.6 12.65-7.6-12.65zm7.64 0l7.6 12.65-7.6 12.65-7.6-12.65zm122.24 0l7.6 12.65-7.6 12.65-7.6-12.65zm7.64 0l7.6 12.65-7.6 12.65-7.6-12.65zm7.64 0l7.6 12.65-7.6 12.65-7.6-12.65zm7.64 0l7.6 12.65-7.6 12.65-7.6-12.65zm7.64 0l7.6 12.65-7.6 12.65-7.6-12.65zm7.64 0l7.6 12.65-7.6 12.65-7.6-12.65zm7.64 0l7.6 12.65-7.6 12.65-7.6-12.65zm7.64 0l7.6 12.65-7.6 12.65-7.6-12.65zm7.64 0l7.6 12.65-7.6 12.65-7.6-12.65zm-263.58 6.62l7.6 12.65-7.6 12.65-7.6-12.65zm7.64 0l7.6 12.65-7.6 12.65-7.6-12.65zm7.64 0l7.6 12.65-7.6 12.65-7.6-12.65zm7.64 0l7.6 12.65-7.6 12.65-7.6-12.65zm7.64 0l7.6 12.65-7.6 12.65-7.6-12.65zm7.64 0l7.6 12.65-7.6 12.65-7.6-12.65zm7.64 0l7.6 12.65-7.6 12.65-7.6-12.65zm7.64 0l7.6 12.65-7.6 12.65-7.6-12.65zm7.64 0l7.6 12.65-7.6 12.65-7.6-12.65zm7.64 0l7.6 12.65-7.6 12.65-7.6-12.65zm7.64 0l7.6 12.65-7.6 12.65-7.6-12.65zm129.88 0l7.6 12.65-7.6 12.65-7.6-12.65zm7.64 0l7.6 12.65-7.6 12.65-7.6-12.65zm7.64 0l7.6 12.65-7.6 12.65-7.6-12.65zm7.64 0l7.6 12.65-7.6 12.65-7.6-12.65zm7.64 0l7.6 12.65-7.6 12.65-7.6-12.65zm7.64 0l7.6 12.65-7.6 12.65-7.6-12.65zm7.64 0l7.6 12.65-7.6 12.65-7.6-12.65zm7.64 0l7.6 12.65-7.6 12.65-7.6-12.65zm7.64 0l7.6 12.65-7.6 12.65-7.6-12.65zm7.64 0l7.6 12.65-7.6 12.65-7.6-12.65zm7.64 0l7.6 12.65-7.6 12.65-7.6-12.65zm-294.14 6.62l7.6 12.65-7.6 12.65-7.6-12.65zm7.64 0l7.6 12.65-7.6 12.65-7.6-12.65zm7.64 0l7.6 12.65-7.6 12.65-7.6-12.65zm7.64 0l7.6 12.65-7.6 12.65-7.6-12.65zm7.64 0l7.6 12.65-7.6 12.65-7.6-12.65zm7.64 0l7.6 12.65-7.6 12.65-7.6-12.65zm7.64 0l7.6 12.65-7.6 12.65-7.6-12.65zm7.64 0l7.6 12.65-7.6 12.65-7.6-12.65zm7.64 0l7.6 12.65-7.6 12.65-7.6-12.65zm7.64 0l7.6 12.65-7.6 12.65-7.6-12.65zm7.64 0l7.6 12.65-7.6 12.65-7.6-12.65zm7.64 0l7.6 12.65-7.6 12.65-7.6-12.65zm137.52 0l7.6 12.65-7.6 12.65-7.6-12.65zm7.64 0l7.6 12.65-7.6 12.65-7.6-12.65zm7.64 0l7.6 12.65-7.6 12.65-7.6-12.65zm7.64 0l7.6 12.65-7.6 12.65-7.6-12.65zm7.64 0l7.6 12.65-7.6 12.65-7.6-12.65zm7.64 0l7.6 12.65-7.6 12.65-7.6-12.65zm7.64 0l7.6 12.65-7.6 12.65-7.6-12.65zm7.64 0l7.6 12.65-7.6 12.65-7.6-12.65zm7.64 0l7.6 12.65-7.6 12.65-7.6-12.65zm7.64 0l7.6 12.65-7.6 12.65-7.6-12.65zm7.64 0l7.6 12.65-7.6 12.65-7.6-12.65zm7.64 0l7.6 12.65-7.6 12.65-7.6-12.65zm-309.42 6.62l7.6 12.65-7.6 12.65-7.6-12.65zm7.64 0l7.6 12.65-7.6 12.65-7.6-12.65zm7.64 0l7.6 12.65-7.6 12.65-7.6-12.65zm7.64 0l7.6 12.65-7.6 12.65-7.6-12.65zm7.64 0l7.6 12.65-7.6 12.65-7.6-12.65zm7.64 0l7.6 12.65-7.6 12.65-7.6-12.65zm7.64 0l7.6 12.65-7.6 12.65-7.6-12.65zm7.64 0l7.6 12.65-7.6 12.65-7.6-12.65zm7.64 0l7.6 12.65-7.6 12.65-7.6-12.65zm7.64 0l7.6 12.65-7.6 12.65-7.6-12.65zm7.64 0l7.6 12.65-7.6 12.65-7.6-12.65zm7.64 0l7.6 12.65-7.6 12.65-7.6-12.65zm7.64 0l7.6 12.65-7.6 12.65-7.6-12.65zm129.88 0l7.6 12.65-7.6 12.65-7.6-12.65zm7.64 0l7.6 12.65-7.6 12.65-7.6-12.65zm7.64 0l7.6 12.65-7.6 12.65-7.6-12.65zm7.64 0l7.6 12.65-7.6 12.65-7.6-12.65zm7.64 0l7.6 12.65-7.6 12.65-7.6-12.65zm7.64 0l7.6 12.65-7.6 12.65-7.6-12.65zm7.64 0l7.6 12.65-7.6 12.65-7.6-12.65zm7.64 0l7.6 12.65-7.6 12.65-7.6-12.65zm7.64 0l7.6 12.65-7.6 12.65-7.6-12.65zm7.64 0l7.6 12.65-7.6 12.65-7.6-12.65zm7.64 0l7.6 12.65-7.6 12.65-7.6-12.65zm7.64 0l7.6 12.65-7.6 12.65-7.6-12.65zm7.64 0l7.6 12.65-7.6 12.65-7.6-12.65zm-309.42 6.62l7.6 12.65-7.6 12.65-7.6-12.65zm7.64 0l7.6 12.65-7.6 12.65-7.6-12.65zm7.64 0l7.6 12.65-7.6 12.65-7.6-12.65zm7.64 0l7.6 12.65-7.6 12.65-7.6-12.65zm7.64 0l7.6 12.65-7.6 12.65-7.6-12.65zm7.64 0l7.6 12.65-7.6 12.65-7.6-12.65zm7.64 0l7.6 12.65-7.6 12.65-7.6-12.65zm7.64 0l7.6 12.65-7.6 12.65-7.6-12.65zm7.64 0l7.6 12.65-7.6 12.65-7.6-12.65zm7.64 0l7.6 12.65-7.6 12.65-7.6-12.65zm7.64 0l7.6 12.65-7.6 12.65-7.6-12.65zm7.64 0l7.6 12.65-7.6 12.65-7.6-12.65zm137.52 0l7.6 12.65-7.6 12.65-7.6-12.65zm7.64 0l7.6 12.65-7.6 12.65-7.6-12.65zm7.64 0l7.6 12.65-7.6 12.65-7.6-12.65zm7.64 0l7.6 12.65-7.6 12.65-7.6-12.65zm7.64 0l7.6 12.65-7.6 12.65-7.6-12.65zm7.64 0l7.6 12.65-7.6 12.65-7.6-12.65zm7.64 0l7.6 12.65-7.6 12.65-7.6-12.65zm7.64 0l7.6 12.65-7.6 12.65-7.6-12.65zm7.64 0l7.6 12.65-7.6 12.65-7.6-12.65zm7.64 0l7.6 12.65-7.6 12.65-7.6-12.65zm7.64 0l7.6 12.65-7.6 12.65-7.6-12.65zm7.64 0l7.6 12.65-7.6 12.65-7.6-12.65zm-294.14 6.62l7.6 12.65-7.6 12.65-7.6-12.65zm7.64 0l7.6 12.65-7.6 12.65-7.6-12.65zm7.64 0l7.6 12.65-7.6 12.65-7.6-12.65zm7.64 0l7.6 12.65-7.6 12.65-7.6-12.65zm7.64 0l7.6 12.65-7.6 12.65-7.6-12.65zm7.64 0l7.6 12.65-7.6 12.65-7.6-12.65zm7.64 0l7.6 12.65-7.6 12.65-7.6-12.65zm7.64 0l7.6 12.65-7.6 12.65-7.6-12.65zm7.64 0l7.6 12.65-7.6 12.65-7.6-12.65zm7.64 0l7.6 12.65-7.6 12.65-7.6-12.65zm7.64 0l7.6 12.65-7.6 12.65-7.6-12.65zm129.88 0l7.6 12.65-7.6 12.65-7.6-12.65zm7.64 0l7.6 12.65-7.6 12.65-7.6-12.65zm7.64 0l7.6 12.65-7.6 12.65-7.6-12.65zm7.64 0l7.6 12.65-7.6 12.65-7.6-12.65zm7.64 0l7.6 12.65-7.6 12.65-7.6-12.65zm7.64 0l7.6 12.65-7.6 12.65-7.6-12.65zm7.64 0l7.6 12.65-7.6 12.65-7.6-12.65zm7.64 0l7.6 12.65-7.6 12.65-7.6-12.65zm7.64 0l7.6 12.65-7.6 12.65-7.6-12.65zm7.64 0l7.6 12.65-7.6 12.65-7.6-12.65zm7.64 0l7.6 12.65-7.6 12.65-7.6-12.65zm-263.58 6.62l7.6 12.65-7.6 12.65-7.6-12.65zm7.64 0l7.6 12.65-7.6 12.65-7.6-12.65zm7.64 0l7.6 12.65-7.6 12.65-7.6-12.65zm7.64 0l7.6 12.65-7.6 12.65-7.6-12.65zm7.64 0l7.6 12.65-7.6 12.65-7.6-12.65zm7.64 0l7.6 12.65-7.6 12.65-7.6-12.65zm7.64 0l7.6 12.65-7.6 12.65-7.6-12.65zm7.64 0l7.6 12.65-7.6 12.65-7.6-12.65zm7.64 0l7.6 12.65-7.6 12.65-7.6-12.65zm122.24 0l7.6 12.65-7.6 12.65-7.6-12.65zm7.64 0l7.6 12.65-7.6 12.65-7.6-12.65zm7.64 0l7.6 12.65-7.6 12.65-7.6-12.65zm7.64 0l7.6 12.65-7.6 12.65-7.6-12.65zm7.64 0l7.6 12.65-7.6 12.65-7.6-12.65zm7.64 0l7.6 12.65-7.6 12.65-7.6-12.65zm7.64 0l7.6 12.65-7.6 12.65-7.6-12.65zm7.64 0l7.6 12.65-7.6 12.65-7.6-12.65zm7.64 0l7.6 12.65-7.6 12.65-7.6-12.65zm-233.02 6.62l7.6 12.65-7.6 12.65-7.6-12.65zm7.64 0l7.6 12.65-7.6 12.65-7.6-12.65zm7.64 0l7.6 12.65-7.6 12.65-7.6-12.65zm7.64 0l7.6 12.65-7.6 12.65-7.6-12.65zm7.64 0l7.6 12.65-7.6 12.65-7.6-12.65zm7.64 0l7.6 12.65-7.6 12.65-7.6-12.65zm7.64 0l7.6 12.65-7.6 12.65-7.6-12.65zm7.64 0l7.6 12.65-7.6 12.65-7.6-12.65zm114.6 0l7.6 12.65-7.6 12.65-7.6-12.65zm7.64 0l7.6 12.65-7.6 12.65-7.6-12.65zm7.64 0l7.6 12.65-7.6 12.65-7.6-12.65zm7.64 0l7.6 12.65-7.6 12.65-7.6-12.65zm7.64 0l7.6 12.65-7.6 12.65-7.6-12.65zm7.64 0l7.6 12.65-7.6 12.65-7.6-12.65zm7.64 0l7.6 12.65-7.6 12.65-7.6-12.65zm7.64 0l7.6 12.65-7.6 12.65-7.6-12.65zm-210.1 6.62l7.6 12.65-7.6 12.65-7.6-12.65zm7.64 0l7.6 12.65-7.6 12.65-7.6-12.65zm7.64 0l7.6 12.65-7.6 12.65-7.6-12.65zm7.64 0l7.6 12.65-7.6 12.65-7.6-12.65zm7.64 0l7.6 12.65-7.6 12.65-7.6-12.65zm7.64 0l7.6 12.65-7.6 12.65-7.6-12.65zm7.64 0l7.6 12.65-7.6 12.65-7.6-12.65zm106.96 0l7.6 12.65-7.6 12.65-7.6-12.65zm7.64 0l7.6 12.65-7.6 12.65-7.6-12.65zm7.64 0l7.6 12.65-7.6 12.65-7.6-12.65zm7.64 0l7.6 12.65-7.6 12.65-7.6-12.65zm7.64 0l7.6 12.65-7.6 12.65-7.6-12.65zm7.64 0l7.6 12.65-7.6 12.65-7.6-12.65zm7.64 0l7.6 12.65-7.6 12.65-7.6-12.65zm-194.82 6.62l7.6 12.65-7.6 12.65-7.6-12.65zm7.64 0l7.6 12.65-7.6 12.65-7.6-12.65zm7.64 0l7.6 12.65-7.6 12.65-7.6-12.65zm7.64 0l7.6 12.65-7.6 12.65-7.6-12.65zm7.64 0l7.6 12.65-7.6 12.65-7.6-12.65zm7.64 0l7.6 12.65-7.6 12.65-7.6-12.65zm7.64 0l7.6 12.65-7.6 12.65-7.6-12.65zm99.32 0l7.6 12.65-7.6 12.65-7.6-12.65zm7.64 0l7.6 12.65-7.6 12.65-7.6-12.65zm7.64 0l7.6 12.65-7.6 12.65-7.6-12.65zm7.64 0l7.6 12.65-7.6 12.65-7.6-12.65zm7.64 0l7.6 12.65-7.6 12.65-7.6-12.65zm7.64 0l7.6 12.65-7.6 12.65-7.6-12.65zm7.64 0l7.6 12.65-7.6 12.65-7.6-12.65zm-187.18 6.62l7.6 12.65-7.6 12.65-7.6-12.65zm7.64 0l7.6 12.65-7.6 12.65-7.6-12.65zm7.64 0l7.6 12.65-7.6 12.65-7.6-12.65zm7.64 0l7.6 12.65-7.6 12.65-7.6-12.65zm7.64 0l7.6 12.65-7.6 12.65-7.6-12.65zm7.64 0l7.6 12.65-7.6 12.65-7.6-12.65zm7.64 0l7.6 12.65-7.6 12.65-7.6-12.65zm91.68 0l7.6 12.65-7.6 12.65-7.6-12.65zm7.64 0l7.6 12.65-7.6 12.65-7.6-12.65zm7.64 0l7.6 12.65-7.6 12.65-7.6-12.65zm7.64 0l7.6 12.65-7.6 12.65-7.6-12.65zm7.64 0l7.6 12.65-7.6 12.65-7.6-12.65zm7.64 0l7.6 12.65-7.6 12.65-7.6-12.65zm7.64 0l7.6 12.65-7.6 12.65-7.6-12.65zm-179.54 6.62l7.6 12.65-7.6 12.65-7.6-12.65zm7.64 0l7.6 12.65-7.6 12.65-7.6-12.65zm7.64 0l7.6 12.65-7.6 12.65-7.6-12.65zm7.64 0l7.6 12.65-7.6 12.65-7.6-12.65zm7.64 0l7.6 12.65-7.6 12.65-7.6-12.65zm7.64 0l7.6 12.65-7.6 12.65-7.6-12.65zm7.64 0l7.6 12.65-7.6 12.65-7.6-12.65zm7.64 0l7.6 12.65-7.6 12.65-7.6-12.65zm68.76 0l7.6 12.65-7.6 12.65-7.6-12.65zm7.64 0l7.6 12.65-7.6 12.65-7.6-12.65zm7.64 0l7.6 12.65-7.6 12.65-7.6-12.65zm7.64 0l7.6 12.65-7.6 12.65-7.6-12.65zm7.64 0l7.6 12.65-7.6 12.65-7.6-12.65zm7.64 0l7.6 12.65-7.6 12.65-7.6-12.65zm7.64 0l7.6 12.65-7.6 12.65-7.6-12.65zm7.64 0l7.6 12.65-7.6 12.65-7.6-12.65zm-171.9 6.62l7.6 12.65-7.6 12.65-7.6-12.65zm7.64 0l7.6 12.65-7.6 12.65-7.6-12.65zm7.64 0l7.6 12.65-7.6 12.65-7.6-12.65zm7.64 0l7.6 12.65-7.6 12.65-7.6-12.65zm7.64 0l7.6 12.65-7.6 12.65-7.6-12.65zm7.64 0l7.6 12.65-7.6 12.65-7.6-12.65zm7.64 0l7.6 12.65-7.6 12.65-7.6-12.65zm7.64 0l7.6 12.65-7.6 12.65-7.6-12.65zm7.64 0l7.6 12.65-7.6 12.65-7.6-12.65zm45.84 0l7.6 12.65-7.6 12.65-7.6-12.65zm7.64 0l7.6 12.65-7.6 12.65-7.6-12.65zm7.64 0l7.6 12.65-7.6 12.65-7.6-12.65zm7.64 0l7.6 12.65-7.6 12.65-7.6-12.65zm7.64 0l7.6 12.65-7.6 12.65-7.6-12.65zm7.64 0l7.6 12.65-7.6 12.65-7.6-12.65zm7.64 0l7.6 12.65-7.6 12.65-7.6-12.65zm7.64 0l7.6 12.65-7.6 12.65-7.6-12.65zm7.64 0l7.6 12.65-7.6 12.65-7.6-12.65zm-164.26 6.62l7.6 12.65-7.6 12.65-7.6-12.65zm7.64 0l7.6 12.65-7.6 12.65-7.6-12.65zm7.64 0l7.6 12.65-7.6 12.65-7.6-12.65zm7.64 0l7.6 12.65-7.6 12.65-7.6-12.65zm7.64 0l7.6 12.65-7.6 12.65-7.6-12.65zm7.64 0l7.6 12.65-7.6 12.65-7.6-12.65zm7.64 0l7.6 12.65-7.6 12.65-7.6-12.65zm7.64 0l7.6 12.65-7.6 12.65-7.6-12.65zm7.64 0l7.6 12.65-7.6 12.65-7.6-12.65zm7.64 0l7.6 12.65-7.6 12.65-7.6-12.65zm7.64 0l7.6 12.65-7.6 12.65-7.6-12.65zm7.64 0l7.6 12.65-7.6 12.65-7.6-12.65zm7.64 0l7.6 12.65-7.6 12.65-7.6-12.65zm7.64 0l7.6 12.65-7.6 12.65-7.6-12.65zm7.64 0l7.6 12.65-7.6 12.65-7.6-12.65zm7.64 0l7.6 12.65-7.6 12.65-7.6-12.65zm7.64 0l7.6 12.65-7.6 12.65-7.6-12.65zm7.64 0l7.6 12.65-7.6 12.65-7.6-12.65zm7.64 0l7.6 12.65-7.6 12.65-7.6-12.65zm7.64 0l7.6 12.65-7.6 12.65-7.6-12.65zm7.64 0l7.6 12.65-7.6 12.65-7.6-12.65zm7.64 0l7.6 12.65-7.6 12.65-7.6-12.65zm-156.62 6.62l7.6 12.65-7.6 12.65-7.6-12.65zm7.64 0l7.6 12.65-7.6 12.65-7.6-12.65zm7.64 0l7.6 12.65-7.6 12.65-7.6-12.65zm7.64 0l7.6 12.65-7.6 12.65-7.6-12.65zm7.64 0l7.6 12.65-7.6 12.65-7.6-12.65zm7.64 0l7.6 12.65-7.6 12.65-7.6-12.65zm7.64 0l7.6 12.65-7.6 12.65-7.6-12.65zm7.64 0l7.6 12.65-7.6 12.65-7.6-12.65zm7.64 0l7.6 12.65-7.6 12.65-7.6-12.65zm7.64 0l7.6 12.65-7.6 12.65-7.6-12.65zm7.64 0l7.6 12.65-7.6 12.65-7.6-12.65zm7.64 0l7.6 12.65-7.6 12.65-7.6-12.65zm7.64 0l7.6 12.65-7.6 12.65-7.6-12.65zm7.64 0l7.6 12.65-7.6 12.65-7.6-12.65zm7.64 0l7.6 12.65-7.6 12.65-7.6-12.65zm7.64 0l7.6 12.65-7.6 12.65-7.6-12.65zm7.64 0l7.6 12.65-7.6 12.65-7.6-12.65zm7.64 0l7.6 12.65-7.6 12.65-7.6-12.65zm7.64 0l7.6 12.65-7.6 12.65-7.6-12.65zm7.64 0l7.6 12.65-7.6 12.65-7.6-12.65zm7.64 0l7.6 12.65-7.6 12.65-7.6-12.65zm-156.62 6.62l7.6 12.65-7.6 12.65-7.6-12.65zm7.64 0l7.6 12.65-7.6 12.65-7.6-12.65zm7.64 0l7.6 12.65-7.6 12.65-7.6-12.65zm7.64 0l7.6 12.65-7.6 12.65-7.6-12.65zm7.64 0l7.6 12.65-7.6 12.65-7.6-12.65zm7.64 0l7.6 12.65-7.6 12.65-7.6-12.65zm7.64 0l7.6 12.65-7.6 12.65-7.6-12.65zm7.64 0l7.6 12.65-7.6 12.65-7.6-12.65zm7.64 0l7.6 12.65-7.6 12.65-7.6-12.65zm7.64 0l7.6 12.65-7.6 12.65-7.6-12.65zm7.64 0l7.6 12.65-7.6 12.65-7.6-12.65zm7.64 0l7.6 12.65-7.6 12.65-7.6-12.65zm7.64 0l7.6 12.65-7.6 12.65-7.6-12.65zm7.64 0l7.6 12.65-7.6 12.65-7.6-12.65zm7.64 0l7.6 12.65-7.6 12.65-7.6-12.65zm7.64 0l7.6 12.65-7.6 12.65-7.6-12.65zm7.64 0l7.6 12.65-7.6 12.65-7.6-12.65zm7.64 0l7.6 12.65-7.6 12.65-7.6-12.65zm7.64 0l7.6 12.65-7.6 12.65-7.6-12.65zm7.64 0l7.6 12.65-7.6 12.65-7.6-12.65zm7.64 0l7.6 12.65-7.6 12.65-7.6-12.65zm7.64 0l7.6 12.65-7.6 12.65-7.6-12.65zm-156.62 6.62l7.6 12.65-7.6 12.65-7.6-12.65zm7.64 0l7.6 12.65-7.6 12.65-7.6-12.65zm7.64 0l7.6 12.65-7.6 12.65-7.6-12.65zm7.64 0l7.6 12.65-7.6 12.65-7.6-12.65zm7.64 0l7.6 12.65-7.6 12.65-7.6-12.65zm7.64 0l7.6 12.65-7.6 12.65-7.6-12.65zm7.64 0l7.6 12.65-7.6 12.65-7.6-12.65zm7.64 0l7.6 12.65-7.6 12.65-7.6-12.65zm7.64 0l7.6 12.65-7.6 12.65-7.6-12.65zm7.64 0l7.6 12.65-7.6 12.65-7.6-12.65zm7.64 0l7.6 12.65-7.6 12.65-7.6-12.65zm7.64 0l7.6 12.65-7.6 12.65-7.6-12.65zm7.64 0l7.6 12.65-7.6 12.65-7.6-12.65zm7.64 0l7.6 12.65-7.6 12.65-7.6-12.65zm7.64 0l7.6 12.65-7.6 12.65-7.6-12.65zm7.64 0l7.6 12.65-7.6 12.65-7.6-12.65zm7.64 0l7.6 12.65-7.6 12.65-7.6-12.65zm7.64 0l7.6 12.65-7.6 12.65-7.6-12.65zm7.64 0l7.6 12.65-7.6 12.65-7.6-12.65zm7.64 0l7.6 12.65-7.6 12.65-7.6-12.65zm7.64 0l7.6 12.65-7.6 12.65-7.6-12.65zm-148.98 6.62l7.6 12.65-7.6 12.65-7.6-12.65zm7.64 0l7.6 12.65-7.6 12.65-7.6-12.65zm7.64 0l7.6 12.65-7.6 12.65-7.6-12.65zm7.64 0l7.6 12.65-7.6 12.65-7.6-12.65zm7.64 0l7.6 12.65-7.6 12.65-7.6-12.65zm7.64 0l7.6 12.65-7.6 12.65-7.6-12.65zm7.64 0l7.6 12.65-7.6 12.65-7.6-12.65zm7.64 0l7.6 12.65-7.6 12.65-7.6-12.65zm7.64 0l7.6 12.65-7.6 12.65-7.6-12.65zm7.64 0l7.6 12.65-7.6 12.65-7.6-12.65zm7.64 0l7.6 12.65-7.6 12.65-7.6-12.65zm7.64 0l7.6 12.65-7.6 12.65-7.6-12.65zm7.64 0l7.6 12.65-7.6 12.65-7.6-12.65zm7.64 0l7.6 12.65-7.6 12.65-7.6-12.65zm7.64 0l7.6 12.65-7.6 12.65-7.6-12.65zm7.64 0l7.6 12.65-7.6 12.65-7.6-12.65zm7.64 0l7.6 12.65-7.6 12.65-7.6-12.65zm7.64 0l7.6 12.65-7.6 12.65-7.6-12.65zm7.64 0l7.6 12.65-7.6 12.65-7.6-12.65zm7.64 0l7.6 12.65-7.6 12.65-7.6-12.65zm-148.98 6.62l7.6 12.65-7.6 12.65-7.6-12.65zm7.64 0l7.6 12.65-7.6 12.65-7.6-12.65zm7.64 0l7.6 12.65-7.6 12.65-7.6-12.65zm7.64 0l7.6 12.65-7.6 12.65-7.6-12.65zm7.64 0l7.6 12.65-7.6 12.65-7.6-12.65zm7.64 0l7.6 12.65-7.6 12.65-7.6-12.65zm7.64 0l7.6 12.65-7.6 12.65-7.6-12.65zm7.64 0l7.6 12.65-7.6 12.65-7.6-12.65zm7.64 0l7.6 12.65-7.6 12.65-7.6-12.65zm7.64 0l7.6 12.65-7.6 12.65-7.6-12.65zm7.64 0l7.6 12.65-7.6 12.65-7.6-12.65zm7.64 0l7.6 12.65-7.6 12.65-7.6-12.65zm7.64 0l7.6 12.65-7.6 12.65-7.6-12.65zm7.64 0l7.6 12.65-7.6 12.65-7.6-12.65zm7.64 0l7.6 12.65-7.6 12.65-7.6-12.65zm7.64 0l7.6 12.65-7.6 12.65-7.6-12.65zm7.64 0l7.6 12.65-7.6 12.65-7.6-12.65zm7.64 0l7.6 12.65-7.6 12.65-7.6-12.65zm7.64 0l7.6 12.65-7.6 12.65-7.6-12.65zm7.64 0l7.6 12.65-7.6 12.65-7.6-12.65zm7.64 0l7.6 12.65-7.6 12.65-7.6-12.65zm-156.62 6.62l7.6 12.65-7.6 12.65-7.6-12.65zm7.64 0l7.6 12.65-7.6 12.65-7.6-12.65zm7.64 0l7.6 12.65-7.6 12.65-7.6-12.65zm7.64 0l7.6 12.65-7.6 12.65-7.6-12.65zm7.64 0l7.6 12.65-7.6 12.65-7.6-12.65zm7.64 0l7.6 12.65-7.6 12.65-7.6-12.65zm7.64 0l7.6 12.65-7.6 12.65-7.6-12.65zm7.64 0l7.6 12.65-7.6 12.65-7.6-12.65zm7.64 0l7.6 12.65-7.6 12.65-7.6-12.65zm38.2 0l7.6 12.65-7.6 12.65-7.6-12.65zm7.64 0l7.6 12.65-7.6 12.65-7.6-12.65zm7.64 0l7.6 12.65-7.6 12.65-7.6-12.65zm7.64 0l7.6 12.65-7.6 12.65-7.6-12.65zm7.64 0l7.6 12.65-7.6 12.65-7.6-12.65zm7.64 0l7.6 12.65-7.6 12.65-7.6-12.65zm7.64 0l7.6 12.65-7.6 12.65-7.6-12.65zm7.64 0l7.6 12.65-7.6 12.65-7.6-12.65zm7.64 0l7.6 12.65-7.6 12.65-7.6-12.65zm-156.62 6.62l7.6 12.65-7.6 12.65-7.6-12.65zm7.64 0l7.6 12.65-7.6 12.65-7.6-12.65zm7.64 0l7.6 12.65-7.6 12.65-7.6-12.65zm7.64 0l7.6 12.65-7.6 12.65-7.6-12.65zm7.64 0l7.6 12.65-7.6 12.65-7.6-12.65zm7.64 0l7.6 12.65-7.6 12.65-7.6-12.65zm76.4 0l7.6 12.65-7.6 12.65-7.6-12.65zm7.64 0l7.6 12.65-7.6 12.65-7.6-12.65zm7.64 0l7.6 12.65-7.6 12.65-7.6-12.65zm7.64 0l7.6 12.65-7.6 12.65-7.6-12.65zm7.64 0l7.6 12.65-7.6 12.65-7.6-12.65zm7.64 0l7.6 12.65-7.6 12.65-7.6-12.65zm-156.62 6.62l7.6 12.65-7.6 12.65-7.6-12.65zm7.64 0l7.6 12.65-7.6 12.65-7.6-12.65zm7.64 0l7.6 12.65-7.6 12.65-7.6-12.65zm7.64 0l7.6 12.65-7.6 12.65-7.6-12.65zm7.64 0l7.6 12.65-7.6 12.65-7.6-12.65zm99.32 0l7.6 12.65-7.6 12.65-7.6-12.65zm7.64 0l7.6 12.65-7.6 12.65-7.6-12.65zm7.64 0l7.6 12.65-7.6 12.65-7.6-12.65zm7.64 0l7.6 12.65-7.6 12.65-7.6-12.65zm7.64 0l7.6 12.65-7.6 12.65-7.6-12.65zm-164.26 6.62l7.6 12.65-7.6 12.65-7.6-12.65zm7.64 0l7.6 12.65-7.6 12.65-7.6-12.65zm7.64 0l7.6 12.65-7.6 12.65-7.6-12.65zm7.64 0l7.6 12.65-7.6 12.65-7.6-12.65zm122.24 0l7.6 12.65-7.6 12.65-7.6-12.65zm7.64 0l7.6 12.65-7.6 12.65-7.6-12.65zm7.64 0l7.6 12.65-7.6 12.65-7.6-12.65zm7.64 0l7.6 12.65-7.6 12.65-7.6-12.65zm-164.26 6.62l7.6 12.65-7.6 12.65-7.6-12.65zm7.64 0l7.6 12.65-7.6 12.65-7.6-12.65zm7.64 0l7.6 12.65-7.6 12.65-7.6-12.65zm129.88 0l7.6 12.65-7.6 12.65-7.6-12.65zm7.64 0l7.6 12.65-7.6 12.65-7.6-12.65zm7.64 0l7.6 12.65-7.6 12.65-7.6-12.65zm-148.98 6.62l7.6 12.65-7.6 12.65-7.6-12.65zm137.52 0l7.6 12.65-7.6 12.65-7.6-12.65z"/><path fill="#a90c1b" d="M592.75 584.39l7.6 12.65-7.6 12.65-7.6-12.65zm7.64 0l7.6 12.65-7.6 12.65-7.6-12.65zm99.32 0l7.6 12.65-7.6 12.65-7.6-12.65zm7.64 0l7.6 12.65-7.6 12.65-7.6-12.65zm-118.42 6.62l7.6 12.65-7.6 12.65-7.6-12.65zm7.64 0l7.6 12.65-7.6 12.65-7.6-12.65zm7.64 0l7.6 12.65-7.6 12.65-7.6-12.65zm91.68 0l7.6 12.65-7.6 12.65-7.6-12.65zm7.64 0l7.6 12.65-7.6 12.65-7.6-12.65zm7.64 0l7.6 12.65-7.6 12.65-7.6-12.65zm-118.42 6.62l7.6 12.65-7.6 12.65-7.6-12.65zm7.64 0l7.6 12.65-7.6 12.65-7.6-12.65zm7.64 0l7.6 12.65-7.6 12.65-7.6-12.65zm84.04 0l7.6 12.65-7.6 12.65-7.6-12.65zm7.64 0l7.6 12.65-7.6 12.65-7.6-12.65zm7.64 0l7.6 12.65-7.6 12.65-7.6-12.65zm-148.98 6.62l7.6 12.65-7.6 12.65-7.6-12.65zm38.2 0l7.6 12.65-7.6 12.65-7.6-12.65zm7.64 0l7.6 12.65-7.6 12.65-7.6-12.65zm7.64 0l7.6 12.65-7.6 12.65-7.6-12.65zm7.64 0l7.6 12.65-7.6 12.65-7.6-12.65zm61.12 0l7.6 12.65-7.6 12.65-7.6-12.65zm7.64 0l7.6 12.65-7.6 12.65-7.6-12.65zm7.64 0l7.6 12.65-7.6 12.65-7.6-12.65zm7.64 0l7.6 12.65-7.6 12.65-7.6-12.65zm38.2 0l7.6 12.65-7.6 12.65-7.6-12.65zm-187.18 6.62l7.6 12.65-7.6 12.65-7.6-12.65zm7.64 0l7.6 12.65-7.6 12.65-7.6-12.65zm45.84 0l7.6 12.65-7.6 12.65-7.6-12.65zm7.64 0l7.6 12.65-7.6 12.65-7.6-12.65zm7.64 0l7.6 12.65-7.6 12.65-7.6-12.65zm7.64 0l7.6 12.65-7.6 12.65-7.6-12.65zm7.64 0l7.6 12.65-7.6 12.65-7.6-12.65zm7.64 0l7.6 12.65-7.6 12.65-7.6-12.65zm7.64 0l7.6 12.65-7.6 12.65-7.6-12.65zm7.64 0l7.6 12.65-7.6 12.65-7.6-12.65zm7.64 0l7.6 12.65-7.6 12.65-7.6-12.65zm7.64 0l7.6 12.65-7.6 12.65-7.6-12.65zm7.64 0l7.6 12.65-7.6 12.65-7.6-12.65zm7.64 0l7.6 12.65-7.6 12.65-7.6-12.65zm45.84 0l7.6 12.65-7.6 12.65-7.6-12.65zm7.64 0l7.6 12.65-7.6 12.65-7.6-12.65zm-194.82 6.62l7.6 12.65-7.6 12.65-7.6-12.65zm7.64 0l7.6 12.65-7.6 12.65-7.6-12.65zm7.64 0l7.6 12.65-7.6 12.65-7.6-12.65zm53.48 0l7.6 12.65-7.6 12.65-7.6-12.65zm7.64 0l7.6 12.65-7.6 12.65-7.6-12.65zm7.64 0l7.6 12.65-7.6 12.65-7.6-12.65zm7.64 0l7.6 12.65-7.6 12.65-7.6-12.65zm7.64 0l7.6 12.65-7.6 12.65-7.6-12.65zm7.64 0l7.6 12.65-7.6 12.65-7.6-12.65zm7.64 0l7.6 12.65-7.6 12.65-7.6-12.65zm7.64 0l7.6 12.65-7.6 12.65-7.6-12.65zm7.64 0l7.6 12.65-7.6 12.65-7.6-12.65zm53.48 0l7.6 12.65-7.6 12.65-7.6-12.65zm7.64 0l7.6 12.65-7.6 12.65-7.6-12.65zm7.64 0l7.6 12.65-7.6 12.65-7.6-12.65zm-194.82 6.62l7.6 12.65-7.6 12.65-7.6-12.65zm7.64 0l7.6 12.65-7.6 12.65-7.6-12.65zm76.4 0l7.6 12.65-7.6 12.65-7.6-12.65zm7.64 0l7.6 12.65-7.6 12.65-7.6-12.65zm7.64 0l7.6 12.65-7.6 12.65-7.6-12.65zm7.64 0l7.6 12.65-7.6 12.65-7.6-12.65zm76.4 0l7.6 12.65-7.6 12.65-7.6-12.65zm7.64 0l7.6 12.65-7.6 12.65-7.6-12.65zm-187.18 6.62l7.6 12.65-7.6 12.65-7.6-12.65zm7.64 0l7.6 12.65-7.6 12.65-7.6-12.65zm168.08 0l7.6 12.65-7.6 12.65-7.6-12.65zm7.64 0l7.6 12.65-7.6 12.65-7.6-12.65zm-187.18 6.62l7.6 12.65-7.6 12.65-7.6-12.65zm7.64 0l7.6 12.65-7.6 12.65-7.6-12.65zm7.64 0l7.6 12.65-7.6 12.65-7.6-12.65zm160.44 0l7.6 12.65-7.6 12.65-7.6-12.65zm7.64 0l7.6 12.65-7.6 12.65-7.6-12.65zm7.64 0l7.6 12.65-7.6 12.65-7.6-12.65zm-187.18 6.62l7.6 12.65-7.6 12.65-7.6-12.65zm7.64 0l7.6 12.65-7.6 12.65-7.6-12.65zm168.08 0l7.6 12.65-7.6 12.65-7.6-12.65zm7.64 0l7.6 12.65-7.6 12.65-7.6-12.65zm-187.18 6.62l7.6 12.65-7.6 12.65-7.6-12.65zm7.64 0l7.6 12.65-7.6 12.65-7.6-12.65zm175.72 0l7.6 12.65-7.6 12.65-7.6-12.65zm7.64 0l7.6 12.65-7.6 12.65-7.6-12.65zm-187.18 6.62l7.6 12.65-7.6 12.65-7.6-12.65zm7.64 0l7.6 12.65-7.6 12.65-7.6-12.65zm168.08 0l7.6 12.65-7.6 12.65-7.6-12.65zm7.64 0l7.6 12.65-7.6 12.65-7.6-12.65zm-187.18 6.62l7.6 12.65-7.6 12.65-7.6-12.65zm7.64 0l7.6 12.65-7.6 12.65-7.6-12.65zm175.72 0l7.6 12.65-7.6 12.65-7.6-12.65zm7.64 0l7.6 12.65-7.6 12.65-7.6-12.65zm-194.82 6.62l7.6 12.65-7.6 12.65-7.6-12.65zm7.64 0l7.6 12.65-7.6 12.65-7.6-12.65zm76.4 0l7.6 12.65-7.6 12.65-7.6-12.65zm7.64 0l7.6 12.65-7.6 12.65-7.6-12.65zm7.64 0l7.6 12.65-7.6 12.65-7.6-12.65zm7.64 0l7.6 12.65-7.6 12.65-7.6-12.65zm7.64 0l7.6 12.65-7.6 12.65-7.6-12.65zm76.4 0l7.6 12.65-7.6 12.65-7.6-12.65zm7.64 0l7.6 12.65-7.6 12.65-7.6-12.65zm-202.46 6.62l7.6 12.65-7.6 12.65-7.6-12.65zm7.64 0l7.6 12.65-7.6 12.65-7.6-12.65zm68.76 0l7.6 12.65-7.6 12.65-7.6-12.65zm7.64 0l7.6 12.65-7.6 12.65-7.6-12.65zm7.64 0l7.6 12.65-7.6 12.65-7.6-12.65zm7.64 0l7.6 12.65-7.6 12.65-7.6-12.65zm7.64 0l7.6 12.65-7.6 12.65-7.6-12.65zm7.64 0l7.6 12.65-7.6 12.65-7.6-12.65zm7.64 0l7.6 12.65-7.6 12.65-7.6-12.65zm7.64 0l7.6 12.65-7.6 12.65-7.6-12.65zm68.76 0l7.6 12.65-7.6 12.65-7.6-12.65zm7.64 0l7.6 12.65-7.6 12.65-7.6-12.65zm-217.74 6.62l7.6 12.65-7.6 12.65-7.6-12.65zm7.64 0l7.6 12.65-7.6 12.65-7.6-12.65zm7.64 0l7.6 12.65-7.6 12.65-7.6-12.65zm61.12 0l7.6 12.65-7.6 12.65-7.6-12.65zm7.64 0l7.6 12.65-7.6 12.65-7.6-12.65zm7.64 0l7.6 12.65-7.6 12.65-7.6-12.65zm45.84 0l7.6 12.65-7.6 12.65-7.6-12.65zm7.64 0l7.6 12.65-7.6 12.65-7.6-12.65zm7.64 0l7.6 12.65-7.6 12.65-7.6-12.65zm61.12 0l7.6 12.65-7.6 12.65-7.6-12.65zm7.64 0l7.6 12.65-7.6 12.65-7.6-12.65zm7.64 0l7.6 12.65-7.6 12.65-7.6-12.65zm-233.02 6.62l7.6 12.65-7.6 12.65-7.6-12.65zm7.64 0l7.6 12.65-7.6 12.65-7.6-12.65zm7.64 0l7.6 12.65-7.6 12.65-7.6-12.65zm61.12 0l7.6 12.65-7.6 12.65-7.6-12.65zm7.64 0l7.6 12.65-7.6 12.65-7.6-12.65zm68.76 0l7.6 12.65-7.6 12.65-7.6-12.65zm7.64 0l7.6 12.65-7.6 12.65-7.6-12.65zm61.12 0l7.6 12.65-7.6 12.65-7.6-12.65zm7.64 0l7.6 12.65-7.6 12.65-7.6-12.65zm7.64 0l7.6 12.65-7.6 12.65-7.6-12.65zm-248.3 6.62l7.6 12.65-7.6 12.65-7.6-12.65zm7.64 0l7.6 12.65-7.6 12.65-7.6-12.65zm7.64 0l7.6 12.65-7.6 12.65-7.6-12.65zm7.64 0l7.6 12.65-7.6 12.65-7.6-12.65zm61.12 0l7.6 12.65-7.6 12.65-7.6-12.65zm7.64 0l7.6 12.65-7.6 12.65-7.6-12.65zm76.4 0l7.6 12.65-7.6 12.65-7.6-12.65zm7.64 0l7.6 12.65-7.6 12.65-7.6-12.65zm61.12 0l7.6 12.65-7.6 12.65-7.6-12.65zm7.64 0l7.6 12.65-7.6 12.65-7.6-12.65zm7.64 0l7.6 12.65-7.6 12.65-7.6-12.65zm7.64 0l7.6 12.65-7.6 12.65-7.6-12.65zm-286.5 6.62l7.6 12.65-7.6 12.65-7.6-12.65zm7.64 0l7.6 12.65-7.6 12.65-7.6-12.65zm7.64 0l7.6 12.65-7.6 12.65-7.6-12.65zm7.64 0l7.6 12.65-7.6 12.65-7.6-12.65zm7.64 0l7.6 12.65-7.6 12.65-7.6-12.65zm7.64 0l7.6 12.65-7.6 12.65-7.6-12.65zm68.76 0l7.6 12.65-7.6 12.65-7.6-12.65zm99.32 0l7.6 12.65-7.6 12.65-7.6-12.65zm68.76 0l7.6 12.65-7.6 12.65-7.6-12.65zm7.64 0l7.6 12.65-7.6 12.65-7.6-12.65zm7.64 0l7.6 12.65-7.6 12.65-7.6-12.65zm7.64 0l7.6 12.65-7.6 12.65-7.6-12.65zm7.64 0l7.6 12.65-7.6 12.65-7.6-12.65zm7.64 0l7.6 12.65-7.6 12.65-7.6-12.65zm-309.42 6.62l7.6 12.65-7.6 12.65-7.6-12.65zm7.64 0l7.6 12.65-7.6 12.65-7.6-12.65zm7.64 0l7.6 12.65-7.6 12.65-7.6-12.65zm7.64 0l7.6 12.65-7.6 12.65-7.6-12.65zm76.4 0l7.6 12.65-7.6 12.65-7.6-12.65zm106.96 0l7.6 12.65-7.6 12.65-7.6-12.65zm76.4 0l7.6 12.65-7.6 12.65-7.6-12.65zm7.64 0l7.6 12.65-7.6 12.65-7.6-12.65zm7.64 0l7.6 12.65-7.6 12.65-7.6-12.65zm7.64 0l7.6 12.65-7.6 12.65-7.6-12.65zm-309.42 6.62l7.6 12.65-7.6 12.65-7.6-12.65zm7.64 0l7.6 12.65-7.6 12.65-7.6-12.65zm91.68 0l7.6 12.65-7.6 12.65-7.6-12.65zm7.64 0l7.6 12.65-7.6 12.65-7.6-12.65zm99.32 0l7.6 12.65-7.6 12.65-7.6-12.65zm7.64 0l7.6 12.65-7.6 12.65-7.6-12.65zm91.68 0l7.6 12.65-7.6 12.65-7.6-12.65zm7.64 0l7.6 12.65-7.6 12.65-7.6-12.65zm-217.74 6.62l7.6 12.65-7.6 12.65-7.6-12.65zm7.64 0l7.6 12.65-7.6 12.65-7.6-12.65zm106.96 0l7.6 12.65-7.6 12.65-7.6-12.65zm7.64 0l7.6 12.65-7.6 12.65-7.6-12.65zm-118.42 6.62l7.6 12.65-7.6 12.65-7.6-12.65zm114.6 0l7.6 12.65-7.6 12.65-7.6-12.65zm-118.42 6.62l7.6 12.65-7.6 12.65-7.6-12.65zm7.64 0l7.6 12.65-7.6 12.65-7.6-12.65zm106.96 0l7.6 12.65-7.6 12.65-7.6-12.65zm7.64 0l7.6 12.65-7.6 12.65-7.6-12.65zm-217.74 6.62l7.6 12.65-7.6 12.65-7.6-12.65zm7.64 0l7.6 12.65-7.6 12.65-7.6-12.65zm91.68 0l7.6 12.65-7.6 12.65-7.6-12.65zm7.64 0l7.6 12.65-7.6 12.65-7.6-12.65zm99.32 0l7.6 12.65-7.6 12.65-7.6-12.65zm7.64 0l7.6 12.65-7.6 12.65-7.6-12.65zm91.68 0l7.6 12.65-7.6 12.65-7.6-12.65zm7.64 0l7.6 12.65-7.6 12.65-7.6-12.65zm-309.42 6.62l7.6 12.65-7.6 12.65-7.6-12.65zm7.64 0l7.6 12.65-7.6 12.65-7.6-12.65zm7.64 0l7.6 12.65-7.6 12.65-7.6-12.65zm7.64 0l7.6 12.65-7.6 12.65-7.6-12.65zm76.4 0l7.6 12.65-7.6 12.65-7.6-12.65zm106.96 0l7.6 12.65-7.6 12.65-7.6-12.65zm76.4 0l7.6 12.65-7.6 12.65-7.6-12.65zm7.64 0l7.6 12.65-7.6 12.65-7.6-12.65zm7.64 0l7.6 12.65-7.6 12.65-7.6-12.65zm7.64 0l7.6 12.65-7.6 12.65-7.6-12.65zm-309.42 6.62l7.6 12.65-7.6 12.65-7.6-12.65zm7.64 0l7.6 12.65-7.6 12.65-7.6-12.65zm7.64 0l7.6 12.65-7.6 12.65-7.6-12.65zm7.64 0l7.6 12.65-7.6 12.65-7.6-12.65zm7.64 0l7.6 12.65-7.6 12.65-7.6-12.65zm7.64 0l7.6 12.65-7.6 12.65-7.6-12.65zm68.76 0l7.6 12.65-7.6 12.65-7.6-12.65zm99.32 0l7.6 12.65-7.6 12.65-7.6-12.65zm68.76 0l7.6 12.65-7.6 12.65-7.6-12.65zm7.64 0l7.6 12.65-7.6 12.65-7.6-12.65zm7.64 0l7.6 12.65-7.6 12.65-7.6-12.65zm7.64 0l7.6 12.65-7.6 12.65-7.6-12.65zm7.64 0l7.6 12.65-7.6 12.65-7.6-12.65zm7.64 0l7.6 12.65-7.6 12.65-7.6-12.65zm-286.5 6.62l7.6 12.65-7.6 12.65-7.6-12.65zm7.64 0l7.6 12.65-7.6 12.65-7.6-12.65zm7.64 0l7.6 12.65-7.6 12.65-7.6-12.65zm7.64 0l7.6 12.65-7.6 12.65-7.6-12.65zm61.12 0l7.6 12.65-7.6 12.65-7.6-12.65zm7.64 0l7.6 12.65-7.6 12.65-7.6-12.65zm76.4 0l7.6 12.65-7.6 12.65-7.6-12.65zm7.64 0l7.6 12.65-7.6 12.65-7.6-12.65zm61.12 0l7.6 12.65-7.6 12.65-7.6-12.65zm7.64 0l7.6 12.65-7.6 12.65-7.6-12.65zm7.64 0l7.6 12.65-7.6 12.65-7.6-12.65zm7.64 0l7.6 12.65-7.6 12.65-7.6-12.65zm-248.3 6.62l7.6 12.65-7.6 12.65-7.6-12.65zm7.64 0l7.6 12.65-7.6 12.65-7.6-12.65zm7.64 0l7.6 12.65-7.6 12.65-7.6-12.65zm61.12 0l7.6 12.65-7.6 12.65-7.6-12.65zm7.64 0l7.6 12.65-7.6 12.65-7.6-12.65zm68.76 0l7.6 12.65-7.6 12.65-7.6-12.65zm7.64 0l7.6 12.65-7.6 12.65-7.6-12.65zm61.12 0l7.6 12.65-7.6 12.65-7.6-12.65zm7.64 0l7.6 12.65-7.6 12.65-7.6-12.65zm7.64 0l7.6 12.65-7.6 12.65-7.6-12.65zm-233.02 6.62l7.6 12.65-7.6 12.65-7.6-12.65zm7.64 0l7.6 12.65-7.6 12.65-7.6-12.65zm7.64 0l7.6 12.65-7.6 12.65-7.6-12.65zm61.12 0l7.6 12.65-7.6 12.65-7.6-12.65zm7.64 0l7.6 12.65-7.6 12.65-7.6-12.65zm7.64 0l7.6 12.65-7.6 12.65-7.6-12.65zm45.84 0l7.6 12.65-7.6 12.65-7.6-12.65zm7.64 0l7.6 12.65-7.6 12.65-7.6-12.65zm7.64 0l7.6 12.65-7.6 12.65-7.6-12.65zm61.12 0l7.6 12.65-7.6 12.65-7.6-12.65zm7.64 0l7.6 12.65-7.6 12.65-7.6-12.65zm7.64 0l7.6 12.65-7.6 12.65-7.6-12.65zm-217.74 6.62l7.6 12.65-7.6 12.65-7.6-12.65zm7.64 0l7.6 12.65-7.6 12.65-7.6-12.65zm68.76 0l7.6 12.65-7.6 12.65-7.6-12.65zm7.64 0l7.6 12.65-7.6 12.65-7.6-12.65zm7.64 0l7.6 12.65-7.6 12.65-7.6-12.65zm7.64 0l7.6 12.65-7.6 12.65-7.6-12.65zm7.64 0l7.6 12.65-7.6 12.65-7.6-12.65zm7.64 0l7.6 12.65-7.6 12.65-7.6-12.65zm7.64 0l7.6 12.65-7.6 12.65-7.6-12.65zm7.64 0l7.6 12.65-7.6 12.65-7.6-12.65zm68.76 0l7.6 12.65-7.6 12.65-7.6-12.65zm7.64 0l7.6 12.65-7.6 12.65-7.6-12.65zm-202.46 6.62l7.6 12.65-7.6 12.65-7.6-12.65zm7.64 0l7.6 12.65-7.6 12.65-7.6-12.65zm76.4 0l7.6 12.65-7.6 12.65-7.6-12.65zm7.64 0l7.6 12.65-7.6 12.65-7.6-12.65zm7.64 0l7.6 12.65-7.6 12.65-7.6-12.65zm7.64 0l7.6 12.65-7.6 12.65-7.6-12.65zm7.64 0l7.6 12.65-7.6 12.65-7.6-12.65zm76.4 0l7.6 12.65-7.6 12.65-7.6-12.65zm7.64 0l7.6 12.65-7.6 12.65-7.6-12.65zm-194.82 6.62l7.6 12.65-7.6 12.65-7.6-12.65zm7.64 0l7.6 12.65-7.6 12.65-7.6-12.65zm175.72 0l7.6 12.65-7.6 12.65-7.6-12.65zm7.64 0l7.6 12.65-7.6 12.65-7.6-12.65zm-187.18 6.62l7.6 12.65-7.6 12.65-7.6-12.65zm7.64 0l7.6 12.65-7.6 12.65-7.6-12.65zm168.08 0l7.6 12.65-7.6 12.65-7.6-12.65zm7.64 0l7.6 12.65-7.6 12.65-7.6-12.65zm-187.18 6.62l7.6 12.65-7.6 12.65-7.6-12.65zm7.64 0l7.6 12.65-7.6 12.65-7.6-12.65zm175.72 0l7.6 12.65-7.6 12.65-7.6-12.65zm7.64 0l7.6 12.65-7.6 12.65-7.6-12.65zm-187.18 6.62l7.6 12.65-7.6 12.65-7.6-12.65zm7.64 0l7.6 12.65-7.6 12.65-7.6-12.65zm168.08 0l7.6 12.65-7.6 12.65-7.6-12.65zm7.64 0l7.6 12.65-7.6 12.65-7.6-12.65zm-187.18 6.62l7.6 12.65-7.6 12.65-7.6-12.65zm7.64 0l7.6 12.65-7.6 12.65-7.6-12.65zm7.64 0l7.6 12.65-7.6 12.65-7.6-12.65zm160.44 0l7.6 12.65-7.6 12.65-7.6-12.65zm7.64 0l7.6 12.65-7.6 12.65-7.6-12.65zm7.64 0l7.6 12.65-7.6 12.65-7.6-12.65zm-187.18 6.62l7.6 12.65-7.6 12.65-7.6-12.65zm7.64 0l7.6 12.65-7.6 12.65-7.6-12.65zm168.08 0l7.6 12.65-7.6 12.65-7.6-12.65zm7.64 0l7.6 12.65-7.6 12.65-7.6-12.65zm-187.18 6.62l7.6 12.65-7.6 12.65-7.6-12.65zm7.64 0l7.6 12.65-7.6 12.65-7.6-12.65zm76.4 0l7.6 12.65-7.6 12.65-7.6-12.65zm7.64 0l7.6 12.65-7.6 12.65-7.6-12.65zm7.64 0l7.6 12.65-7.6 12.65-7.6-12.65zm7.64 0l7.6 12.65-7.6 12.65-7.6-12.65zm76.4 0l7.6 12.65-7.6 12.65-7.6-12.65zm7.64 0l7.6 12.65-7.6 12.65-7.6-12.65zm-194.82 6.62l7.6 12.65-7.6 12.65-7.6-12.65zm7.64 0l7.6 12.65-7.6 12.65-7.6-12.65zm7.64 0l7.6 12.65-7.6 12.65-7.6-12.65zm53.48 0l7.6 12.65-7.6 12.65-7.6-12.65zm7.64 0l7.6 12.65-7.6 12.65-7.6-12.65zm7.64 0l7.6 12.65-7.6 12.65-7.6-12.65zm7.64 0l7.6 12.65-7.6 12.65-7.6-12.65zm7.64 0l7.6 12.65-7.6 12.65-7.6-12.65zm7.64 0l7.6 12.65-7.6 12.65-7.6-12.65zm7.64 0l7.6 12.65-7.6 12.65-7.6-12.65zm7.64 0l7.6 12.65-7.6 12.65-7.6-12.65zm7.64 0l7.6 12.65-7.6 12.65-7.6-12.65zm53.48 0l7.6 12.65-7.6 12.65-7.6-12.65zm7.64 0l7.6 12.65-7.6 12.65-7.6-12.65zm7.64 0l7.6 12.65-7.6 12.65-7.6-12.65zm-194.82 6.62l7.6 12.65-7.6 12.65-7.6-12.65zm7.64 0l7.6 12.65-7.6 12.65-7.6-12.65zm45.84 0l7.6 12.65-7.6 12.65-7.6-12.65zm7.64 0l7.6 12.65-7.6 12.65-7.6-12.65zm7.64 0l7.6 12.65-7.6 12.65-7.6-12.65zm7.64 0l7.6 12.65-7.6 12.65-7.6-12.65zm7.64 0l7.6 12.65-7.6 12.65-7.6-12.65zm7.64 0l7.6 12.65-7.6 12.65-7.6-12.65zm7.64 0l7.6 12.65-7.6 12.65-7.6-12.65zm7.64 0l7.6 12.65-7.6 12.65-7.6-12.65zm7.64 0l7.6 12.65-7.6 12.65-7.6-12.65zm7.64 0l7.6 12.65-7.6 12.65-7.6-12.65zm7.64 0l7.6 12.65-7.6 12.65-7.6-12.65zm7.64 0l7.6 12.65-7.6 12.65-7.6-12.65zm45.84 0l7.6 12.65-7.6 12.65-7.6-12.65zm7.64 0l7.6 12.65-7.6 12.65-7.6-12.65zm-187.18 6.62l7.6 12.65-7.6 12.65-7.6-12.65zm38.2 0l7.6 12.65-7.6 12.65-7.6-12.65zm7.64 0l7.6 12.65-7.6 12.65-7.6-12.65zm7.64 0l7.6 12.65-7.6 12.65-7.6-12.65zm7.64 0l7.6 12.65-7.6 12.65-7.6-12.65zm61.12 0l7.6 12.65-7.6 12.65-7.6-12.65zm7.64 0l7.6 12.65-7.6 12.65-7.6-12.65zm7.64 0l7.6 12.65-7.6 12.65-7.6-12.65zm7.64 0l7.6 12.65-7.6 12.65-7.6-12.65zm38.2 0l7.6 12.65-7.6 12.65-7.6-12.65zm-148.98 6.62l7.6 12.65-7.6 12.65-7.6-12.65zm7.64 0l7.6 12.65-7.6 12.65-7.6-12.65zm7.64 0l7.6 12.65-7.6 12.65-7.6-12.65zm84.04 0l7.6 12.65-7.6 12.65-7.6-12.65zm7.64 0l7.6 12.65-7.6 12.65-7.6-12.65zm7.64 0l7.6 12.65-7.6 12.65-7.6-12.65zm-118.42 6.62l7.6 12.65-7.6 12.65-7.6-12.65zm7.64 0l7.6 12.65-7.6 12.65-7.6-12.65zm7.64 0l7.6 12.65-7.6 12.65-7.6-12.65zm91.68 0l7.6 12.65-7.6 12.65-7.6-12.65zm7.64 0l7.6 12.65-7.6 12.65-7.6-12.65zm7.64 0l7.6 12.65-7.6 12.65-7.6-12.65zm-118.42 6.62l7.6 12.65-7.6 12.65-7.6-12.65zm7.64 0l7.6 12.65-7.6 12.65-7.6-12.65zm99.32 0l7.6 12.65-7.6 12.65-7.6-12.65zm7.64 0l7.6 12.65-7.6 12.65-7.6-12.65z"/><path fill="#a00a18" d="M604.21 577.77l7.6 12.65-7.6 12.65-7.6-12.65zm91.68 0l7.6 12.65-7.6 12.65-7.6-12.65zm-87.86 6.62l7.6 12.65-7.6 12.65-7.6-12.65zm84.04 0l7.6 12.65-7.6 12.65-7.6-12.65zm-80.22 6.62l7.6 12.65-7.6 12.65-7.6-12.65zm7.64 0l7.6 12.65-7.6 12.65-7.6-12.65zm61.12 0l7.6 12.65-7.6 12.65-7.6-12.65zm7.64 0l7.6 12.65-7.6 12.65-7.6-12.65zm-72.58 6.62l7.6 12.65-7.6 12.65-7.6-12.65zm7.64 0l7.6 12.65-7.6 12.65-7.6-12.65zm7.64 0l7.6 12.65-7.6 12.65-7.6-12.65zm38.2 0l7.6 12.65-7.6 12.65-7.6-12.65zm7.64 0l7.6 12.65-7.6 12.65-7.6-12.65zm7.64 0l7.6 12.65-7.6 12.65-7.6-12.65zm-57.3 6.62l7.6 12.65-7.6 12.65-7.6-12.65zm7.64 0l7.6 12.65-7.6 12.65-7.6-12.65zm7.64 0l7.6 12.65-7.6 12.65-7.6-12.65zm7.64 0l7.6 12.65-7.6 12.65-7.6-12.65zm7.64 0l7.6 12.65-7.6 12.65-7.6-12.65zm7.64 0l7.6 12.65-7.6 12.65-7.6-12.65zm7.64 0l7.6 12.65-7.6 12.65-7.6-12.65zm-126.06 6.62l7.6 12.65-7.6 12.65-7.6-12.65zm206.28 0l7.6 12.65-7.6 12.65-7.6-12.65zm-210.1 6.62l7.6 12.65-7.6 12.65-7.6-12.65zm213.92 0l7.6 12.65-7.6 12.65-7.6-12.65zm-210.1 6.62l7.6 12.65-7.6 12.65-7.6-12.65zm206.28 0l7.6 12.65-7.6 12.65-7.6-12.65zm-202.46 6.62l7.6 12.65-7.6 12.65-7.6-12.65zm198.64 0l7.6 12.65-7.6 12.65-7.6-12.65zm-202.46 6.62l7.6 12.65-7.6 12.65-7.6-12.65zm206.28 0l7.6 12.65-7.6 12.65-7.6-12.65zm-202.46 6.62l7.6 12.65-7.6 12.65-7.6-12.65zm198.64 0l7.6 12.65-7.6 12.65-7.6-12.65zm-202.46 6.62l7.6 12.65-7.6 12.65-7.6-12.65zm206.28 0l7.6 12.65-7.6 12.65-7.6-12.65zm-210.1 6.62l7.6 12.65-7.6 12.65-7.6-12.65zm7.64 0l7.6 12.65-7.6 12.65-7.6-12.65zm198.64 0l7.6 12.65-7.6 12.65-7.6-12.65zm7.64 0l7.6 12.65-7.6 12.65-7.6-12.65zm-217.74 6.62l7.6 12.65-7.6 12.65-7.6-12.65zm7.64 0l7.6 12.65-7.6 12.65-7.6-12.65zm206.28 0l7.6 12.65-7.6 12.65-7.6-12.65zm7.64 0l7.6 12.65-7.6 12.65-7.6-12.65zm-225.38 6.62l7.6 12.65-7.6 12.65-7.6-12.65zm7.64 0l7.6 12.65-7.6 12.65-7.6-12.65zm213.92 0l7.6 12.65-7.6 12.65-7.6-12.65zm7.64 0l7.6 12.65-7.6 12.65-7.6-12.65zm-233.02 6.62l7.6 12.65-7.6 12.65-7.6-12.65zm7.64 0l7.6 12.65-7.6 12.65-7.6-12.65zm221.56 0l7.6 12.65-7.6 12.65-7.6-12.65zm7.64 0l7.6 12.65-7.6 12.65-7.6-12.65zm-248.3 6.62l7.6 12.65-7.6 12.65-7.6-12.65zm7.64 0l7.6 12.65-7.6 12.65-7.6-12.65zm106.96 0l7.6 12.65-7.6 12.65-7.6-12.65zm7.64 0l7.6 12.65-7.6 12.65-7.6-12.65zm7.64 0l7.6 12.65-7.6 12.65-7.6-12.65zm7.64 0l7.6 12.65-7.6 12.65-7.6-12.65zm7.64 0l7.6 12.65-7.6 12.65-7.6-12.65zm106.96 0l7.6 12.65-7.6 12.65-7.6-12.65zm7.64 0l7.6 12.65-7.6 12.65-7.6-12.65zm-286.5 6.62l7.6 12.65-7.6 12.65-7.6-12.65zm7.64 0l7.6 12.65-7.6 12.65-7.6-12.65zm7.64 0l7.6 12.65-7.6 12.65-7.6-12.65zm7.64 0l7.6 12.65-7.6 12.65-7.6-12.65zm7.64 0l7.6 12.65-7.6 12.65-7.6-12.65zm99.32 0l7.6 12.65-7.6 12.65-7.6-12.65zm7.64 0l7.6 12.65-7.6 12.65-7.6-12.65zm38.2 0l7.6 12.65-7.6 12.65-7.6-12.65zm7.64 0l7.6 12.65-7.6 12.65-7.6-12.65zm99.32 0l7.6 12.65-7.6 12.65-7.6-12.65zm7.64 0l7.6 12.65-7.6 12.65-7.6-12.65zm7.64 0l7.6 12.65-7.6 12.65-7.6-12.65zm7.64 0l7.6 12.65-7.6 12.65-7.6-12.65zm7.64 0l7.6 12.65-7.6 12.65-7.6-12.65zm-309.42 6.62l7.6 12.65-7.6 12.65-7.6-12.65zm7.64 0l7.6 12.65-7.6 12.65-7.6-12.65zm7.64 0l7.6 12.65-7.6 12.65-7.6-12.65zm106.96 0l7.6 12.65-7.6 12.65-7.6-12.65zm61.12 0l7.6 12.65-7.6 12.65-7.6-12.65zm106.96 0l7.6 12.65-7.6 12.65-7.6-12.65zm7.64 0l7.6 12.65-7.6 12.65-7.6-12.65zm7.64 0l7.6 12.65-7.6 12.65-7.6-12.65zm-194.82 6.62l7.6 12.65-7.6 12.65-7.6-12.65zm7.64 0l7.6 12.65-7.6 12.65-7.6-12.65zm68.76 0l7.6 12.65-7.6 12.65-7.6-12.65zm7.64 0l7.6 12.65-7.6 12.65-7.6-12.65zm-87.86 6.62l7.6 12.65-7.6 12.65-7.6-12.65zm7.64 0l7.6 12.65-7.6 12.65-7.6-12.65zm76.4 0l7.6 12.65-7.6 12.65-7.6-12.65zm7.64 0l7.6 12.65-7.6 12.65-7.6-12.65zm-87.86 6.62l7.6 12.65-7.6 12.65-7.6-12.65zm84.04 0l7.6 12.65-7.6 12.65-7.6-12.65zm-87.86 6.62l7.6 12.65-7.6 12.65-7.6-12.65zm91.68 0l7.6 12.65-7.6 12.65-7.6-12.65zm-95.5 6.62l7.6 12.65-7.6 12.65-7.6-12.65zm99.32 0l7.6 12.65-7.6 12.65-7.6-12.65zm-95.5 6.62l7.6 12.65-7.6 12.65-7.6-12.65zm91.68 0l7.6 12.65-7.6 12.65-7.6-12.65zm-87.86 6.62l7.6 12.65-7.6 12.65-7.6-12.65zm84.04 0l7.6 12.65-7.6 12.65-7.6-12.65zm-87.86 6.62l7.6 12.65-7.6 12.65-7.6-12.65zm7.64 0l7.6 12.65-7.6 12.65-7.6-12.65zm76.4 0l7.6 12.65-7.6 12.65-7.6-12.65zm7.64 0l7.6 12.65-7.6 12.65-7.6-12.65zm-87.86 6.62l7.6 12.65-7.6 12.65-7.6-12.65zm7.64 0l7.6 12.65-7.6 12.65-7.6-12.65zm68.76 0l7.6 12.65-7.6 12.65-7.6-12.65zm7.64 0l7.6 12.65-7.6 12.65-7.6-12.65zm-194.82 6.62l7.6 12.65-7.6 12.65-7.6-12.65zm7.64 0l7.6 12.65-7.6 12.65-7.6-12.65zm7.64 0l7.6 12.65-7.6 12.65-7.6-12.65zm106.96 0l7.6 12.65-7.6 12.65-7.6-12.65zm61.12 0l7.6 12.65-7.6 12.65-7.6-12.65zm106.96 0l7.6 12.65-7.6 12.65-7.6-12.65zm7.64 0l7.6 12.65-7.6 12.65-7.6-12.65zm7.64 0l7.6 12.65-7.6 12.65-7.6-12.65zm-309.42 6.62l7.6 12.65-7.6 12.65-7.6-12.65zm7.64 0l7.6 12.65-7.6 12.65-7.6-12.65zm7.64 0l7.6 12.65-7.6 12.65-7.6-12.65zm7.64 0l7.6 12.65-7.6 12.65-7.6-12.65zm7.64 0l7.6 12.65-7.6 12.65-7.6-12.65zm99.32 0l7.6 12.65-7.6 12.65-7.6-12.65zm7.64 0l7.6 12.65-7.6 12.65-7.6-12.65zm38.2 0l7.6 12.65-7.6 12.65-7.6-12.65zm7.64 0l7.6 12.65-7.6 12.65-7.6-12.65zm99.32 0l7.6 12.65-7.6 12.65-7.6-12.65zm7.64 0l7.6 12.65-7.6 12.65-7.6-12.65zm7.64 0l7.6 12.65-7.6 12.65-7.6-12.65zm7.64 0l7.6 12.65-7.6 12.65-7.6-12.65zm7.64 0l7.6 12.65-7.6 12.65-7.6-12.65zm-286.5 6.62l7.6 12.65-7.6 12.65-7.6-12.65zm7.64 0l7.6 12.65-7.6 12.65-7.6-12.65zm106.96 0l7.6 12.65-7.6 12.65-7.6-12.65zm7.64 0l7.6 12.65-7.6 12.65-7.6-12.65zm7.64 0l7.6 12.65-7.6 12.65-7.6-12.65zm7.64 0l7.6 12.65-7.6 12.65-7.6-12.65zm7.64 0l7.6 12.65-7.6 12.65-7.6-12.65zm106.96 0l7.6 12.65-7.6 12.65-7.6-12.65zm7.64 0l7.6 12.65-7.6 12.65-7.6-12.65zm-248.3 6.62l7.6 12.65-7.6 12.65-7.6-12.65zm7.64 0l7.6 12.65-7.6 12.65-7.6-12.65zm221.56 0l7.6 12.65-7.6 12.65-7.6-12.65zm7.64 0l7.6 12.65-7.6 12.65-7.6-12.65zm-233.02 6.62l7.6 12.65-7.6 12.65-7.6-12.65zm7.64 0l7.6 12.65-7.6 12.65-7.6-12.65zm213.92 0l7.6 12.65-7.6 12.65-7.6-12.65zm7.64 0l7.6 12.65-7.6 12.65-7.6-12.65zm-225.38 6.62l7.6 12.65-7.6 12.65-7.6-12.65zm7.64 0l7.6 12.65-7.6 12.65-7.6-12.65zm206.28 0l7.6 12.65-7.6 12.65-7.6-12.65zm7.64 0l7.6 12.65-7.6 12.65-7.6-12.65zm-217.74 6.62l7.6 12.65-7.6 12.65-7.6-12.65zm7.64 0l7.6 12.65-7.6 12.65-7.6-12.65zm198.64 0l7.6 12.65-7.6 12.65-7.6-12.65zm7.64 0l7.6 12.65-7.6 12.65-7.6-12.65zm-210.1 6.62l7.6 12.65-7.6 12.65-7.6-12.65zm206.28 0l7.6 12.65-7.6 12.65-7.6-12.65zm-202.46 6.62l7.6 12.65-7.6 12.65-7.6-12.65zm198.64 0l7.6 12.65-7.6 12.65-7.6-12.65zm-202.46 6.62l7.6 12.65-7.6 12.65-7.6-12.65zm206.28 0l7.6 12.65-7.6 12.65-7.6-12.65zm-202.46 6.62l7.6 12.65-7.6 12.65-7.6-12.65zm198.64 0l7.6 12.65-7.6 12.65-7.6-12.65zm-202.46 6.62l7.6 12.65-7.6 12.65-7.6-12.65zm206.28 0l7.6 12.65-7.6 12.65-7.6-12.65zm-210.1 6.62l7.6 12.65-7.6 12.65-7.6-12.65zm213.92 0l7.6 12.65-7.6 12.65-7.6-12.65zm-210.1 6.62l7.6 12.65-7.6 12.65-7.6-12.65zm206.28 0l7.6 12.65-7.6 12.65-7.6-12.65zm-126.06 6.62l7.6 12.65-7.6 12.65-7.6-12.65zm7.64 0l7.6 12.65-7.6 12.65-7.6-12.65zm7.64 0l7.6 12.65-7.6 12.65-7.6-12.65zm7.64 0l7.6 12.65-7.6 12.65-7.6-12.65zm7.64 0l7.6 12.65-7.6 12.65-7.6-12.65zm7.64 0l7.6 12.65-7.6 12.65-7.6-12.65zm7.64 0l7.6 12.65-7.6 12.65-7.6-12.65zm-57.3 6.62l7.6 12.65-7.6 12.65-7.6-12.65zm7.64 0l7.6 12.65-7.6 12.65-7.6-12.65zm7.64 0l7.6 12.65-7.6 12.65-7.6-12.65zm38.2 0l7.6 12.65-7.6 12.65-7.6-12.65zm7.64 0l7.6 12.65-7.6 12.65-7.6-12.65zm7.64 0l7.6 12.65-7.6 12.65-7.6-12.65zm-72.58 6.62l7.6 12.65-7.6 12.65-7.6-12.65zm7.64 0l7.6 12.65-7.6 12.65-7.6-12.65zm61.12 0l7.6 12.65-7.6 12.65-7.6-12.65zm7.64 0l7.6 12.65-7.6 12.65-7.6-12.65zm-80.22 6.62l7.6 12.65-7.6 12.65-7.6-12.65zm84.04 0l7.6 12.65-7.6 12.65-7.6-12.65zm-87.86 6.62l7.6 12.65-7.6 12.65-7.6-12.65zm91.68 0l7.6 12.65-7.6 12.65-7.6-12.65z"/><path fill="#990815" d="M611.85 577.77l7.6 12.65-7.6 12.65-7.6-12.65zm76.4 0l7.6 12.65-7.6 12.65-7.6-12.65zm-72.58 6.62l7.6 12.65-7.6 12.65-7.6-12.65zm7.64 0l7.6 12.65-7.6 12.65-7.6-12.65zm53.48 0l7.6 12.65-7.6 12.65-7.6-12.65zm7.64 0l7.6 12.65-7.6 12.65-7.6-12.65zm-57.3 6.62l7.6 12.65-7.6 12.65-7.6-12.65zm7.64 0l7.6 12.65-7.6 12.65-7.6-12.65zm7.64 0l7.6 12.65-7.6 12.65-7.6-12.65zm15.28 0l7.6 12.65-7.6 12.65-7.6-12.65zm7.64 0l7.6 12.65-7.6 12.65-7.6-12.65zm7.64 0l7.6 12.65-7.6 12.65-7.6-12.65zm-34.38 6.62l7.6 12.65-7.6 12.65-7.6-12.65zm7.64 0l7.6 12.65-7.6 12.65-7.6-12.65zm7.64 0l7.6 12.65-7.6 12.65-7.6-12.65zm7.64 0l7.6 12.65-7.6 12.65-7.6-12.65zm-126.06 19.85l7.6 12.65-7.6 12.65-7.6-12.65zm229.2 0l7.6 12.65-7.6 12.65-7.6-12.65zm-225.38 6.62l7.6 12.65-7.6 12.65-7.6-12.65zm221.56 0l7.6 12.65-7.6 12.65-7.6-12.65zm-225.38 6.62l7.6 12.65-7.6 12.65-7.6-12.65zm7.64 0l7.6 12.65-7.6 12.65-7.6-12.65zm213.92 0l7.6 12.65-7.6 12.65-7.6-12.65zm7.64 0l7.6 12.65-7.6 12.65-7.6-12.65zm-225.38 6.62l7.6 12.65-7.6 12.65-7.6-12.65zm221.56 0l7.6 12.65-7.6 12.65-7.6-12.65zm-225.38 6.62l7.6 12.65-7.6 12.65-7.6-12.65zm7.64 0l7.6 12.65-7.6 12.65-7.6-12.65zm213.92 0l7.6 12.65-7.6 12.65-7.6-12.65zm7.64 0l7.6 12.65-7.6 12.65-7.6-12.65zm-225.38 6.62l7.6 12.65-7.6 12.65-7.6-12.65zm221.56 0l7.6 12.65-7.6 12.65-7.6-12.65zm-225.38 6.62l7.6 12.65-7.6 12.65-7.6-12.65zm229.2 0l7.6 12.65-7.6 12.65-7.6-12.65zm-233.02 6.62l7.6 12.65-7.6 12.65-7.6-12.65zm236.84 0l7.6 12.65-7.6 12.65-7.6-12.65zm-240.66 6.62l7.6 12.65-7.6 12.65-7.6-12.65zm244.48 0l7.6 12.65-7.6 12.65-7.6-12.65zm-255.94 6.62l7.6 12.65-7.6 12.65-7.6-12.65zm7.64 0l7.6 12.65-7.6 12.65-7.6-12.65zm252.12 0l7.6 12.65-7.6 12.65-7.6-12.65zm7.64 0l7.6 12.65-7.6 12.65-7.6-12.65zm-286.5 6.62l7.6 12.65-7.6 12.65-7.6-12.65zm7.64 0l7.6 12.65-7.6 12.65-7.6-12.65zm7.64 0l7.6 12.65-7.6 12.65-7.6-12.65zm275.04 0l7.6 12.65-7.6 12.65-7.6-12.65zm7.64 0l7.6 12.65-7.6 12.65-7.6-12.65zm7.64 0l7.6 12.65-7.6 12.65-7.6-12.65zm-164.26 6.62l7.6 12.65-7.6 12.65-7.6-12.65zm7.64 0l7.6 12.65-7.6 12.65-7.6-12.65zm7.64 0l7.6 12.65-7.6 12.65-7.6-12.65zm7.64 0l7.6 12.65-7.6 12.65-7.6-12.65zm-34.38 6.62l7.6 12.65-7.6 12.65-7.6-12.65zm7.64 0l7.6 12.65-7.6 12.65-7.6-12.65zm30.56 0l7.6 12.65-7.6 12.65-7.6-12.65zm7.64 0l7.6 12.65-7.6 12.65-7.6-12.65zm-49.66 6.62l7.6 12.65-7.6 12.65-7.6-12.65zm53.48 0l7.6 12.65-7.6 12.65-7.6-12.65zm-57.3 6.62l7.6 12.65-7.6 12.65-7.6-12.65zm61.12 0l7.6 12.65-7.6 12.65-7.6-12.65zm-64.94 6.62l7.6 12.65-7.6 12.65-7.6-12.65zm68.76 0l7.6 12.65-7.6 12.65-7.6-12.65zm-72.58 6.62l7.6 12.65-7.6 12.65-7.6-12.65zm76.4 0l7.6 12.65-7.6 12.65-7.6-12.65zm-80.22 6.62l7.6 12.65-7.6 12.65-7.6-12.65zm84.04 0l7.6 12.65-7.6 12.65-7.6-12.65zm-80.22 6.62l7.6 12.65-7.6 12.65-7.6-12.65zm76.4 0l7.6 12.65-7.6 12.65-7.6-12.65zm-72.58 6.62l7.6 12.65-7.6 12.65-7.6-12.65zm68.76 0l7.6 12.65-7.6 12.65-7.6-12.65zm-64.94 6.62l7.6 12.65-7.6 12.65-7.6-12.65zm61.12 0l7.6 12.65-7.6 12.65-7.6-12.65zm-57.3 6.62l7.6 12.65-7.6 12.65-7.6-12.65zm53.48 0l7.6 12.65-7.6 12.65-7.6-12.65zm-49.66 6.62l7.6 12.65-7.6 12.65-7.6-12.65zm7.64 0l7.6 12.65-7.6 12.65-7.6-12.65zm30.56 0l7.6 12.65-7.6 12.65-7.6-12.65zm7.64 0l7.6 12.65-7.6 12.65-7.6-12.65zm-34.38 6.62l7.6 12.65-7.6 12.65-7.6-12.65zm7.64 0l7.6 12.65-7.6 12.65-7.6-12.65zm7.64 0l7.6 12.65-7.6 12.65-7.6-12.65zm7.64 0l7.6 12.65-7.6 12.65-7.6-12.65zm-164.26 6.62l7.6 12.65-7.6 12.65-7.6-12.65zm7.64 0l7.6 12.65-7.6 12.65-7.6-12.65zm7.64 0l7.6 12.65-7.6 12.65-7.6-12.65zm275.04 0l7.6 12.65-7.6 12.65-7.6-12.65zm7.64 0l7.6 12.65-7.6 12.65-7.6-12.65zm7.64 0l7.6 12.65-7.6 12.65-7.6-12.65zm-286.5 6.62l7.6 12.65-7.6 12.65-7.6-12.65zm7.64 0l7.6 12.65-7.6 12.65-7.6-12.65zm252.12 0l7.6 12.65-7.6 12.65-7.6-12.65zm7.64 0l7.6 12.65-7.6 12.65-7.6-12.65zm-255.94 6.62l7.6 12.65-7.6 12.65-7.6-12.65zm244.48 0l7.6 12.65-7.6 12.65-7.6-12.65zm-240.66 6.62l7.6 12.65-7.6 12.65-7.6-12.65zm236.84 0l7.6 12.65-7.6 12.65-7.6-12.65zm-233.02 6.62l7.6 12.65-7.6 12.65-7.6-12.65zm229.2 0l7.6 12.65-7.6 12.65-7.6-12.65zm-225.38 6.62l7.6 12.65-7.6 12.65-7.6-12.65zm221.56 0l7.6 12.65-7.6 12.65-7.6-12.65zm-225.38 6.62l7.6 12.65-7.6 12.65-7.6-12.65zm7.64 0l7.6 12.65-7.6 12.65-7.6-12.65zm213.92 0l7.6 12.65-7.6 12.65-7.6-12.65zm7.64 0l7.6 12.65-7.6 12.65-7.6-12.65zm-225.38 6.62l7.6 12.65-7.6 12.65-7.6-12.65zm221.56 0l7.6 12.65-7.6 12.65-7.6-12.65zm-225.38 6.62l7.6 12.65-7.6 12.65-7.6-12.65zm7.64 0l7.6 12.65-7.6 12.65-7.6-12.65zm213.92 0l7.6 12.65-7.6 12.65-7.6-12.65zm7.64 0l7.6 12.65-7.6 12.65-7.6-12.65zm-225.38 6.62l7.6 12.65-7.6 12.65-7.6-12.65zm221.56 0l7.6 12.65-7.6 12.65-7.6-12.65zm-225.38 6.62l7.6 12.65-7.6 12.65-7.6-12.65zm229.2 0l7.6 12.65-7.6 12.65-7.6-12.65zm-126.06 19.85l7.6 12.65-7.6 12.65-7.6-12.65zm7.64 0l7.6 12.65-7.6 12.65-7.6-12.65zm7.64 0l7.6 12.65-7.6 12.65-7.6-12.65zm7.64 0l7.6 12.65-7.6 12.65-7.6-12.65zm-34.38 6.62l7.6 12.65-7.6 12.65-7.6-12.65zm7.64 0l7.6 12.65-7.6 12.65-7.6-12.65zm7.64 0l7.6 12.65-7.6 12.65-7.6-12.65zm15.28 0l7.6 12.65-7.6 12.65-7.6-12.65zm7.64 0l7.6 12.65-7.6 12.65-7.6-12.65zm7.64 0l7.6 12.65-7.6 12.65-7.6-12.65zm-57.3 6.62l7.6 12.65-7.6 12.65-7.6-12.65zm7.64 0l7.6 12.65-7.6 12.65-7.6-12.65zm53.48 0l7.6 12.65-7.6 12.65-7.6-12.65zm7.64 0l7.6 12.65-7.6 12.65-7.6-12.65zm-72.58 6.62l7.6 12.65-7.6 12.65-7.6-12.65zm76.4 0l7.6 12.65-7.6 12.65-7.6-12.65z"/><path fill="#930613" d="M615.67 571.16l7.6 12.65-7.6 12.65-7.6-12.65zm7.64 0l7.6 12.65-7.6 12.65-7.6-12.65zm53.48 0l7.6 12.65-7.6 12.65-7.6-12.65zm7.64 0l7.6 12.65-7.6 12.65-7.6-12.65zm-64.94 6.62l7.6 12.65-7.6 12.65-7.6-12.65zm7.64 0l7.6 12.65-7.6 12.65-7.6-12.65zm45.84 0l7.6 12.65-7.6 12.65-7.6-12.65zm7.64 0l7.6 12.65-7.6 12.65-7.6-12.65zm-49.66 6.62l7.6 12.65-7.6 12.65-7.6-12.65zm7.64 0l7.6 12.65-7.6 12.65-7.6-12.65zm7.64 0l7.6 12.65-7.6 12.65-7.6-12.65zm7.64 0l7.6 12.65-7.6 12.65-7.6-12.65zm7.64 0l7.6 12.65-7.6 12.65-7.6-12.65zm7.64 0l7.6 12.65-7.6 12.65-7.6-12.65zm-19.1 6.62l7.6 12.65-7.6 12.65-7.6-12.65zm-126.06 33.08l7.6 12.65-7.6 12.65-7.6-12.65zm7.64 0l7.6 12.65-7.6 12.65-7.6-12.65zm236.84 0l7.6 12.65-7.6 12.65-7.6-12.65zm7.64 0l7.6 12.65-7.6 12.65-7.6-12.65zm-248.3 6.62l7.6 12.65-7.6 12.65-7.6-12.65zm244.48 0l7.6 12.65-7.6 12.65-7.6-12.65zm-240.66 6.62l7.6 12.65-7.6 12.65-7.6-12.65zm236.84 0l7.6 12.65-7.6 12.65-7.6-12.65zm-240.66 6.62l7.6 12.65-7.6 12.65-7.6-12.65zm244.48 0l7.6 12.65-7.6 12.65-7.6-12.65zm-240.66 6.62l7.6 12.65-7.6 12.65-7.6-12.65zm236.84 0l7.6 12.65-7.6 12.65-7.6-12.65zm-240.66 6.62l7.6 12.65-7.6 12.65-7.6-12.65zm244.48 0l7.6 12.65-7.6 12.65-7.6-12.65zm-248.3 6.62l7.6 12.65-7.6 12.65-7.6-12.65zm252.12 0l7.6 12.65-7.6 12.65-7.6-12.65zm-263.58 6.62l7.6 12.65-7.6 12.65-7.6-12.65zm7.64 0l7.6 12.65-7.6 12.65-7.6-12.65zm259.76 0l7.6 12.65-7.6 12.65-7.6-12.65zm7.64 0l7.6 12.65-7.6 12.65-7.6-12.65zm-294.14 6.62l7.6 12.65-7.6 12.65-7.6-12.65zm7.64 0l7.6 12.65-7.6 12.65-7.6-12.65zm7.64 0l7.6 12.65-7.6 12.65-7.6-12.65zm282.68 0l7.6 12.65-7.6 12.65-7.6-12.65zm7.64 0l7.6 12.65-7.6 12.65-7.6-12.65zm7.64 0l7.6 12.65-7.6 12.65-7.6-12.65zm-164.26 19.85l7.6 12.65-7.6 12.65-7.6-12.65zm7.64 0l7.6 12.65-7.6 12.65-7.6-12.65zm7.64 0l7.6 12.65-7.6 12.65-7.6-12.65zm-26.74 6.62l7.6 12.65-7.6 12.65-7.6-12.65zm38.2 0l7.6 12.65-7.6 12.65-7.6-12.65zm-49.66 19.85l7.6 12.65-7.6 12.65-7.6-12.65zm61.12 0l7.6 12.65-7.6 12.65-7.6-12.65zm-64.94 6.62l7.6 12.65-7.6 12.65-7.6-12.65zm68.76 0l7.6 12.65-7.6 12.65-7.6-12.65zm-64.94 6.62l7.6 12.65-7.6 12.65-7.6-12.65zm61.12 0l7.6 12.65-7.6 12.65-7.6-12.65zm-49.66 19.85l7.6 12.65-7.6 12.65-7.6-12.65zm38.2 0l7.6 12.65-7.6 12.65-7.6-12.65zm-26.74 6.62l7.6 12.65-7.6 12.65-7.6-12.65zm7.64 0l7.6 12.65-7.6 12.65-7.6-12.65zm7.64 0l7.6 12.65-7.6 12.65-7.6-12.65zm-164.26 19.85l7.6 12.65-7.6 12.65-7.6-12.65zm7.64 0l7.6 12.65-7.6 12.65-7.6-12.65zm7.64 0l7.6 12.65-7.6 12.65-7.6-12.65zm282.68 0l7.6 12.65-7.6 12.65-7.6-12.65zm7.64 0l7.6 12.65-7.6 12.65-7.6-12.65zm7.64 0l7.6 12.65-7.6 12.65-7.6-12.65zm-294.14 6.62l7.6 12.65-7.6 12.65-7.6-12.65zm7.64 0l7.6 12.65-7.6 12.65-7.6-12.65zm259.76 0l7.6 12.65-7.6 12.65-7.6-12.65zm7.64 0l7.6 12.65-7.6 12.65-7.6-12.65zm-263.58 6.62l7.6 12.65-7.6 12.65-7.6-12.65zm252.12 0l7.6 12.65-7.6 12.65-7.6-12.65zm-248.3 6.62l7.6 12.65-7.6 12.65-7.6-12.65zm244.48 0l7.6 12.65-7.6 12.65-7.6-12.65zm-240.66 6.62l7.6 12.65-7.6 12.65-7.6-12.65zm236.84 0l7.6 12.65-7.6 12.65-7.6-12.65zm-240.66 6.62l7.6 12.65-7.6 12.65-7.6-12.65zm244.48 0l7.6 12.65-7.6 12.65-7.6-12.65zm-240.66 6.62l7.6 12.65-7.6 12.65-7.6-12.65zm236.84 0l7.6 12.65-7.6 12.65-7.6-12.65zm-240.66 6.62l7.6 12.65-7.6 12.65-7.6-12.65zm244.48 0l7.6 12.65-7.6 12.65-7.6-12.65zm-248.3 6.62l7.6 12.65-7.6 12.65-7.6-12.65zm7.64 0l7.6 12.65-7.6 12.65-7.6-12.65zm236.84 0l7.6 12.65-7.6 12.65-7.6-12.65zm7.64 0l7.6 12.65-7.6 12.65-7.6-12.65zm-126.06 33.08l7.6 12.65-7.6 12.65-7.6-12.65zm-19.1 6.62l7.6 12.65-7.6 12.65-7.6-12.65zm7.64 0l7.6 12.65-7.6 12.65-7.6-12.65zm7.64 0l7.6 12.65-7.6 12.65-7.6-12.65zm7.64 0l7.6 12.65-7.6 12.65-7.6-12.65zm7.64 0l7.6 12.65-7.6 12.65-7.6-12.65zm7.64 0l7.6 12.65-7.6 12.65-7.6-12.65zm-49.66 6.62l7.6 12.65-7.6 12.65-7.6-12.65zm7.64 0l7.6 12.65-7.6 12.65-7.6-12.65zm45.84 0l7.6 12.65-7.6 12.65-7.6-12.65zm7.64 0l7.6 12.65-7.6 12.65-7.6-12.65zm-64.94 6.62l7.6 12.65-7.6 12.65-7.6-12.65zm7.64 0l7.6 12.65-7.6 12.65-7.6-12.65zm53.48 0l7.6 12.65-7.6 12.65-7.6-12.65zm7.64 0l7.6 12.65-7.6 12.65-7.6-12.65z"/><path fill="#8c0410" d="M627.13 564.54l7.6 12.65-7.6 12.65-7.6-12.65zm45.84 0l7.6 12.65-7.6 12.65-7.6-12.65zm-42.02 6.62l7.6 12.65-7.6 12.65-7.6-12.65zm38.2 0l7.6 12.65-7.6 12.65-7.6-12.65zm-34.38 6.62l7.6 12.65-7.6 12.65-7.6-12.65zm7.64 0l7.6 12.65-7.6 12.65-7.6-12.65zm7.64 0l7.6 12.65-7.6 12.65-7.6-12.65zm7.64 0l7.6 12.65-7.6 12.65-7.6-12.65zm7.64 0l7.6 12.65-7.6 12.65-7.6-12.65zm-145.16 52.93l7.6 12.65-7.6 12.65-7.6-12.65zm259.76 0l7.6 12.65-7.6 12.65-7.6-12.65zm-255.94 6.62l7.6 12.65-7.6 12.65-7.6-12.65zm252.12 0l7.6 12.65-7.6 12.65-7.6-12.65zm-255.94 6.62l7.6 12.65-7.6 12.65-7.6-12.65zm259.76 0l7.6 12.65-7.6 12.65-7.6-12.65zm-255.94 6.62l7.6 12.65-7.6 12.65-7.6-12.65zm252.12 0l7.6 12.65-7.6 12.65-7.6-12.65zm-255.94 6.62l7.6 12.65-7.6 12.65-7.6-12.65zm259.76 0l7.6 12.65-7.6 12.65-7.6-12.65zm-271.22 6.62l7.6 12.65-7.6 12.65-7.6-12.65zm7.64 0l7.6 12.65-7.6 12.65-7.6-12.65zm267.4 0l7.6 12.65-7.6 12.65-7.6-12.65zm7.64 0l7.6 12.65-7.6 12.65-7.6-12.65zm-294.14 6.62l7.6 12.65-7.6 12.65-7.6-12.65zm7.64 0l7.6 12.65-7.6 12.65-7.6-12.65zm290.32 0l7.6 12.65-7.6 12.65-7.6-12.65zm7.64 0l7.6 12.65-7.6 12.65-7.6-12.65zm-164.26 33.08l7.6 12.65-7.6 12.65-7.6-12.65zm7.64 0l7.6 12.65-7.6 12.65-7.6-12.65zm7.64 0l7.6 12.65-7.6 12.65-7.6-12.65zm7.64 0l7.6 12.65-7.6 12.65-7.6-12.65zm-34.38 6.62l7.6 12.65-7.6 12.65-7.6-12.65zm7.64 0l7.6 12.65-7.6 12.65-7.6-12.65zm30.56 0l7.6 12.65-7.6 12.65-7.6-12.65zm7.64 0l7.6 12.65-7.6 12.65-7.6-12.65zm-49.66 6.62l7.6 12.65-7.6 12.65-7.6-12.65zm53.48 0l7.6 12.65-7.6 12.65-7.6-12.65zm-53.48 13.23l7.6 12.65-7.6 12.65-7.6-12.65zm53.48 0l7.6 12.65-7.6 12.65-7.6-12.65zm-53.48 13.23l7.6 12.65-7.6 12.65-7.6-12.65zm53.48 0l7.6 12.65-7.6 12.65-7.6-12.65zm-49.66 6.62l7.6 12.65-7.6 12.65-7.6-12.65zm7.64 0l7.6 12.65-7.6 12.65-7.6-12.65zm30.56 0l7.6 12.65-7.6 12.65-7.6-12.65zm7.64 0l7.6 12.65-7.6 12.65-7.6-12.65zm-34.38 6.62l7.6 12.65-7.6 12.65-7.6-12.65zm7.64 0l7.6 12.65-7.6 12.65-7.6-12.65zm7.64 0l7.6 12.65-7.6 12.65-7.6-12.65zm7.64 0l7.6 12.65-7.6 12.65-7.6-12.65zm-164.26 33.08l7.6 12.65-7.6 12.65-7.6-12.65zm7.64 0l7.6 12.65-7.6 12.65-7.6-12.65zm290.32 0l7.6 12.65-7.6 12.65-7.6-12.65zm7.64 0l7.6 12.65-7.6 12.65-7.6-12.65zm-294.14 6.62l7.6 12.65-7.6 12.65-7.6-12.65zm7.64 0l7.6 12.65-7.6 12.65-7.6-12.65zm267.4 0l7.6 12.65-7.6 12.65-7.6-12.65zm7.64 0l7.6 12.65-7.6 12.65-7.6-12.65zm-271.22 6.62l7.6 12.65-7.6 12.65-7.6-12.65zm259.76 0l7.6 12.65-7.6 12.65-7.6-12.65zm-255.94 6.62l7.6 12.65-7.6 12.65-7.6-12.65zm252.12 0l7.6 12.65-7.6 12.65-7.6-12.65zm-255.94 6.62l7.6 12.65-7.6 12.65-7.6-12.65zm259.76 0l7.6 12.65-7.6 12.65-7.6-12.65zm-255.94 6.62l7.6 12.65-7.6 12.65-7.6-12.65zm252.12 0l7.6 12.65-7.6 12.65-7.6-12.65zm-255.94 6.62l7.6 12.65-7.6 12.65-7.6-12.65zm259.76 0l7.6 12.65-7.6 12.65-7.6-12.65zm-145.16 52.93l7.6 12.65-7.6 12.65-7.6-12.65zm7.64 0l7.6 12.65-7.6 12.65-7.6-12.65zm7.64 0l7.6 12.65-7.6 12.65-7.6-12.65zm7.64 0l7.6 12.65-7.6 12.65-7.6-12.65zm7.64 0l7.6 12.65-7.6 12.65-7.6-12.65zm-34.38 6.62l7.6 12.65-7.6 12.65-7.6-12.65zm38.2 0l7.6 12.65-7.6 12.65-7.6-12.65zm-42.02 6.62l7.6 12.65-7.6 12.65-7.6-12.65zm45.84 0l7.6 12.65-7.6 12.65-7.6-12.65z"/><path fill="#86020e" d="M634.77 564.54l7.6 12.65-7.6 12.65-7.6-12.65zm7.64 0l7.6 12.65-7.6 12.65-7.6-12.65zm15.28 0l7.6 12.65-7.6 12.65-7.6-12.65zm7.64 0l7.6 12.65-7.6 12.65-7.6-12.65zm-26.74 6.62l7.6 12.65-7.6 12.65-7.6-12.65zm7.64 0l7.6 12.65-7.6 12.65-7.6-12.65zm7.64 0l7.6 12.65-7.6 12.65-7.6-12.65zm7.64 0l7.6 12.65-7.6 12.65-7.6-12.65zm-148.98 59.55l7.6 12.65-7.6 12.65-7.6-12.65zm275.04 0l7.6 12.65-7.6 12.65-7.6-12.65zm-271.22 6.62l7.6 12.65-7.6 12.65-7.6-12.65zm267.4 0l7.6 12.65-7.6 12.65-7.6-12.65zm-271.22 6.62l7.6 12.65-7.6 12.65-7.6-12.65zm275.04 0l7.6 12.65-7.6 12.65-7.6-12.65zm-278.86 6.62l7.6 12.65-7.6 12.65-7.6-12.65zm7.64 0l7.6 12.65-7.6 12.65-7.6-12.65zm267.4 0l7.6 12.65-7.6 12.65-7.6-12.65zm7.64 0l7.6 12.65-7.6 12.65-7.6-12.65zm-294.14 6.62l7.6 12.65-7.6 12.65-7.6-12.65zm7.64 0l7.6 12.65-7.6 12.65-7.6-12.65zm7.64 0l7.6 12.65-7.6 12.65-7.6-12.65zm275.04 0l7.6 12.65-7.6 12.65-7.6-12.65zm7.64 0l7.6 12.65-7.6 12.65-7.6-12.65zm7.64 0l7.6 12.65-7.6 12.65-7.6-12.65zm-309.42 6.62l7.6 12.65-7.6 12.65-7.6-12.65zm7.64 0l7.6 12.65-7.6 12.65-7.6-12.65zm297.96 0l7.6 12.65-7.6 12.65-7.6-12.65zm7.64 0l7.6 12.65-7.6 12.65-7.6-12.65zm-164.26 46.32l7.6 12.65-7.6 12.65-7.6-12.65zm7.64 0l7.6 12.65-7.6 12.65-7.6-12.65zm7.64 0l7.6 12.65-7.6 12.65-7.6-12.65zm-26.74 6.62l7.6 12.65-7.6 12.65-7.6-12.65zm38.2 0l7.6 12.65-7.6 12.65-7.6-12.65zm-42.02 6.62l7.6 12.65-7.6 12.65-7.6-12.65zm45.84 0l7.6 12.65-7.6 12.65-7.6-12.65zm-42.02 6.62l7.6 12.65-7.6 12.65-7.6-12.65zm38.2 0l7.6 12.65-7.6 12.65-7.6-12.65zm-42.02 6.62l7.6 12.65-7.6 12.65-7.6-12.65zm45.84 0l7.6 12.65-7.6 12.65-7.6-12.65zm-42.02 6.62l7.6 12.65-7.6 12.65-7.6-12.65zm38.2 0l7.6 12.65-7.6 12.65-7.6-12.65zm-26.74 6.62l7.6 12.65-7.6 12.65-7.6-12.65zm7.64 0l7.6 12.65-7.6 12.65-7.6-12.65zm7.64 0l7.6 12.65-7.6 12.65-7.6-12.65zm-164.26 46.32l7.6 12.65-7.6 12.65-7.6-12.65zm7.64 0l7.6 12.65-7.6 12.65-7.6-12.65zm297.96 0l7.6 12.65-7.6 12.65-7.6-12.65zm7.64 0l7.6 12.65-7.6 12.65-7.6-12.65zm-309.42 6.62l7.6 12.65-7.6 12.65-7.6-12.65zm7.64 0l7.6 12.65-7.6 12.65-7.6-12.65zm7.64 0l7.6 12.65-7.6 12.65-7.6-12.65zm275.04 0l7.6 12.65-7.6 12.65-7.6-12.65zm7.64 0l7.6 12.65-7.6 12.65-7.6-12.65zm7.64 0l7.6 12.65-7.6 12.65-7.6-12.65zm-294.14 6.62l7.6 12.65-7.6 12.65-7.6-12.65zm7.64 0l7.6 12.65-7.6 12.65-7.6-12.65zm267.4 0l7.6 12.65-7.6 12.65-7.6-12.65zm7.64 0l7.6 12.65-7.6 12.65-7.6-12.65zm-278.86 6.62l7.6 12.65-7.6 12.65-7.6-12.65zm275.04 0l7.6 12.65-7.6 12.65-7.6-12.65zm-271.22 6.62l7.6 12.65-7.6 12.65-7.6-12.65zm267.4 0l7.6 12.65-7.6 12.65-7.6-12.65zm-271.22 6.62l7.6 12.65-7.6 12.65-7.6-12.65zm275.04 0l7.6 12.65-7.6 12.65-7.6-12.65zm-148.98 59.55l7.6 12.65-7.6 12.65-7.6-12.65zm7.64 0l7.6 12.65-7.6 12.65-7.6-12.65zm7.64 0l7.6 12.65-7.6 12.65-7.6-12.65zm7.64 0l7.6 12.65-7.6 12.65-7.6-12.65zm-26.74 6.62l7.6 12.65-7.6 12.65-7.6-12.65zm7.64 0l7.6 12.65-7.6 12.65-7.6-12.65zm15.28 0l7.6 12.65-7.6 12.65-7.6-12.65zm7.64 0l7.6 12.65-7.6 12.65-7.6-12.65z"/><path fill="#81010c" d="M650.05 551.31l7.6 12.65-7.6 12.65-7.6-12.65zm-11.46 6.62l7.6 12.65-7.6 12.65-7.6-12.65zm7.64 0l7.6 12.65-7.6 12.65-7.6-12.65zm7.64 0l7.6 12.65-7.6 12.65-7.6-12.65zm7.64 0l7.6 12.65-7.6 12.65-7.6-12.65zm-11.46 6.62l7.6 12.65-7.6 12.65-7.6-12.65zm-148.98 72.78l7.6 12.65-7.6 12.65-7.6-12.65zm7.64 0l7.6 12.65-7.6 12.65-7.6-12.65zm282.68 0l7.6 12.65-7.6 12.65-7.6-12.65zm7.64 0l7.6 12.65-7.6 12.65-7.6-12.65zm-301.78 6.62l7.6 12.65-7.6 12.65-7.6-12.65zm7.64 0l7.6 12.65-7.6 12.65-7.6-12.65zm290.32 0l7.6 12.65-7.6 12.65-7.6-12.65zm7.64 0l7.6 12.65-7.6 12.65-7.6-12.65zm-309.42 6.62l7.6 12.65-7.6 12.65-7.6-12.65zm7.64 0l7.6 12.65-7.6 12.65-7.6-12.65zm297.96 0l7.6 12.65-7.6 12.65-7.6-12.65zm7.64 0l7.6 12.65-7.6 12.65-7.6-12.65zm-168.08 66.16l7.6 12.65-7.6 12.65-7.6-12.65zm7.64 0l7.6 12.65-7.6 12.65-7.6-12.65zm7.64 0l7.6 12.65-7.6 12.65-7.6-12.65zm7.64 0l7.6 12.65-7.6 12.65-7.6-12.65zm-26.74 6.62l7.6 12.65-7.6 12.65-7.6-12.65zm30.56 0l7.6 12.65-7.6 12.65-7.6-12.65zm-30.56 13.23l7.6 12.65-7.6 12.65-7.6-12.65zm30.56 0l7.6 12.65-7.6 12.65-7.6-12.65zm-26.74 6.62l7.6 12.65-7.6 12.65-7.6-12.65zm7.64 0l7.6 12.65-7.6 12.65-7.6-12.65zm7.64 0l7.6 12.65-7.6 12.65-7.6-12.65zm7.64 0l7.6 12.65-7.6 12.65-7.6-12.65zm-168.08 66.16l7.6 12.65-7.6 12.65-7.6-12.65zm7.64 0l7.6 12.65-7.6 12.65-7.6-12.65zm297.96 0l7.6 12.65-7.6 12.65-7.6-12.65zm7.64 0l7.6 12.65-7.6 12.65-7.6-12.65zm-309.42 6.62l7.6 12.65-7.6 12.65-7.6-12.65zm7.64 0l7.6 12.65-7.6 12.65-7.6-12.65zm290.32 0l7.6 12.65-7.6 12.65-7.6-12.65zm7.64 0l7.6 12.65-7.6 12.65-7.6-12.65zm-301.78 6.62l7.6 12.65-7.6 12.65-7.6-12.65zm7.64 0l7.6 12.65-7.6 12.65-7.6-12.65zm282.68 0l7.6 12.65-7.6 12.65-7.6-12.65zm7.64 0l7.6 12.65-7.6 12.65-7.6-12.65zm-148.98 72.78l7.6 12.65-7.6 12.65-7.6-12.65zm-11.46 6.62l7.6 12.65-7.6 12.65-7.6-12.65zm7.64 0l7.6 12.65-7.6 12.65-7.6-12.65zm7.64 0l7.6 12.65-7.6 12.65-7.6-12.65zm7.64 0l7.6 12.65-7.6 12.65-7.6-12.65zm-11.46 6.62l7.6 12.65-7.6 12.65-7.6-12.65z"/><path fill="#7c010a" d="M642.41 723.33l7.6 12.65-7.6 12.65-7.6-12.65zm7.64 0l7.6 12.65-7.6 12.65-7.6-12.65zm7.64 0l7.6 12.65-7.6 12.65-7.6-12.65zm-19.1 6.62l7.6 12.65-7.6 12.65-7.6-12.65zm7.64 0l7.6 12.65-7.6 12.65-7.6-12.65zm7.64 0l7.6 12.65-7.6 12.65-7.6-12.65zm7.64 0l7.6 12.65-7.6 12.65-7.6-12.65zm-19.1 6.62l7.6 12.65-7.6 12.65-7.6-12.65zm7.64 0l7.6 12.65-7.6 12.65-7.6-12.65zm7.64 0l7.6 12.65-7.6 12.65-7.6-12.65z"/></g><polygon points="269.95,562.4 427.5,652.6 427.5,833 269.95,923.2 112.4,833 112.4,652.6" fill="none" stroke="#000" stroke-width="1.1" stroke-linejoin="miter"/><polygon points="650.05,562.3 806.1,652.45 806.1,832.75 650.05,922.9 494,832.75 494,652.45" fill="none" stroke="#000" stroke-width="1.1" stroke-linejoin="miter"/><rect x="849.3" y="563.6" width="17.8" height="358.3" fill="#780008"/><rect x="849.3" y="567.3" width="17.8" height="354.6" fill="#7c010a"/><rect x="849.3" y="574.6" width="17.8" height="347.3" fill="#81010c"/><rect x="849.3" y="581.9" width="17.8" height="340" fill="#86020e"/><rect x="849.3" y="589.2" width="17.8" height="332.7" fill="#8c0410"/><rect x="849.3" y="596.5" width="17.8" height="325.4" fill="#930613"/><rect x="849.3" y="603.8" width="17.8" height="318.1" fill="#990815"/><rect x="849.3" y="611.1" width="17.8" height="310.8" fill="#a00a18"/><rect x="849.3" y="618.4" width="17.8" height="303.5" fill="#a90c1b"/><rect x="849.3" y="625.7" width="17.8" height="296.2" fill="#b10f1f"/><rect x="849.3" y="633" width="17.8" height="288.9" fill="#b81120"/><rect x="849.3" y="640.3" width="17.8" height="281.6" fill="#bd1220"/><rect x="849.3" y="647.6" width="17.8" height="274.3" fill="#c21420"/><rect x="849.3" y="654.9" width="17.8" height="267" fill="#c62430"/><rect x="849.3" y="662.2" width="17.8" height="259.7" fill="#c9353e"/><rect x="849.3" y="669.5" width="17.8" height="252.4" fill="#cc434b"/><rect x="849.3" y="676.8" width="17.8" height="245.1" fill="#d05457"/><rect x="849.3" y="684.1" width="17.8" height="237.8" fill="#d46463"/><rect x="849.3" y="691.4" width="17.8" height="230.5" fill="#d8746f"/><rect x="849.3" y="698.7" width="17.8" height="223.2" fill="#dc827a"/><rect x="849.3" y="706" width="17.8" height="215.9" fill="#e19188"/><rect x="849.3" y="713.3" width="17.8" height="208.6" fill="#e6a293"/><rect x="849.3" y="720.6" width="17.8" height="201.3" fill="#ebb4a2"/><rect x="849.3" y="727.9" width="17.8" height="194" fill="#f0c6b2"/><rect x="849.3" y="735.2" width="17.8" height="186.7" fill="#f4d7c1"/><rect x="849.3" y="742.5" width="17.8" height="179.4" fill="#f5e5cf"/><rect x="849.3" y="749.8" width="17.8" height="172.1" fill="#e2dac5"/><rect x="849.3" y="757.1" width="17.8" height="164.8" fill="#cdccb9"/><rect x="849.3" y="764.4" width="17.8" height="157.5" fill="#b8bcad"/><rect x="849.3" y="771.7" width="17.8" height="150.2" fill="#a3ada2"/><rect x="849.3" y="779" width="17.8" height="142.9" fill="#8c9b95"/><rect x="849.3" y="786.3" width="17.8" height="135.6" fill="#758a87"/><rect x="849.3" y="793.6" width="17.8" height="128.3" fill="#5f7879"/><rect x="849.3" y="800.9" width="17.8" height="121" fill="#4b686c"/><rect x="849.3" y="808.2" width="17.8" height="113.7" fill="#365763"/><rect x="849.3" y="815.5" width="17.8" height="106.4" fill="#22485a"/><rect x="849.3" y="822.8" width="17.8" height="99.1" fill="#09354d"/><rect x="849.3" y="830.1" width="17.8" height="91.8" fill="#06324b"/><rect x="849.3" y="837.4" width="17.8" height="84.5" fill="#123e58"/><rect x="849.3" y="844.7" width="17.8" height="77.2" fill="#1c4862"/><rect x="849.3" y="852" width="17.8" height="69.9" fill="#204c67"/><rect x="849.3" y="859.3" width="17.8" height="62.6" fill="#25536e"/><rect x="849.3" y="866.6" width="17.8" height="55.3" fill="#2e5d79"/><rect x="849.3" y="873.9" width="17.8" height="48" fill="#386785"/><rect x="849.3" y="881.2" width="17.8" height="40.7" fill="#417291"/><rect x="849.3" y="888.5" width="17.8" height="33.4" fill="#4a7c9c"/><rect x="849.3" y="895.8" width="17.8" height="26.1" fill="#5285a7"/><rect x="849.3" y="903.1" width="17.8" height="18.8" fill="#598db0"/><rect x="849.3" y="910.4" width="17.8" height="11.5" fill="#6195ba"/><rect x="849.3" y="917.7" width="17.8" height="4.2" fill="#699cc3"/><path d="M849.3 563.6H867.1V921.9H849.3ZM867.1 880.7h11M867.1 742.95h11M867.1 605.2h11" fill="none" stroke="#000" stroke-width="2.5"/><g opacity="0.999"><g transform="translate(104.11,56.00) scale(1.0447,1)" fill="#000"><text font-size="34">(a)</text></g><g transform="translate(445.07,91.50) scale(1.0640,1)" fill="#000"><text font-size="34">parafermion</text></g><g transform="translate(285.18,458.90) scale(1.0740,1)" fill="#000"><text font-size="34">Interlayer coupling</text></g><g transform="translate(593.89,458.90) scale(1.0529,1)" fill="#000"><text font-size="34" font-style="italic">γ</text></g><g transform="translate(190.97,415.30) scale(0.8675,1)" fill="#000"><text font-size="34">1</text></g><g transform="translate(312.98,415.30) scale(0.8629,1)" fill="#000"><text font-size="34">2</text></g><g transform="translate(435.26,415.30) scale(0.8976,1)" fill="#000"><text font-size="34">3</text></g><g transform="translate(557.50,415.30) scale(0.9350,1)" fill="#000"><text font-size="34">4</text></g><g transform="translate(679.72,415.30) scale(0.8806,1)" fill="#000"><text font-size="34">5</text></g><g transform="translate(801.68,415.30) scale(0.9382,1)" fill="#000"><text font-size="34">6</text></g><g transform="translate(49.44,381.20) scale(0.8675,1)" fill="#000"><text font-size="34">1</text></g><g transform="translate(49.22,202.05) scale(0.8629,1)" fill="#000"><text font-size="34">2</text></g><g transform="translate(49.28,22.90) scale(0.8976,1)" fill="#000"><text font-size="34">3</text></g><g transform="translate(833.34,381.20) scale(1.0304,1)" fill="#000"><text font-size="34">0.0</text></g><g transform="translate(833.36,261.77) scale(1.0129,1)" fill="#000"><text font-size="34">0.1</text></g><g transform="translate(833.36,142.33) scale(1.0062,1)" fill="#000"><text font-size="34">0.2</text></g><g transform="translate(833.35,22.90) scale(1.0216,1)" fill="#000"><text font-size="34">0.3</text></g><g transform="translate(890.12,892.90) scale(0.8675,1)" fill="#000"><text font-size="34">1</text></g><g transform="translate(889.90,755.15) scale(0.8629,1)" fill="#000"><text font-size="34">2</text></g><g transform="translate(889.96,617.40) scale(0.8976,1)" fill="#000"><text font-size="34">3</text></g><g transform="translate(277.27,265.00) scale(0.9292,1)" fill="#c0111f"><text font-size="34" font-style="italic">N</text></g><g transform="translate(300.90,270.30) scale(0.9583,1)" fill="#c0111f"><text font-size="23.8" font-style="italic">s</text></g><g transform="translate(321.26,267.00) scale(1.1444,1)" fill="#c0111f"><text font-size="34" stroke="#c0111f" stroke-width="0.7">=</text></g><g transform="translate(352.58,265.00) scale(1.0167,1)" fill="#c0111f"><text font-size="34">20</text></g><g transform="translate(277.27,312.60) scale(0.9292,1)" fill="#78000a"><text font-size="34" font-style="italic">N</text></g><g transform="translate(300.90,317.90) scale(0.9583,1)" fill="#78000a"><text font-size="23.8" font-style="italic">s</text></g><g transform="translate(321.26,314.60) scale(1.1444,1)" fill="#78000a"><text font-size="34" stroke="#78000a" stroke-width="0.7">=</text></g><g transform="translate(352.58,312.60) scale(1.0167,1)" fill="#78000a"><text font-size="34">25</text></g><g transform="translate(178.17,545.50) scale(1.0632,1)" fill="#000"><text font-size="34">(b)</text></g><g transform="translate(232.92,545.50) scale(1.0412,1)" fill="#000"><text font-size="34" font-style="italic">γ</text></g><g transform="translate(259.79,547.50) scale(1.1111,1)" fill="#000"><text font-size="34" stroke="#000" stroke-width="0.7">=</text></g><g transform="translate(291.38,545.50) scale(1.0156,1)" fill="#000"><text font-size="34">0.20</text></g><g transform="translate(559.81,545.50) scale(1.0444,1)" fill="#000"><text font-size="34">(c)</text></g><g transform="translate(611.99,545.50) scale(1.0529,1)" fill="#000"><text font-size="34" font-style="italic">γ</text></g><g transform="translate(638.78,547.50) scale(1.1222,1)" fill="#000"><text font-size="34" stroke="#000" stroke-width="0.7">=</text></g><g transform="translate(670.11,545.50) scale(0.9922,1)" fill="#000"><text font-size="34">3.75</text></g><g transform="translate(24.70,373.00) rotate(-90) translate(0.00,0) scale(1.0688,1)" fill="#000"><text font-size="34">Avg. quantum metric</text></g><g transform="translate(24.70,29.80) rotate(-90) translate(1.96,0) scale(0.9810,1)" fill="#000"><text font-size="34" font-style="italic">χ</text></g><g transform="translate(920.00,362.50) rotate(-90) translate(-2.07,0) scale(1.0366,1)" fill="#000"><text font-size="34">Many-body gap (meV)</text></g><g transform="translate(946.60,871.20) rotate(-90) translate(-1.07,0) scale(1.0688,1)" fill="#000"><text font-size="34">Quantum metric</text></g></g></svg></body></html>
